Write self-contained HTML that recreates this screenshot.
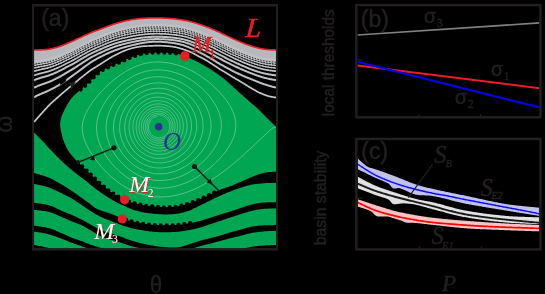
<!DOCTYPE html>
<html><head><meta charset="utf-8"><title>figure</title>
<style>html,body{margin:0;padding:0;background:#000;}svg{display:block;will-change:transform;}</style></head>
<body><svg width="545" height="294" viewBox="0 0 545 294">
<rect x="0" y="0" width="545" height="294" fill="#000"/>
<defs><clipPath id="ca"><rect x="34.00" y="6.00" width="242.20" height="242.50"/></clipPath></defs>
<g clip-path="url(#ca)">
<path d="M34.00 50.00 L34.50 49.99 L35.00 49.98 L35.50 49.97 L36.00 49.96 L36.50 49.96 L37.00 49.95 L37.50 49.94 L38.00 49.94 L38.50 49.93 L39.00 49.92 L39.50 49.91 L40.00 49.89 L40.50 49.87 L41.00 49.85 L41.50 49.83 L42.00 49.80 L42.50 49.77 L43.00 49.74 L43.50 49.71 L44.00 49.68 L44.50 49.65 L45.00 49.62 L45.50 49.59 L46.00 49.55 L46.50 49.50 L47.00 49.45 L47.50 49.39 L48.00 49.33 L48.50 49.26 L49.00 49.18 L49.50 49.09 L50.00 49.00 L50.50 48.90 L51.00 48.80 L51.50 48.69 L52.00 48.58 L52.50 48.46 L53.00 48.34 L53.50 48.22 L54.00 48.09 L54.50 47.96 L55.00 47.83 L55.50 47.69 L56.00 47.55 L56.50 47.41 L57.00 47.26 L57.50 47.11 L58.00 46.96 L58.50 46.80 L59.00 46.64 L59.50 46.47 L60.00 46.30 L60.50 46.13 L61.00 45.95 L61.50 45.76 L62.00 45.57 L62.50 45.38 L63.00 45.19 L63.50 44.99 L64.00 44.79 L64.50 44.58 L65.00 44.38 L65.50 44.17 L66.00 43.96 L66.50 43.75 L67.00 43.53 L67.50 43.32 L68.00 43.10 L68.50 42.89 L69.00 42.67 L69.50 42.45 L70.00 42.23 L70.50 42.02 L71.00 41.80 L71.50 41.58 L72.00 41.36 L72.50 41.14 L73.00 40.91 L73.50 40.69 L74.00 40.46 L74.50 40.23 L75.00 40.00 L75.50 39.76 L76.00 39.53 L76.50 39.29 L77.00 39.06 L77.50 38.83 L78.00 38.59 L78.50 38.36 L79.00 38.12 L79.50 37.89 L80.00 37.66 L80.50 37.43 L81.00 37.20 L81.50 36.97 L82.00 36.74 L82.50 36.51 L83.00 36.28 L83.50 36.05 L84.00 35.82 L84.50 35.59 L85.00 35.36 L85.50 35.13 L86.00 34.90 L86.50 34.68 L87.00 34.45 L87.50 34.22 L88.00 34.00 L88.50 33.78 L89.00 33.56 L89.50 33.34 L90.00 33.12 L90.50 32.91 L91.00 32.70 L91.50 32.49 L92.00 32.29 L92.50 32.09 L93.00 31.90 L93.50 31.70 L94.00 31.51 L94.50 31.33 L95.00 31.14 L95.50 30.96 L96.00 30.77 L96.50 30.59 L97.00 30.41 L97.50 30.23 L98.00 30.04 L98.50 29.86 L99.00 29.67 L99.50 29.49 L100.00 29.30 L100.50 29.11 L101.00 28.92 L101.50 28.72 L102.00 28.53 L102.50 28.34 L103.00 28.14 L103.50 27.95 L104.00 27.75 L104.50 27.56 L105.00 27.36 L105.50 27.17 L106.00 26.98 L106.50 26.79 L107.00 26.60 L107.50 26.41 L108.00 26.22 L108.50 26.04 L109.00 25.86 L109.50 25.68 L110.00 25.50 L110.50 25.33 L111.00 25.15 L111.50 24.98 L112.00 24.81 L112.50 24.64 L113.00 24.47 L113.50 24.30 L114.00 24.13 L114.50 23.97 L115.00 23.81 L115.50 23.65 L116.00 23.49 L116.50 23.33 L117.00 23.18 L117.50 23.02 L118.00 22.87 L118.50 22.73 L119.00 22.58 L119.50 22.44 L120.00 22.30 L120.50 22.16 L121.00 22.03 L121.50 21.90 L122.00 21.77 L122.50 21.64 L123.00 21.52 L123.50 21.39 L124.00 21.27 L124.50 21.15 L125.00 21.04 L125.50 20.92 L126.00 20.81 L126.50 20.70 L127.00 20.60 L127.50 20.49 L128.00 20.39 L128.50 20.29 L129.00 20.19 L129.50 20.09 L130.00 20.00 L130.50 19.91 L131.00 19.82 L131.50 19.73 L132.00 19.65 L132.50 19.57 L133.00 19.49 L133.50 19.41 L134.00 19.34 L134.50 19.26 L135.00 19.19 L135.50 19.13 L136.00 19.06 L136.50 19.00 L137.00 18.93 L137.50 18.87 L138.00 18.81 L138.50 18.76 L139.00 18.70 L139.50 18.65 L140.00 18.60 L140.50 18.55 L141.00 18.50 L141.50 18.46 L142.00 18.42 L142.50 18.38 L143.00 18.34 L143.50 18.31 L144.00 18.27 L144.50 18.24 L145.00 18.21 L145.50 18.18 L146.00 18.16 L146.50 18.13 L147.00 18.11 L147.50 18.09 L148.00 18.07 L148.50 18.05 L149.00 18.03 L149.50 18.02 L150.00 18.00 L150.50 17.99 L151.00 17.97 L151.50 17.96 L152.00 17.95 L152.50 17.95 L153.00 17.94 L153.50 17.94 L154.00 17.93 L154.50 17.93 L155.00 17.93 L155.50 17.93 L156.00 17.94 L156.50 17.94 L157.00 17.94 L157.50 17.95 L158.00 17.96 L158.50 17.97 L159.00 17.98 L159.50 17.99 L160.00 18.00 L160.50 18.01 L161.00 18.03 L161.50 18.04 L162.00 18.06 L162.50 18.08 L163.00 18.09 L163.50 18.11 L164.00 18.14 L164.50 18.16 L165.00 18.18 L165.50 18.21 L166.00 18.23 L166.50 18.26 L167.00 18.29 L167.50 18.32 L168.00 18.35 L168.50 18.39 L169.00 18.42 L169.50 18.46 L170.00 18.50 L170.50 18.54 L171.00 18.58 L171.50 18.62 L172.00 18.67 L172.50 18.71 L173.00 18.76 L173.50 18.81 L174.00 18.86 L174.50 18.91 L175.00 18.96 L175.50 19.02 L176.00 19.07 L176.50 19.13 L177.00 19.19 L177.50 19.25 L178.00 19.32 L178.50 19.39 L179.00 19.45 L179.50 19.53 L180.00 19.60 L180.50 19.68 L181.00 19.75 L181.50 19.83 L182.00 19.91 L182.50 19.99 L183.00 20.08 L183.50 20.16 L184.00 20.25 L184.50 20.34 L185.00 20.43 L185.50 20.53 L186.00 20.62 L186.50 20.72 L187.00 20.82 L187.50 20.93 L188.00 21.04 L188.50 21.15 L189.00 21.26 L189.50 21.38 L190.00 21.50 L190.50 21.62 L191.00 21.75 L191.50 21.88 L192.00 22.02 L192.50 22.15 L193.00 22.29 L193.50 22.44 L194.00 22.58 L194.50 22.73 L195.00 22.88 L195.50 23.03 L196.00 23.19 L196.50 23.35 L197.00 23.51 L197.50 23.67 L198.00 23.83 L198.50 24.00 L199.00 24.16 L199.50 24.33 L200.00 24.50 L200.50 24.67 L201.00 24.84 L201.50 25.02 L202.00 25.19 L202.50 25.37 L203.00 25.55 L203.50 25.73 L204.00 25.91 L204.50 26.09 L205.00 26.28 L205.50 26.46 L206.00 26.65 L206.50 26.84 L207.00 27.03 L207.50 27.22 L208.00 27.41 L208.50 27.61 L209.00 27.80 L209.50 28.00 L210.00 28.20 L210.50 28.40 L211.00 28.60 L211.50 28.80 L212.00 29.01 L212.50 29.22 L213.00 29.43 L213.50 29.64 L214.00 29.85 L214.50 30.07 L215.00 30.29 L215.50 30.51 L216.00 30.73 L216.50 30.95 L217.00 31.18 L217.50 31.40 L218.00 31.63 L218.50 31.85 L219.00 32.08 L219.50 32.31 L220.00 32.54 L220.50 32.77 L221.00 33.00 L221.50 33.23 L222.00 33.47 L222.50 33.70 L223.00 33.94 L223.50 34.18 L224.00 34.42 L224.50 34.67 L225.00 34.91 L225.50 35.16 L226.00 35.40 L226.50 35.64 L227.00 35.89 L227.50 36.13 L228.00 36.38 L228.50 36.62 L229.00 36.86 L229.50 37.10 L230.00 37.33 L230.50 37.57 L231.00 37.80 L231.50 38.03 L232.00 38.26 L232.50 38.49 L233.00 38.71 L233.50 38.94 L234.00 39.17 L234.50 39.39 L235.00 39.62 L235.50 39.84 L236.00 40.06 L236.50 40.28 L237.00 40.50 L237.50 40.72 L238.00 40.93 L238.50 41.15 L239.00 41.36 L239.50 41.58 L240.00 41.79 L240.50 41.99 L241.00 42.20 L241.50 42.40 L242.00 42.61 L242.50 42.81 L243.00 43.01 L243.50 43.22 L244.00 43.41 L244.50 43.61 L245.00 43.81 L245.50 44.00 L246.00 44.19 L246.50 44.38 L247.00 44.56 L247.50 44.74 L248.00 44.92 L248.50 45.10 L249.00 45.27 L249.50 45.44 L250.00 45.60 L250.50 45.76 L251.00 45.92 L251.50 46.08 L252.00 46.23 L252.50 46.39 L253.00 46.54 L253.50 46.69 L254.00 46.83 L254.50 46.98 L255.00 47.12 L255.50 47.26 L256.00 47.40 L256.50 47.53 L257.00 47.67 L257.50 47.80 L258.00 47.92 L258.50 48.05 L259.00 48.17 L259.50 48.29 L260.00 48.40 L260.50 48.51 L261.00 48.61 L261.50 48.71 L262.00 48.81 L262.50 48.90 L263.00 48.98 L263.50 49.06 L264.00 49.13 L264.50 49.20 L265.00 49.27 L265.50 49.33 L266.00 49.39 L266.50 49.45 L267.00 49.50 L267.50 49.55 L268.00 49.60 L268.50 49.65 L269.00 49.69 L269.50 49.72 L270.00 49.75 L270.50 49.78 L271.00 49.81 L271.50 49.83 L272.00 49.85 L272.50 49.86 L273.00 49.88 L273.50 49.90 L274.00 49.91 L274.50 49.93 L275.00 49.95 L275.50 49.97 L276.00 49.99 L276.00 63.57 L275.50 63.51 L275.00 63.45 L274.50 63.39 L274.00 63.33 L273.50 63.27 L273.00 63.21 L272.50 63.15 L272.00 63.09 L271.50 63.02 L271.00 62.96 L270.50 62.89 L270.00 62.82 L269.50 62.74 L269.00 62.66 L268.50 62.57 L268.00 62.48 L267.50 62.38 L267.00 62.28 L266.50 62.18 L266.00 62.08 L265.50 61.98 L265.00 61.87 L264.50 61.76 L264.00 61.64 L263.50 61.52 L263.00 61.40 L262.50 61.27 L262.00 61.14 L261.50 61.00 L261.00 60.86 L260.50 60.71 L260.00 60.56 L259.50 60.41 L259.00 60.25 L258.50 60.09 L258.00 59.93 L257.50 59.76 L257.00 59.59 L256.50 59.42 L256.00 59.25 L255.50 59.08 L255.00 58.90 L254.50 58.73 L254.00 58.55 L253.50 58.37 L253.00 58.20 L252.50 58.02 L252.00 57.84 L251.50 57.65 L251.00 57.47 L250.50 57.29 L250.00 57.10 L249.50 56.91 L249.00 56.72 L248.50 56.53 L248.00 56.33 L247.50 56.14 L247.00 55.94 L246.50 55.73 L246.00 55.53 L245.50 55.32 L245.00 55.11 L244.50 54.90 L244.00 54.69 L243.50 54.48 L243.00 54.26 L242.50 54.04 L242.00 53.83 L241.50 53.61 L241.00 53.39 L240.50 53.18 L240.00 52.96 L239.50 52.74 L239.00 52.51 L238.50 52.29 L238.00 52.07 L237.50 51.84 L237.00 51.61 L236.50 51.39 L236.00 51.16 L235.50 50.93 L235.00 50.70 L234.50 50.47 L234.00 50.24 L233.50 50.01 L233.00 49.77 L232.50 49.54 L232.00 49.31 L231.50 49.07 L231.00 48.84 L230.50 48.60 L230.00 48.37 L229.50 48.13 L229.00 47.88 L228.50 47.64 L228.00 47.40 L227.50 47.15 L227.00 46.90 L226.50 46.66 L226.00 46.41 L225.50 46.16 L225.00 45.92 L224.50 45.67 L224.00 45.43 L223.50 45.18 L223.00 44.94 L222.50 44.70 L222.00 44.47 L221.50 44.23 L221.00 44.00 L220.50 43.77 L220.00 43.54 L219.50 43.31 L219.00 43.08 L218.50 42.86 L218.00 42.63 L217.50 42.41 L217.00 42.18 L216.50 41.96 L216.00 41.74 L215.50 41.52 L215.00 41.31 L214.50 41.09 L214.00 40.88 L213.50 40.67 L213.00 40.47 L212.50 40.26 L212.00 40.06 L211.50 39.86 L211.00 39.66 L210.50 39.47 L210.00 39.27 L209.50 39.08 L209.00 38.89 L208.50 38.71 L208.00 38.52 L207.50 38.34 L207.00 38.15 L206.50 37.97 L206.00 37.79 L205.50 37.61 L205.00 37.44 L204.50 37.26 L204.00 37.09 L203.50 36.92 L203.00 36.75 L202.50 36.58 L202.00 36.42 L201.50 36.25 L201.00 36.09 L200.50 35.93 L200.00 35.77 L199.50 35.61 L199.00 35.46 L198.50 35.30 L198.00 35.15 L197.50 35.00 L197.00 34.85 L196.50 34.70 L196.00 34.55 L195.50 34.41 L195.00 34.27 L194.50 34.13 L194.00 33.99 L193.50 33.86 L193.00 33.72 L192.50 33.60 L192.00 33.47 L191.50 33.35 L191.00 33.23 L190.50 33.11 L190.00 33.00 L189.50 32.89 L189.00 32.79 L188.50 32.68 L188.00 32.59 L187.50 32.49 L187.00 32.40 L186.50 32.31 L186.00 32.23 L185.50 32.15 L185.00 32.07 L184.50 31.99 L184.00 31.92 L183.50 31.85 L183.00 31.78 L182.50 31.71 L182.00 31.65 L181.50 31.58 L181.00 31.52 L180.50 31.46 L180.00 31.41 L179.50 31.35 L179.00 31.30 L178.50 31.25 L178.00 31.20 L177.50 31.15 L177.00 31.11 L176.50 31.06 L176.00 31.02 L175.50 30.98 L175.00 30.95 L174.50 30.91 L174.00 30.88 L173.50 30.85 L173.00 30.82 L172.50 30.79 L172.00 30.76 L171.50 30.73 L171.00 30.71 L170.50 30.69 L170.00 30.66 L169.50 30.64 L169.00 30.62 L168.50 30.60 L168.00 30.58 L167.50 30.57 L167.00 30.55 L166.50 30.54 L166.00 30.52 L165.50 30.51 L165.00 30.50 L164.50 30.49 L164.00 30.48 L163.50 30.48 L163.00 30.47 L162.50 30.47 L162.00 30.46 L161.50 30.46 L161.00 30.46 L160.50 30.45 L160.00 30.45 L159.50 30.45 L159.00 30.45 L158.50 30.45 L158.00 30.45 L157.50 30.46 L157.00 30.46 L156.50 30.46 L156.00 30.47 L155.50 30.47 L155.00 30.48 L154.50 30.49 L154.00 30.50 L153.50 30.50 L153.00 30.51 L152.50 30.53 L152.00 30.54 L151.50 30.55 L151.00 30.57 L150.50 30.58 L150.00 30.60 L149.50 30.62 L149.00 30.64 L148.50 30.66 L148.00 30.68 L147.50 30.70 L147.00 30.72 L146.50 30.74 L146.00 30.77 L145.50 30.79 L145.00 30.82 L144.50 30.85 L144.00 30.88 L143.50 30.91 L143.00 30.94 L142.50 30.97 L142.00 31.01 L141.50 31.05 L141.00 31.09 L140.50 31.13 L140.00 31.18 L139.50 31.22 L139.00 31.27 L138.50 31.32 L138.00 31.37 L137.50 31.42 L137.00 31.48 L136.50 31.53 L136.00 31.59 L135.50 31.65 L135.00 31.71 L134.50 31.78 L134.00 31.84 L133.50 31.91 L133.00 31.98 L132.50 32.06 L132.00 32.13 L131.50 32.21 L131.00 32.29 L130.50 32.37 L130.00 32.45 L129.50 32.54 L129.00 32.62 L128.50 32.71 L128.00 32.81 L127.50 32.90 L127.00 33.00 L126.50 33.10 L126.00 33.20 L125.50 33.30 L125.00 33.41 L124.50 33.51 L124.00 33.62 L123.50 33.74 L123.00 33.85 L122.50 33.97 L122.00 34.09 L121.50 34.21 L121.00 34.33 L120.50 34.45 L120.00 34.58 L119.50 34.71 L119.00 34.85 L118.50 34.98 L118.00 35.12 L117.50 35.26 L117.00 35.41 L116.50 35.55 L116.00 35.70 L115.50 35.85 L115.00 36.00 L114.50 36.16 L114.00 36.31 L113.50 36.47 L113.00 36.63 L112.50 36.79 L112.00 36.95 L111.50 37.12 L111.00 37.28 L110.50 37.45 L110.00 37.62 L109.50 37.79 L109.00 37.96 L108.50 38.13 L108.00 38.31 L107.50 38.49 L107.00 38.67 L106.50 38.85 L106.00 39.04 L105.50 39.22 L105.00 39.41 L104.50 39.60 L104.00 39.79 L103.50 39.98 L103.00 40.17 L102.50 40.36 L102.00 40.55 L101.50 40.74 L101.00 40.93 L100.50 41.11 L100.00 41.30 L99.50 41.49 L99.00 41.67 L98.50 41.85 L98.00 42.03 L97.50 42.21 L97.00 42.39 L96.50 42.57 L96.00 42.75 L95.50 42.92 L95.00 43.11 L94.50 43.29 L94.00 43.47 L93.50 43.66 L93.00 43.85 L92.50 44.04 L92.00 44.23 L91.50 44.43 L91.00 44.64 L90.50 44.84 L90.00 45.05 L89.50 45.26 L89.00 45.48 L88.50 45.69 L88.00 45.91 L87.50 46.13 L87.00 46.36 L86.50 46.58 L86.00 46.80 L85.50 47.03 L85.00 47.26 L84.50 47.48 L84.00 47.71 L83.50 47.94 L83.00 48.17 L82.50 48.39 L82.00 48.62 L81.50 48.85 L81.00 49.07 L80.50 49.30 L80.00 49.53 L79.50 49.76 L79.00 49.99 L78.50 50.22 L78.00 50.45 L77.50 50.69 L77.00 50.92 L76.50 51.15 L76.00 51.39 L75.50 51.62 L75.00 51.85 L74.50 52.08 L74.00 52.31 L73.50 52.54 L73.00 52.77 L72.50 53.00 L72.00 53.22 L71.50 53.44 L71.00 53.66 L70.50 53.88 L70.00 54.10 L69.50 54.32 L69.00 54.54 L68.50 54.76 L68.00 54.98 L67.50 55.20 L67.00 55.42 L66.50 55.64 L66.00 55.86 L65.50 56.07 L65.00 56.29 L64.50 56.50 L64.00 56.71 L63.50 56.92 L63.00 57.13 L62.50 57.33 L62.00 57.53 L61.50 57.73 L61.00 57.92 L60.50 58.11 L60.00 58.30 L59.50 58.48 L59.00 58.66 L58.50 58.84 L58.00 59.01 L57.50 59.18 L57.00 59.35 L56.50 59.52 L56.00 59.68 L55.50 59.84 L55.00 60.00 L54.50 60.15 L54.00 60.31 L53.50 60.46 L53.00 60.61 L52.50 60.75 L52.00 60.89 L51.50 61.03 L51.00 61.17 L50.50 61.30 L50.00 61.43 L49.50 61.56 L49.00 61.68 L48.50 61.79 L48.00 61.89 L47.50 61.99 L47.00 62.09 L46.50 62.17 L46.00 62.25 L45.50 62.33 L45.00 62.41 L44.50 62.48 L44.00 62.55 L43.50 62.61 L43.00 62.68 L42.50 62.75 L42.00 62.82 L41.50 62.89 L41.00 62.95 L40.50 63.01 L40.00 63.07 L39.50 63.12 L39.00 63.17 L38.50 63.22 L38.00 63.26 L37.50 63.31 L37.00 63.35 L36.50 63.39 L36.00 63.43 L35.50 63.47 L35.00 63.52 L34.50 63.56 L34.00 63.60Z" fill="#b7b8bb"/>
<path d="M34.00 97.30 L34.50 97.04 L35.00 96.77 L35.50 96.51 L36.00 96.24 L36.50 95.98 L37.00 95.72 L37.50 95.46 L38.00 95.22 L38.50 94.97 L39.00 94.74 L39.50 94.51 L40.00 94.29 L40.50 94.07 L41.00 93.86 L41.50 93.65 L42.00 93.44 L42.50 93.23 L43.00 93.02 L43.50 92.81 L44.00 92.61 L44.50 92.40 L45.00 92.18 L45.50 91.96 L46.00 91.74 L46.50 91.52 L47.00 91.30 L47.50 91.08 L48.00 90.85 L48.50 90.62 L49.00 90.39 L49.50 90.15 L50.00 89.91 L50.50 89.66 L51.00 89.41 L51.50 89.16 L52.00 88.90 L52.50 88.64 L53.00 88.38 L53.50 88.12 L54.00 87.85 L54.50 87.58 L55.00 87.30 L55.50 87.02 L56.00 86.74 L56.50 86.46 L57.00 86.17 L57.50 85.88 L58.00 85.58 L58.50 85.29 L59.00 84.98 L59.50 84.68 L60.00 84.37 L60.50 84.06 L61.00 83.74 L61.50 83.42 L62.00 83.09 L62.50 82.76 L63.00 82.43 L63.50 82.09 L64.00 81.75 L64.50 81.41 L65.00 81.07 L65.50 80.72 L66.00 80.37 L66.50 80.02 L67.00 79.67 L67.50 79.32 L68.00 78.96 L68.50 78.61 L69.00 78.25 L69.50 77.90 L70.00 77.54 L70.50 77.19 L71.00 76.83 L71.50 76.48 L72.00 76.12 L72.50 75.76 L73.00 75.39 L73.50 75.03 L74.00 74.66 L74.50 74.30 L75.00 73.93 L75.50 73.56 L76.00 73.19 L76.50 72.82 L77.00 72.45 L77.50 72.08 L78.00 71.71 L78.50 71.34 L79.00 70.97 L79.50 70.61 L80.00 70.24 L80.50 69.88 L81.00 69.51 L81.50 69.15 L82.00 68.78 L82.50 68.41 L83.00 68.04 L83.50 67.67 L84.00 67.29 L84.50 66.92 L85.00 66.55 L85.50 66.17 L86.00 65.80 L86.50 65.43 L87.00 65.06 L87.50 64.70 L88.00 64.33 L88.50 63.97 L89.00 63.62 L89.50 63.27 L90.00 62.92 L90.50 62.58 L91.00 62.24 L91.50 61.91 L92.00 61.59 L92.50 61.28 L93.00 60.97 L93.50 60.67 L94.00 60.37 L94.50 60.09 L95.00 59.80 L95.50 59.53 L96.00 59.26 L96.50 58.99 L97.00 58.72 L97.50 58.46 L98.00 58.20 L98.50 57.94 L99.00 57.68 L99.50 57.43 L100.00 57.17 L100.50 56.92 L101.00 56.66 L101.50 56.41 L102.00 56.16 L102.50 55.90 L103.00 55.66 L103.50 55.41 L104.00 55.16 L104.50 54.92 L105.00 54.67 L105.50 54.43 L106.00 54.19 L106.50 53.96 L107.00 53.72 L107.50 53.49 L108.00 53.26 L108.50 53.03 L109.00 52.81 L109.50 52.59 L110.00 52.37 L110.50 52.16 L111.00 51.94 L111.50 51.73 L112.00 51.53 L112.50 51.32 L113.00 51.12 L113.50 50.92 L114.00 50.73 L114.50 50.53 L115.00 50.34 L115.50 50.15 L116.00 49.97 L116.50 49.78 L117.00 49.60 L117.50 49.43 L118.00 49.25 L118.50 49.08 L119.00 48.91 L119.50 48.75 L120.00 48.58 L120.50 48.42 L121.00 48.27 L121.50 48.11 L122.00 47.96 L122.50 47.81 L123.00 47.66 L123.50 47.51 L124.00 47.36 L124.50 47.22 L125.00 47.08 L125.50 46.94 L126.00 46.80 L126.50 46.66 L127.00 46.53 L127.50 46.39 L128.00 46.26 L128.50 46.13 L129.00 46.00 L129.50 45.88 L130.00 45.75 L130.50 45.62 L131.00 45.50 L131.50 45.38 L132.00 45.26 L132.50 45.13 L133.00 45.01 L133.50 44.89 L134.00 44.78 L134.50 44.66 L135.00 44.54 L135.50 44.43 L136.00 44.32 L136.50 44.20 L137.00 44.09 L137.50 43.99 L138.00 43.88 L138.50 43.77 L139.00 43.67 L139.50 43.57 L140.00 43.47 L140.50 43.37 L141.00 43.28 L141.50 43.18 L142.00 43.09 L142.50 43.01 L143.00 42.92 L143.50 42.84 L144.00 42.76 L144.50 42.69 L145.00 42.61 L145.50 42.54 L146.00 42.47 L146.50 42.41 L147.00 42.34 L147.50 42.28 L148.00 42.23 L148.50 42.17 L149.00 42.12 L149.50 42.07 L150.00 42.02 L150.50 41.98 L151.00 41.94 L151.50 41.90 L152.00 41.87 L152.50 41.84 L153.00 41.81 L153.50 41.79 L154.00 41.77 L154.50 41.76 L155.00 41.75 L155.50 41.74 L156.00 41.74 L156.50 41.74 L157.00 41.74 L157.50 41.74 L158.00 41.75 L158.50 41.76 L159.00 41.77 L159.50 41.79 L160.00 41.80 L160.50 41.82 L161.00 41.84 L161.50 41.87 L162.00 41.89 L162.50 41.92 L163.00 41.95 L163.50 41.98 L164.00 42.01 L164.50 42.05 L165.00 42.09 L165.50 42.13 L166.00 42.17 L166.50 42.22 L167.00 42.26 L167.50 42.31 L168.00 42.37 L168.50 42.42 L169.00 42.48 L169.50 42.54 L170.00 42.60 L170.50 42.67 L171.00 42.73 L171.50 42.80 L172.00 42.87 L172.50 42.94 L173.00 43.02 L173.50 43.10 L174.00 43.18 L174.50 43.26 L175.00 43.34 L175.50 43.43 L176.00 43.52 L176.50 43.61 L177.00 43.71 L177.50 43.81 L178.00 43.91 L178.50 44.02 L179.00 44.12 L179.50 44.24 L180.00 44.35 L180.50 44.47 L181.00 44.60 L181.50 44.73 L182.00 44.86 L182.50 45.00 L183.00 45.15 L183.50 45.30 L184.00 45.45 L184.50 45.61 L185.00 45.78 L185.50 45.96 L186.00 46.14 L186.50 46.32 L187.00 46.52 L187.50 46.71 L188.00 46.92 L188.50 47.13 L189.00 47.34 L189.50 47.56 L190.00 47.79 L190.50 48.02 L191.00 48.25 L191.50 48.48 L192.00 48.71 L192.50 48.95 L193.00 49.19 L193.50 49.43 L194.00 49.66 L194.50 49.90 L195.00 50.14 L195.50 50.37 L196.00 50.61 L196.50 50.86 L197.00 51.10 L197.50 51.35 L198.00 51.59 L198.50 51.84 L199.00 52.09 L199.50 52.35 L200.00 52.60 L200.50 52.85 L201.00 53.11 L201.50 53.37 L202.00 53.63 L202.50 53.89 L203.00 54.15 L203.50 54.42 L204.00 54.68 L204.50 54.95 L205.00 55.22 L205.50 55.49 L206.00 55.76 L206.50 56.04 L207.00 56.31 L207.50 56.59 L208.00 56.86 L208.50 57.14 L209.00 57.42 L209.50 57.70 L210.00 57.99 L210.50 58.27 L211.00 58.56 L211.50 58.85 L212.00 59.14 L212.50 59.44 L213.00 59.74 L213.50 60.06 L214.00 60.38 L214.50 60.71 L215.00 61.04 L215.50 61.37 L216.00 61.70 L216.50 62.02 L217.00 62.33 L217.50 62.63 L218.00 62.92 L218.50 63.21 L219.00 63.49 L219.50 63.77 L220.00 64.05 L220.50 64.33 L221.00 64.60 L221.50 64.87 L222.00 65.14 L222.50 65.42 L223.00 65.69 L223.50 65.96 L224.00 66.24 L224.50 66.52 L225.00 66.79 L225.50 67.07 L226.00 67.34 L226.50 67.62 L227.00 67.89 L227.50 68.16 L228.00 68.43 L228.50 68.70 L229.00 68.97 L229.50 69.24 L230.00 69.50 L230.50 69.76 L231.00 70.02 L231.50 70.28 L232.00 70.53 L232.50 70.78 L233.00 71.04 L233.50 71.29 L234.00 71.54 L234.50 71.79 L235.00 72.04 L235.50 72.29 L236.00 72.53 L236.50 72.78 L237.00 73.03 L237.50 73.27 L238.00 73.51 L238.50 73.75 L239.00 73.99 L239.50 74.23 L240.00 74.47 L240.50 74.70 L241.00 74.93 L241.50 75.16 L242.00 75.39 L242.50 75.61 L243.00 75.84 L243.50 76.05 L244.00 76.27 L244.50 76.49 L245.00 76.70 L245.50 76.91 L246.00 77.11 L246.50 77.32 L247.00 77.52 L247.50 77.72 L248.00 77.91 L248.50 78.11 L249.00 78.30 L249.50 78.50 L250.00 78.69 L250.50 78.88 L251.00 79.07 L251.50 79.27 L252.00 79.47 L252.50 79.66 L253.00 79.86 L253.50 80.07 L254.00 80.27 L254.50 80.47 L255.00 80.68 L255.50 80.88 L256.00 81.09 L256.50 81.30 L257.00 81.50 L257.50 81.71 L258.00 81.91 L258.50 82.12 L259.00 82.32 L259.50 82.52 L260.00 82.72 L260.50 82.92 L261.00 83.11 L261.50 83.30 L262.00 83.49 L262.50 83.67 L263.00 83.84 L263.50 84.02 L264.00 84.19 L264.50 84.35 L265.00 84.51 L265.50 84.67 L266.00 84.82 L266.50 84.98 L267.00 85.14 L267.50 85.29 L268.00 85.45 L268.50 85.60 L269.00 85.75 L269.50 85.90 L270.00 86.05 L270.50 86.19 L271.00 86.33 L271.50 86.46 L272.00 86.60 L272.50 86.73 L273.00 86.86 L273.50 86.99 L274.00 87.12 L274.50 87.25 L275.00 87.38 L275.50 87.52 L276.00 87.65" fill="none" stroke="#c0c1c4" stroke-width="2.00"/>
<path d="M34.00 87.70 L34.50 87.47 L35.00 87.25 L35.50 87.02 L36.00 86.79 L36.50 86.56 L37.00 86.34 L37.50 86.12 L38.00 85.91 L38.50 85.70 L39.00 85.50 L39.50 85.31 L40.00 85.12 L40.50 84.93 L41.00 84.75 L41.50 84.57 L42.00 84.39 L42.50 84.22 L43.00 84.05 L43.50 83.88 L44.00 83.72 L44.50 83.55 L45.00 83.38 L45.50 83.21 L46.00 83.03 L46.50 82.85 L47.00 82.67 L47.50 82.49 L48.00 82.30 L48.50 82.10 L49.00 81.90 L49.50 81.70 L50.00 81.49 L50.50 81.27 L51.00 81.05 L51.50 80.82 L52.00 80.60 L52.50 80.37 L53.00 80.14 L53.50 79.90 L54.00 79.66 L54.50 79.42 L55.00 79.18 L55.50 78.93 L56.00 78.68 L56.50 78.43 L57.00 78.18 L57.50 77.92 L58.00 77.65 L58.50 77.39 L59.00 77.12 L59.50 76.85 L60.00 76.58 L60.50 76.30 L61.00 76.02 L61.50 75.73 L62.00 75.45 L62.50 75.15 L63.00 74.86 L63.50 74.56 L64.00 74.27 L64.50 73.97 L65.00 73.67 L65.50 73.37 L66.00 73.07 L66.50 72.77 L67.00 72.47 L67.50 72.17 L68.00 71.87 L68.50 71.58 L69.00 71.28 L69.50 70.98 L70.00 70.69 L70.50 70.39 L71.00 70.10 L71.50 69.80 L72.00 69.51 L72.50 69.21 L73.00 68.90 L73.50 68.59 L74.00 68.28 L74.50 67.97 L75.00 67.65 L75.50 67.33 L76.00 67.01 L76.50 66.69 L77.00 66.36 L77.50 66.03 L78.00 65.70 L78.50 65.37 L79.00 65.04 L79.50 64.71 L80.00 64.38 L80.50 64.06 L81.00 63.74 L81.50 63.42 L82.00 63.10 L82.50 62.78 L83.00 62.45 L83.50 62.13 L84.00 61.81 L84.50 61.49 L85.00 61.17 L85.50 60.85 L86.00 60.53 L86.50 60.21 L87.00 59.90 L87.50 59.58 L88.00 59.27 L88.50 58.96 L89.00 58.66 L89.50 58.35 L90.00 58.06 L90.50 57.76 L91.00 57.47 L91.50 57.19 L92.00 56.91 L92.50 56.64 L93.00 56.37 L93.50 56.11 L94.00 55.85 L94.50 55.60 L95.00 55.36 L95.50 55.11 L96.00 54.87 L96.50 54.63 L97.00 54.39 L97.50 54.16 L98.00 53.92 L98.50 53.69 L99.00 53.45 L99.50 53.22 L100.00 52.98 L100.50 52.74 L101.00 52.51 L101.50 52.27 L102.00 52.04 L102.50 51.80 L103.00 51.57 L103.50 51.33 L104.00 51.10 L104.50 50.87 L105.00 50.64 L105.50 50.42 L106.00 50.19 L106.50 49.97 L107.00 49.75 L107.50 49.54 L108.00 49.32 L108.50 49.11 L109.00 48.90 L109.50 48.70 L110.00 48.50 L110.50 48.30 L111.00 48.11 L111.50 47.91 L112.00 47.73 L112.50 47.54 L113.00 47.36 L113.50 47.18 L114.00 47.00 L114.50 46.82 L115.00 46.65 L115.50 46.48 L116.00 46.31 L116.50 46.15 L117.00 45.99 L117.50 45.83 L118.00 45.67 L118.50 45.52 L119.00 45.37 L119.50 45.22 L120.00 45.07 L120.50 44.93 L121.00 44.79 L121.50 44.65 L122.00 44.52 L122.50 44.38 L123.00 44.25 L123.50 44.12 L124.00 43.99 L124.50 43.86 L125.00 43.73 L125.50 43.61 L126.00 43.48 L126.50 43.36 L127.00 43.24 L127.50 43.12 L128.00 43.01 L128.50 42.89 L129.00 42.77 L129.50 42.66 L130.00 42.55 L130.50 42.43 L131.00 42.32 L131.50 42.21 L132.00 42.11 L132.50 42.00 L133.00 41.89 L133.50 41.79 L134.00 41.68 L134.50 41.58 L135.00 41.48 L135.50 41.38 L136.00 41.28 L136.50 41.19 L137.00 41.09 L137.50 41.00 L138.00 40.91 L138.50 40.82 L139.00 40.73 L139.50 40.64 L140.00 40.56 L140.50 40.47 L141.00 40.39 L141.50 40.32 L142.00 40.24 L142.50 40.17 L143.00 40.10 L143.50 40.03 L144.00 39.96 L144.50 39.90 L145.00 39.84 L145.50 39.78 L146.00 39.72 L146.50 39.67 L147.00 39.62 L147.50 39.57 L148.00 39.52 L148.50 39.47 L149.00 39.43 L149.50 39.39 L150.00 39.35 L150.50 39.31 L151.00 39.28 L151.50 39.25 L152.00 39.22 L152.50 39.20 L153.00 39.17 L153.50 39.16 L154.00 39.14 L154.50 39.13 L155.00 39.12 L155.50 39.11 L156.00 39.10 L156.50 39.10 L157.00 39.10 L157.50 39.10 L158.00 39.11 L158.50 39.11 L159.00 39.12 L159.50 39.13 L160.00 39.14 L160.50 39.15 L161.00 39.17 L161.50 39.18 L162.00 39.20 L162.50 39.22 L163.00 39.24 L163.50 39.27 L164.00 39.29 L164.50 39.32 L165.00 39.35 L165.50 39.38 L166.00 39.41 L166.50 39.45 L167.00 39.48 L167.50 39.52 L168.00 39.56 L168.50 39.61 L169.00 39.65 L169.50 39.70 L170.00 39.75 L170.50 39.80 L171.00 39.86 L171.50 39.91 L172.00 39.97 L172.50 40.03 L173.00 40.09 L173.50 40.15 L174.00 40.22 L174.50 40.28 L175.00 40.35 L175.50 40.43 L176.00 40.50 L176.50 40.58 L177.00 40.66 L177.50 40.74 L178.00 40.83 L178.50 40.92 L179.00 41.01 L179.50 41.10 L180.00 41.20 L180.50 41.31 L181.00 41.41 L181.50 41.52 L182.00 41.63 L182.50 41.75 L183.00 41.87 L183.50 42.00 L184.00 42.13 L184.50 42.27 L185.00 42.41 L185.50 42.55 L186.00 42.70 L186.50 42.86 L187.00 43.02 L187.50 43.19 L188.00 43.36 L188.50 43.53 L189.00 43.71 L189.50 43.90 L190.00 44.09 L190.50 44.28 L191.00 44.48 L191.50 44.67 L192.00 44.88 L192.50 45.08 L193.00 45.28 L193.50 45.49 L194.00 45.69 L194.50 45.90 L195.00 46.11 L195.50 46.32 L196.00 46.53 L196.50 46.74 L197.00 46.96 L197.50 47.18 L198.00 47.39 L198.50 47.62 L199.00 47.84 L199.50 48.06 L200.00 48.28 L200.50 48.51 L201.00 48.74 L201.50 48.97 L202.00 49.20 L202.50 49.43 L203.00 49.67 L203.50 49.90 L204.00 50.14 L204.50 50.38 L205.00 50.62 L205.50 50.87 L206.00 51.11 L206.50 51.36 L207.00 51.60 L207.50 51.85 L208.00 52.10 L208.50 52.35 L209.00 52.60 L209.50 52.86 L210.00 53.11 L210.50 53.37 L211.00 53.63 L211.50 53.89 L212.00 54.16 L212.50 54.43 L213.00 54.71 L213.50 55.00 L214.00 55.29 L214.50 55.59 L215.00 55.90 L215.50 56.21 L216.00 56.51 L216.50 56.81 L217.00 57.10 L217.50 57.38 L218.00 57.65 L218.50 57.92 L219.00 58.19 L219.50 58.45 L220.00 58.72 L220.50 58.97 L221.00 59.23 L221.50 59.49 L222.00 59.75 L222.50 60.01 L223.00 60.27 L223.50 60.53 L224.00 60.79 L224.50 61.05 L225.00 61.31 L225.50 61.57 L226.00 61.83 L226.50 62.10 L227.00 62.36 L227.50 62.62 L228.00 62.88 L228.50 63.13 L229.00 63.39 L229.50 63.64 L230.00 63.89 L230.50 64.14 L231.00 64.39 L231.50 64.63 L232.00 64.87 L232.50 65.11 L233.00 65.36 L233.50 65.60 L234.00 65.84 L234.50 66.07 L235.00 66.31 L235.50 66.55 L236.00 66.78 L236.50 67.02 L237.00 67.25 L237.50 67.48 L238.00 67.72 L238.50 67.95 L239.00 68.18 L239.50 68.41 L240.00 68.63 L240.50 68.86 L241.00 69.08 L241.50 69.30 L242.00 69.52 L242.50 69.74 L243.00 69.96 L243.50 70.18 L244.00 70.39 L244.50 70.61 L245.00 70.82 L245.50 71.03 L246.00 71.24 L246.50 71.44 L247.00 71.65 L247.50 71.85 L248.00 72.05 L248.50 72.25 L249.00 72.45 L249.50 72.64 L250.00 72.83 L250.50 73.02 L251.00 73.21 L251.50 73.40 L252.00 73.59 L252.50 73.78 L253.00 73.97 L253.50 74.16 L254.00 74.34 L254.50 74.53 L255.00 74.71 L255.50 74.90 L256.00 75.08 L256.50 75.26 L257.00 75.44 L257.50 75.62 L258.00 75.80 L258.50 75.97 L259.00 76.14 L259.50 76.31 L260.00 76.48 L260.50 76.64 L261.00 76.80 L261.50 76.95 L262.00 77.10 L262.50 77.25 L263.00 77.39 L263.50 77.53 L264.00 77.66 L264.50 77.79 L265.00 77.91 L265.50 78.03 L266.00 78.15 L266.50 78.27 L267.00 78.39 L267.50 78.51 L268.00 78.62 L268.50 78.74 L269.00 78.85 L269.50 78.95 L270.00 79.06 L270.50 79.16 L271.00 79.25 L271.50 79.35 L272.00 79.44 L272.50 79.53 L273.00 79.62 L273.50 79.71 L274.00 79.80 L274.50 79.89 L275.00 79.98 L275.50 80.07 L276.00 80.16" fill="none" stroke="#c0c1c4" stroke-width="2.00"/>
<path d="M34.00 80.20 L34.50 80.01 L35.00 79.82 L35.50 79.62 L36.00 79.43 L36.50 79.24 L37.00 79.06 L37.50 78.87 L38.00 78.69 L38.50 78.52 L39.00 78.36 L39.50 78.20 L40.00 78.04 L40.50 77.88 L41.00 77.73 L41.50 77.58 L42.00 77.43 L42.50 77.29 L43.00 77.15 L43.50 77.01 L44.00 76.88 L44.50 76.75 L45.00 76.61 L45.50 76.47 L46.00 76.33 L46.50 76.19 L47.00 76.04 L47.50 75.89 L48.00 75.73 L48.50 75.56 L49.00 75.39 L49.50 75.21 L50.00 75.02 L50.50 74.83 L51.00 74.63 L51.50 74.43 L52.00 74.23 L52.50 74.03 L53.00 73.82 L53.50 73.61 L54.00 73.40 L54.50 73.19 L55.00 72.97 L55.50 72.75 L56.00 72.52 L56.50 72.30 L57.00 72.07 L57.50 71.83 L58.00 71.60 L58.50 71.36 L59.00 71.12 L59.50 70.88 L60.00 70.63 L60.50 70.38 L61.00 70.12 L61.50 69.87 L62.00 69.61 L62.50 69.34 L63.00 69.08 L63.50 68.81 L64.00 68.54 L64.50 68.28 L65.00 68.01 L65.50 67.74 L66.00 67.47 L66.50 67.21 L67.00 66.95 L67.50 66.68 L68.00 66.42 L68.50 66.16 L69.00 65.90 L69.50 65.64 L70.00 65.39 L70.50 65.13 L71.00 64.88 L71.50 64.62 L72.00 64.36 L72.50 64.10 L73.00 63.83 L73.50 63.56 L74.00 63.29 L74.50 63.01 L75.00 62.72 L75.50 62.44 L76.00 62.15 L76.50 61.85 L77.00 61.56 L77.50 61.26 L78.00 60.96 L78.50 60.65 L79.00 60.35 L79.50 60.05 L80.00 59.75 L80.50 59.46 L81.00 59.16 L81.50 58.87 L82.00 58.58 L82.50 58.29 L83.00 58.01 L83.50 57.72 L84.00 57.44 L84.50 57.15 L85.00 56.86 L85.50 56.58 L86.00 56.29 L86.50 56.01 L87.00 55.73 L87.50 55.45 L88.00 55.17 L88.50 54.90 L89.00 54.62 L89.50 54.35 L90.00 54.09 L90.50 53.83 L91.00 53.57 L91.50 53.31 L92.00 53.07 L92.50 52.82 L93.00 52.58 L93.50 52.35 L94.00 52.12 L94.50 51.89 L95.00 51.67 L95.50 51.45 L96.00 51.23 L96.50 51.01 L97.00 50.79 L97.50 50.57 L98.00 50.36 L98.50 50.14 L99.00 49.92 L99.50 49.70 L100.00 49.48 L100.50 49.26 L101.00 49.03 L101.50 48.81 L102.00 48.59 L102.50 48.37 L103.00 48.14 L103.50 47.92 L104.00 47.70 L104.50 47.48 L105.00 47.27 L105.50 47.05 L106.00 46.84 L106.50 46.63 L107.00 46.42 L107.50 46.21 L108.00 46.01 L108.50 45.81 L109.00 45.62 L109.50 45.42 L110.00 45.24 L110.50 45.05 L111.00 44.87 L111.50 44.69 L112.00 44.51 L112.50 44.34 L113.00 44.17 L113.50 44.00 L114.00 43.84 L114.50 43.67 L115.00 43.51 L115.50 43.35 L116.00 43.20 L116.50 43.05 L117.00 42.90 L117.50 42.75 L118.00 42.60 L118.50 42.46 L119.00 42.32 L119.50 42.19 L120.00 42.05 L120.50 41.92 L121.00 41.79 L121.50 41.67 L122.00 41.54 L122.50 41.42 L123.00 41.29 L123.50 41.17 L124.00 41.06 L124.50 40.94 L125.00 40.82 L125.50 40.71 L126.00 40.60 L126.50 40.48 L127.00 40.37 L127.50 40.27 L128.00 40.16 L128.50 40.05 L129.00 39.95 L129.50 39.84 L130.00 39.74 L130.50 39.64 L131.00 39.54 L131.50 39.44 L132.00 39.34 L132.50 39.24 L133.00 39.14 L133.50 39.05 L134.00 38.96 L134.50 38.87 L135.00 38.78 L135.50 38.69 L136.00 38.60 L136.50 38.52 L137.00 38.43 L137.50 38.35 L138.00 38.27 L138.50 38.19 L139.00 38.12 L139.50 38.04 L140.00 37.97 L140.50 37.90 L141.00 37.83 L141.50 37.76 L142.00 37.70 L142.50 37.64 L143.00 37.58 L143.50 37.52 L144.00 37.46 L144.50 37.41 L145.00 37.36 L145.50 37.31 L146.00 37.26 L146.50 37.22 L147.00 37.17 L147.50 37.13 L148.00 37.09 L148.50 37.06 L149.00 37.02 L149.50 36.99 L150.00 36.95 L150.50 36.92 L151.00 36.90 L151.50 36.87 L152.00 36.85 L152.50 36.83 L153.00 36.81 L153.50 36.80 L154.00 36.78 L154.50 36.77 L155.00 36.77 L155.50 36.76 L156.00 36.76 L156.50 36.76 L157.00 36.76 L157.50 36.76 L158.00 36.76 L158.50 36.77 L159.00 36.77 L159.50 36.78 L160.00 36.79 L160.50 36.80 L161.00 36.82 L161.50 36.83 L162.00 36.85 L162.50 36.86 L163.00 36.88 L163.50 36.90 L164.00 36.93 L164.50 36.95 L165.00 36.97 L165.50 37.00 L166.00 37.03 L166.50 37.06 L167.00 37.09 L167.50 37.13 L168.00 37.17 L168.50 37.20 L169.00 37.25 L169.50 37.29 L170.00 37.33 L170.50 37.38 L171.00 37.43 L171.50 37.48 L172.00 37.53 L172.50 37.58 L173.00 37.64 L173.50 37.69 L174.00 37.75 L174.50 37.81 L175.00 37.87 L175.50 37.94 L176.00 38.01 L176.50 38.08 L177.00 38.15 L177.50 38.23 L178.00 38.30 L178.50 38.38 L179.00 38.47 L179.50 38.56 L180.00 38.65 L180.50 38.74 L181.00 38.84 L181.50 38.93 L182.00 39.04 L182.50 39.14 L183.00 39.25 L183.50 39.37 L184.00 39.48 L184.50 39.61 L185.00 39.73 L185.50 39.86 L186.00 40.00 L186.50 40.14 L187.00 40.28 L187.50 40.43 L188.00 40.58 L188.50 40.74 L189.00 40.90 L189.50 41.06 L190.00 41.23 L190.50 41.40 L191.00 41.58 L191.50 41.76 L192.00 41.94 L192.50 42.12 L193.00 42.31 L193.50 42.50 L194.00 42.69 L194.50 42.88 L195.00 43.07 L195.50 43.26 L196.00 43.46 L196.50 43.66 L197.00 43.86 L197.50 44.06 L198.00 44.26 L198.50 44.47 L199.00 44.67 L199.50 44.88 L200.00 45.09 L200.50 45.30 L201.00 45.51 L201.50 45.73 L202.00 45.94 L202.50 46.16 L203.00 46.38 L203.50 46.60 L204.00 46.82 L204.50 47.05 L205.00 47.27 L205.50 47.50 L206.00 47.73 L206.50 47.96 L207.00 48.19 L207.50 48.42 L208.00 48.66 L208.50 48.90 L209.00 49.13 L209.50 49.37 L210.00 49.61 L210.50 49.86 L211.00 50.10 L211.50 50.35 L212.00 50.60 L212.50 50.86 L213.00 51.12 L213.50 51.40 L214.00 51.67 L214.50 51.96 L215.00 52.25 L215.50 52.54 L216.00 52.83 L216.50 53.12 L217.00 53.39 L217.50 53.66 L218.00 53.93 L218.50 54.19 L219.00 54.45 L219.50 54.71 L220.00 54.96 L220.50 55.21 L221.00 55.46 L221.50 55.71 L222.00 55.97 L222.50 56.22 L223.00 56.47 L223.50 56.73 L224.00 56.98 L224.50 57.24 L225.00 57.49 L225.50 57.75 L226.00 58.01 L226.50 58.26 L227.00 58.52 L227.50 58.77 L228.00 59.02 L228.50 59.28 L229.00 59.53 L229.50 59.77 L230.00 60.02 L230.50 60.26 L231.00 60.50 L231.50 60.74 L232.00 60.98 L232.50 61.22 L233.00 61.45 L233.50 61.69 L234.00 61.92 L234.50 62.16 L235.00 62.39 L235.50 62.62 L236.00 62.85 L236.50 63.08 L237.00 63.31 L237.50 63.54 L238.00 63.77 L238.50 64.00 L239.00 64.22 L239.50 64.45 L240.00 64.67 L240.50 64.89 L241.00 65.11 L241.50 65.33 L242.00 65.55 L242.50 65.77 L243.00 65.99 L243.50 66.20 L244.00 66.42 L244.50 66.63 L245.00 66.85 L245.50 67.06 L246.00 67.27 L246.50 67.48 L247.00 67.69 L247.50 67.90 L248.00 68.10 L248.50 68.30 L249.00 68.50 L249.50 68.70 L250.00 68.89 L250.50 69.08 L251.00 69.27 L251.50 69.46 L252.00 69.65 L252.50 69.83 L253.00 70.01 L253.50 70.19 L254.00 70.37 L254.50 70.55 L255.00 70.72 L255.50 70.90 L256.00 71.07 L256.50 71.24 L257.00 71.40 L257.50 71.57 L258.00 71.73 L258.50 71.89 L259.00 72.05 L259.50 72.20 L260.00 72.35 L260.50 72.49 L261.00 72.63 L261.50 72.77 L262.00 72.90 L262.50 73.03 L263.00 73.15 L263.50 73.27 L264.00 73.38 L264.50 73.49 L265.00 73.59 L265.50 73.70 L266.00 73.80 L266.50 73.89 L267.00 73.99 L267.50 74.09 L268.00 74.18 L268.50 74.28 L269.00 74.37 L269.50 74.45 L270.00 74.53 L270.50 74.61 L271.00 74.68 L271.50 74.75 L272.00 74.83 L272.50 74.89 L273.00 74.96 L273.50 75.03 L274.00 75.10 L274.50 75.16 L275.00 75.23 L275.50 75.30 L276.00 75.37" fill="none" stroke="#c0c1c4" stroke-width="2.00"/>
<path d="M34.00 75.40 L34.50 75.24 L35.00 75.07 L35.50 74.91 L36.00 74.75 L36.50 74.59 L37.00 74.43 L37.50 74.27 L38.00 74.12 L38.50 73.97 L39.00 73.83 L39.50 73.69 L40.00 73.56 L40.50 73.42 L41.00 73.29 L41.50 73.16 L42.00 73.03 L42.50 72.91 L43.00 72.79 L43.50 72.67 L44.00 72.55 L44.50 72.43 L45.00 72.31 L45.50 72.19 L46.00 72.07 L46.50 71.94 L47.00 71.81 L47.50 71.67 L48.00 71.52 L48.50 71.37 L49.00 71.21 L49.50 71.04 L50.00 70.87 L50.50 70.69 L51.00 70.51 L51.50 70.33 L52.00 70.14 L52.50 69.95 L53.00 69.76 L53.50 69.56 L54.00 69.36 L54.50 69.16 L55.00 68.96 L55.50 68.75 L56.00 68.54 L56.50 68.33 L57.00 68.11 L57.50 67.89 L58.00 67.67 L58.50 67.44 L59.00 67.21 L59.50 66.98 L60.00 66.75 L60.50 66.51 L61.00 66.26 L61.50 66.02 L62.00 65.77 L62.50 65.52 L63.00 65.26 L63.50 65.01 L64.00 64.75 L64.50 64.49 L65.00 64.23 L65.50 63.97 L66.00 63.72 L66.50 63.46 L67.00 63.20 L67.50 62.95 L68.00 62.69 L68.50 62.44 L69.00 62.19 L69.50 61.94 L70.00 61.69 L70.50 61.43 L71.00 61.19 L71.50 60.93 L72.00 60.68 L72.50 60.42 L73.00 60.16 L73.50 59.90 L74.00 59.63 L74.50 59.36 L75.00 59.09 L75.50 58.81 L76.00 58.53 L76.50 58.24 L77.00 57.95 L77.50 57.67 L78.00 57.37 L78.50 57.08 L79.00 56.79 L79.50 56.50 L80.00 56.21 L80.50 55.93 L81.00 55.64 L81.50 55.36 L82.00 55.08 L82.50 54.80 L83.00 54.53 L83.50 54.25 L84.00 53.97 L84.50 53.69 L85.00 53.42 L85.50 53.14 L86.00 52.86 L86.50 52.59 L87.00 52.32 L87.50 52.04 L88.00 51.78 L88.50 51.51 L89.00 51.24 L89.50 50.98 L90.00 50.72 L90.50 50.47 L91.00 50.22 L91.50 49.97 L92.00 49.73 L92.50 49.50 L93.00 49.26 L93.50 49.03 L94.00 48.81 L94.50 48.59 L95.00 48.37 L95.50 48.16 L96.00 47.94 L96.50 47.73 L97.00 47.52 L97.50 47.30 L98.00 47.09 L98.50 46.88 L99.00 46.67 L99.50 46.45 L100.00 46.24 L100.50 46.02 L101.00 45.80 L101.50 45.58 L102.00 45.36 L102.50 45.15 L103.00 44.93 L103.50 44.71 L104.00 44.49 L104.50 44.28 L105.00 44.07 L105.50 43.85 L106.00 43.64 L106.50 43.44 L107.00 43.23 L107.50 43.03 L108.00 42.83 L108.50 42.63 L109.00 42.44 L109.50 42.25 L110.00 42.06 L110.50 41.88 L111.00 41.70 L111.50 41.52 L112.00 41.34 L112.50 41.17 L113.00 41.00 L113.50 40.83 L114.00 40.66 L114.50 40.50 L115.00 40.34 L115.50 40.18 L116.00 40.02 L116.50 39.87 L117.00 39.72 L117.50 39.57 L118.00 39.42 L118.50 39.28 L119.00 39.14 L119.50 39.00 L120.00 38.87 L120.50 38.74 L121.00 38.61 L121.50 38.48 L122.00 38.35 L122.50 38.23 L123.00 38.10 L123.50 37.98 L124.00 37.86 L124.50 37.75 L125.00 37.63 L125.50 37.52 L126.00 37.40 L126.50 37.29 L127.00 37.18 L127.50 37.07 L128.00 36.97 L128.50 36.86 L129.00 36.76 L129.50 36.65 L130.00 36.55 L130.50 36.45 L131.00 36.35 L131.50 36.25 L132.00 36.16 L132.50 36.06 L133.00 35.97 L133.50 35.88 L134.00 35.79 L134.50 35.70 L135.00 35.61 L135.50 35.53 L136.00 35.44 L136.50 35.36 L137.00 35.28 L137.50 35.20 L138.00 35.13 L138.50 35.05 L139.00 34.98 L139.50 34.91 L140.00 34.84 L140.50 34.77 L141.00 34.70 L141.50 34.64 L142.00 34.58 L142.50 34.52 L143.00 34.46 L143.50 34.41 L144.00 34.36 L144.50 34.31 L145.00 34.26 L145.50 34.21 L146.00 34.17 L146.50 34.13 L147.00 34.09 L147.50 34.05 L148.00 34.01 L148.50 33.98 L149.00 33.94 L149.50 33.91 L150.00 33.88 L150.50 33.86 L151.00 33.83 L151.50 33.81 L152.00 33.79 L152.50 33.77 L153.00 33.75 L153.50 33.74 L154.00 33.73 L154.50 33.72 L155.00 33.71 L155.50 33.71 L156.00 33.71 L156.50 33.70 L157.00 33.71 L157.50 33.71 L158.00 33.71 L158.50 33.72 L159.00 33.72 L159.50 33.73 L160.00 33.74 L160.50 33.75 L161.00 33.77 L161.50 33.78 L162.00 33.80 L162.50 33.81 L163.00 33.83 L163.50 33.85 L164.00 33.87 L164.50 33.90 L165.00 33.92 L165.50 33.95 L166.00 33.98 L166.50 34.01 L167.00 34.04 L167.50 34.07 L168.00 34.11 L168.50 34.15 L169.00 34.19 L169.50 34.23 L170.00 34.27 L170.50 34.32 L171.00 34.36 L171.50 34.41 L172.00 34.46 L172.50 34.51 L173.00 34.57 L173.50 34.62 L174.00 34.68 L174.50 34.74 L175.00 34.80 L175.50 34.86 L176.00 34.93 L176.50 34.99 L177.00 35.07 L177.50 35.14 L178.00 35.21 L178.50 35.29 L179.00 35.37 L179.50 35.46 L180.00 35.54 L180.50 35.63 L181.00 35.73 L181.50 35.82 L182.00 35.92 L182.50 36.02 L183.00 36.13 L183.50 36.24 L184.00 36.35 L184.50 36.47 L185.00 36.59 L185.50 36.71 L186.00 36.84 L186.50 36.97 L187.00 37.11 L187.50 37.25 L188.00 37.39 L188.50 37.54 L189.00 37.70 L189.50 37.85 L190.00 38.01 L190.50 38.18 L191.00 38.35 L191.50 38.52 L192.00 38.69 L192.50 38.87 L193.00 39.04 L193.50 39.23 L194.00 39.41 L194.50 39.59 L195.00 39.77 L195.50 39.96 L196.00 40.15 L196.50 40.34 L197.00 40.53 L197.50 40.73 L198.00 40.93 L198.50 41.12 L199.00 41.32 L199.50 41.52 L200.00 41.73 L200.50 41.93 L201.00 42.14 L201.50 42.34 L202.00 42.55 L202.50 42.76 L203.00 42.98 L203.50 43.19 L204.00 43.40 L204.50 43.62 L205.00 43.84 L205.50 44.06 L206.00 44.28 L206.50 44.51 L207.00 44.73 L207.50 44.96 L208.00 45.18 L208.50 45.41 L209.00 45.64 L209.50 45.88 L210.00 46.11 L210.50 46.35 L211.00 46.58 L211.50 46.83 L212.00 47.07 L212.50 47.32 L213.00 47.57 L213.50 47.83 L214.00 48.10 L214.50 48.38 L215.00 48.65 L215.50 48.93 L216.00 49.21 L216.50 49.49 L217.00 49.75 L217.50 50.02 L218.00 50.28 L218.50 50.53 L219.00 50.79 L219.50 51.04 L220.00 51.29 L220.50 51.54 L221.00 51.78 L221.50 52.03 L222.00 52.28 L222.50 52.53 L223.00 52.78 L223.50 53.03 L224.00 53.28 L224.50 53.54 L225.00 53.79 L225.50 54.04 L226.00 54.30 L226.50 54.55 L227.00 54.80 L227.50 55.06 L228.00 55.31 L228.50 55.56 L229.00 55.81 L229.50 56.05 L230.00 56.30 L230.50 56.54 L231.00 56.78 L231.50 57.01 L232.00 57.25 L232.50 57.49 L233.00 57.72 L233.50 57.95 L234.00 58.19 L234.50 58.42 L235.00 58.65 L235.50 58.88 L236.00 59.11 L236.50 59.34 L237.00 59.57 L237.50 59.79 L238.00 60.02 L238.50 60.24 L239.00 60.46 L239.50 60.69 L240.00 60.91 L240.50 61.13 L241.00 61.35 L241.50 61.56 L242.00 61.78 L242.50 62.00 L243.00 62.21 L243.50 62.42 L244.00 62.64 L244.50 62.85 L245.00 63.06 L245.50 63.27 L246.00 63.47 L246.50 63.68 L247.00 63.88 L247.50 64.08 L248.00 64.28 L248.50 64.48 L249.00 64.68 L249.50 64.87 L250.00 65.06 L250.50 65.24 L251.00 65.43 L251.50 65.61 L252.00 65.79 L252.50 65.97 L253.00 66.15 L253.50 66.32 L254.00 66.49 L254.50 66.66 L255.00 66.83 L255.50 67.00 L256.00 67.17 L256.50 67.33 L257.00 67.49 L257.50 67.65 L258.00 67.81 L258.50 67.96 L259.00 68.11 L259.50 68.26 L260.00 68.40 L260.50 68.54 L261.00 68.67 L261.50 68.80 L262.00 68.92 L262.50 69.04 L263.00 69.16 L263.50 69.27 L264.00 69.38 L264.50 69.48 L265.00 69.58 L265.50 69.67 L266.00 69.77 L266.50 69.86 L267.00 69.95 L267.50 70.04 L268.00 70.12 L268.50 70.21 L269.00 70.29 L269.50 70.37 L270.00 70.44 L270.50 70.51 L271.00 70.57 L271.50 70.64 L272.00 70.70 L272.50 70.76 L273.00 70.82 L273.50 70.88 L274.00 70.93 L274.50 70.99 L275.00 71.05 L275.50 71.11 L276.00 71.17" fill="none" stroke="#c0c1c4" stroke-width="1.80"/>
<path d="M34.00 71.20 L34.50 71.06 L35.00 70.93 L35.50 70.79 L36.00 70.65 L36.50 70.52 L37.00 70.39 L37.50 70.26 L38.00 70.13 L38.50 70.01 L39.00 69.89 L39.50 69.77 L40.00 69.66 L40.50 69.54 L41.00 69.43 L41.50 69.32 L42.00 69.21 L42.50 69.10 L43.00 68.99 L43.50 68.89 L44.00 68.79 L44.50 68.68 L45.00 68.58 L45.50 68.47 L46.00 68.36 L46.50 68.25 L47.00 68.13 L47.50 68.01 L48.00 67.88 L48.50 67.74 L49.00 67.59 L49.50 67.44 L50.00 67.28 L50.50 67.12 L51.00 66.95 L51.50 66.78 L52.00 66.61 L52.50 66.43 L53.00 66.25 L53.50 66.07 L54.00 65.88 L54.50 65.69 L55.00 65.50 L55.50 65.30 L56.00 65.11 L56.50 64.90 L57.00 64.70 L57.50 64.49 L58.00 64.28 L58.50 64.07 L59.00 63.85 L59.50 63.63 L60.00 63.41 L60.50 63.18 L61.00 62.95 L61.50 62.71 L62.00 62.47 L62.50 62.23 L63.00 61.99 L63.50 61.74 L64.00 61.50 L64.50 61.25 L65.00 61.00 L65.50 60.75 L66.00 60.50 L66.50 60.25 L67.00 60.00 L67.50 59.75 L68.00 59.51 L68.50 59.26 L69.00 59.01 L69.50 58.77 L70.00 58.52 L70.50 58.28 L71.00 58.04 L71.50 57.79 L72.00 57.54 L72.50 57.29 L73.00 57.04 L73.50 56.78 L74.00 56.52 L74.50 56.26 L75.00 55.99 L75.50 55.72 L76.00 55.45 L76.50 55.17 L77.00 54.89 L77.50 54.61 L78.00 54.33 L78.50 54.05 L79.00 53.77 L79.50 53.49 L80.00 53.21 L80.50 52.94 L81.00 52.66 L81.50 52.39 L82.00 52.12 L82.50 51.85 L83.00 51.58 L83.50 51.31 L84.00 51.04 L84.50 50.77 L85.00 50.50 L85.50 50.24 L86.00 49.97 L86.50 49.70 L87.00 49.44 L87.50 49.17 L88.00 48.91 L88.50 48.65 L89.00 48.40 L89.50 48.14 L90.00 47.89 L90.50 47.64 L91.00 47.40 L91.50 47.16 L92.00 46.93 L92.50 46.70 L93.00 46.47 L93.50 46.25 L94.00 46.03 L94.50 45.82 L95.00 45.60 L95.50 45.40 L96.00 45.19 L96.50 44.98 L97.00 44.77 L97.50 44.57 L98.00 44.36 L98.50 44.15 L99.00 43.94 L99.50 43.73 L100.00 43.52 L100.50 43.31 L101.00 43.10 L101.50 42.88 L102.00 42.67 L102.50 42.46 L103.00 42.24 L103.50 42.03 L104.00 41.82 L104.50 41.61 L105.00 41.40 L105.50 41.19 L106.00 40.98 L106.50 40.78 L107.00 40.58 L107.50 40.38 L108.00 40.18 L108.50 39.98 L109.00 39.79 L109.50 39.60 L110.00 39.42 L110.50 39.24 L111.00 39.06 L111.50 38.88 L112.00 38.71 L112.50 38.54 L113.00 38.37 L113.50 38.20 L114.00 38.03 L114.50 37.87 L115.00 37.71 L115.50 37.55 L116.00 37.40 L116.50 37.24 L117.00 37.09 L117.50 36.94 L118.00 36.80 L118.50 36.65 L119.00 36.51 L119.50 36.38 L120.00 36.24 L120.50 36.11 L121.00 35.98 L121.50 35.85 L122.00 35.72 L122.50 35.60 L123.00 35.48 L123.50 35.36 L124.00 35.24 L124.50 35.12 L125.00 35.00 L125.50 34.89 L126.00 34.78 L126.50 34.67 L127.00 34.56 L127.50 34.45 L128.00 34.35 L128.50 34.24 L129.00 34.14 L129.50 34.04 L130.00 33.94 L130.50 33.84 L131.00 33.74 L131.50 33.65 L132.00 33.55 L132.50 33.46 L133.00 33.37 L133.50 33.28 L134.00 33.20 L134.50 33.11 L135.00 33.03 L135.50 32.95 L136.00 32.87 L136.50 32.79 L137.00 32.71 L137.50 32.64 L138.00 32.56 L138.50 32.49 L139.00 32.42 L139.50 32.35 L140.00 32.29 L140.50 32.22 L141.00 32.16 L141.50 32.10 L142.00 32.04 L142.50 31.99 L143.00 31.94 L143.50 31.88 L144.00 31.84 L144.50 31.79 L145.00 31.75 L145.50 31.70 L146.00 31.66 L146.50 31.62 L147.00 31.59 L147.50 31.55 L148.00 31.52 L148.50 31.49 L149.00 31.46 L149.50 31.43 L150.00 31.40 L150.50 31.38 L151.00 31.35 L151.50 31.33 L152.00 31.32 L152.50 31.30 L153.00 31.29 L153.50 31.27 L154.00 31.26 L154.50 31.26 L155.00 31.25 L155.50 31.25 L156.00 31.25 L156.50 31.25 L157.00 31.25 L157.50 31.25 L158.00 31.26 L158.50 31.27 L159.00 31.28 L159.50 31.28 L160.00 31.30 L160.50 31.31 L161.00 31.32 L161.50 31.34 L162.00 31.35 L162.50 31.37 L163.00 31.39 L163.50 31.41 L164.00 31.43 L164.50 31.46 L165.00 31.48 L165.50 31.51 L166.00 31.54 L166.50 31.57 L167.00 31.60 L167.50 31.63 L168.00 31.67 L168.50 31.71 L169.00 31.75 L169.50 31.79 L170.00 31.83 L170.50 31.88 L171.00 31.92 L171.50 31.97 L172.00 32.02 L172.50 32.07 L173.00 32.13 L173.50 32.18 L174.00 32.24 L174.50 32.29 L175.00 32.36 L175.50 32.42 L176.00 32.48 L176.50 32.55 L177.00 32.62 L177.50 32.69 L178.00 32.77 L178.50 32.84 L179.00 32.92 L179.50 33.01 L180.00 33.09 L180.50 33.18 L181.00 33.27 L181.50 33.36 L182.00 33.46 L182.50 33.56 L183.00 33.66 L183.50 33.77 L184.00 33.88 L184.50 33.99 L185.00 34.11 L185.50 34.23 L186.00 34.35 L186.50 34.48 L187.00 34.61 L187.50 34.75 L188.00 34.89 L188.50 35.03 L189.00 35.18 L189.50 35.33 L190.00 35.49 L190.50 35.64 L191.00 35.81 L191.50 35.97 L192.00 36.14 L192.50 36.31 L193.00 36.48 L193.50 36.66 L194.00 36.84 L194.50 37.02 L195.00 37.20 L195.50 37.38 L196.00 37.56 L196.50 37.75 L197.00 37.94 L197.50 38.13 L198.00 38.32 L198.50 38.51 L199.00 38.71 L199.50 38.91 L200.00 39.10 L200.50 39.30 L201.00 39.50 L201.50 39.71 L202.00 39.91 L202.50 40.12 L203.00 40.33 L203.50 40.53 L204.00 40.75 L204.50 40.96 L205.00 41.17 L205.50 41.39 L206.00 41.61 L206.50 41.82 L207.00 42.04 L207.50 42.27 L208.00 42.49 L208.50 42.71 L209.00 42.94 L209.50 43.17 L210.00 43.40 L210.50 43.63 L211.00 43.86 L211.50 44.10 L212.00 44.34 L212.50 44.58 L213.00 44.83 L213.50 45.08 L214.00 45.34 L214.50 45.61 L215.00 45.88 L215.50 46.15 L216.00 46.42 L216.50 46.69 L217.00 46.95 L217.50 47.21 L218.00 47.46 L218.50 47.72 L219.00 47.97 L219.50 48.22 L220.00 48.46 L220.50 48.71 L221.00 48.95 L221.50 49.20 L222.00 49.45 L222.50 49.69 L223.00 49.94 L223.50 50.19 L224.00 50.45 L224.50 50.70 L225.00 50.95 L225.50 51.21 L226.00 51.46 L226.50 51.71 L227.00 51.96 L227.50 52.22 L228.00 52.47 L228.50 52.72 L229.00 52.96 L229.50 53.21 L230.00 53.45 L230.50 53.69 L231.00 53.93 L231.50 54.17 L232.00 54.41 L232.50 54.64 L233.00 54.88 L233.50 55.11 L234.00 55.34 L234.50 55.57 L235.00 55.80 L235.50 56.03 L236.00 56.26 L236.50 56.49 L237.00 56.72 L237.50 56.94 L238.00 57.17 L238.50 57.39 L239.00 57.61 L239.50 57.84 L240.00 58.06 L240.50 58.28 L241.00 58.49 L241.50 58.71 L242.00 58.92 L242.50 59.14 L243.00 59.35 L243.50 59.56 L244.00 59.78 L244.50 59.99 L245.00 60.19 L245.50 60.40 L246.00 60.61 L246.50 60.81 L247.00 61.01 L247.50 61.21 L248.00 61.41 L248.50 61.60 L249.00 61.80 L249.50 61.99 L250.00 62.17 L250.50 62.35 L251.00 62.54 L251.50 62.71 L252.00 62.89 L252.50 63.07 L253.00 63.24 L253.50 63.41 L254.00 63.58 L254.50 63.75 L255.00 63.92 L255.50 64.08 L256.00 64.24 L256.50 64.40 L257.00 64.56 L257.50 64.72 L258.00 64.87 L258.50 65.02 L259.00 65.17 L259.50 65.31 L260.00 65.45 L260.50 65.58 L261.00 65.71 L261.50 65.84 L262.00 65.96 L262.50 66.08 L263.00 66.19 L263.50 66.30 L264.00 66.40 L264.50 66.50 L265.00 66.59 L265.50 66.68 L266.00 66.77 L266.50 66.86 L267.00 66.94 L267.50 67.03 L268.00 67.11 L268.50 67.19 L269.00 67.26 L269.50 67.34 L270.00 67.40 L270.50 67.47 L271.00 67.53 L271.50 67.59 L272.00 67.64 L272.50 67.70 L273.00 67.75 L273.50 67.80 L274.00 67.86 L274.50 67.91 L275.00 67.96 L275.50 68.02 L276.00 68.08" fill="none" stroke="#c0c1c4" stroke-width="1.80"/>
<path d="M34.00 68.10 L34.50 67.98 L35.00 67.86 L35.50 67.74 L36.00 67.63 L36.50 67.51 L37.00 67.40 L37.50 67.28 L38.00 67.18 L38.50 67.07 L39.00 66.97 L39.50 66.87 L40.00 66.76 L40.50 66.66 L41.00 66.56 L41.50 66.47 L42.00 66.37 L42.50 66.27 L43.00 66.18 L43.50 66.08 L44.00 65.99 L44.50 65.90 L45.00 65.81 L45.50 65.71 L46.00 65.61 L46.50 65.51 L47.00 65.40 L47.50 65.28 L48.00 65.16 L48.50 65.03 L49.00 64.90 L49.50 64.75 L50.00 64.61 L50.50 64.45 L51.00 64.29 L51.50 64.13 L52.00 63.97 L52.50 63.80 L53.00 63.63 L53.50 63.45 L54.00 63.28 L54.50 63.09 L55.00 62.91 L55.50 62.72 L56.00 62.53 L56.50 62.34 L57.00 62.14 L57.50 61.94 L58.00 61.74 L58.50 61.54 L59.00 61.33 L59.50 61.11 L60.00 60.90 L60.50 60.68 L61.00 60.46 L61.50 60.23 L62.00 60.00 L62.50 59.76 L63.00 59.53 L63.50 59.29 L64.00 59.05 L64.50 58.80 L65.00 58.56 L65.50 58.32 L66.00 58.07 L66.50 57.83 L67.00 57.59 L67.50 57.34 L68.00 57.10 L68.50 56.86 L69.00 56.62 L69.50 56.38 L70.00 56.13 L70.50 55.89 L71.00 55.65 L71.50 55.41 L72.00 55.17 L72.50 54.92 L73.00 54.67 L73.50 54.42 L74.00 54.17 L74.50 53.91 L75.00 53.64 L75.50 53.38 L76.00 53.11 L76.50 52.84 L77.00 52.57 L77.50 52.30 L78.00 52.02 L78.50 51.75 L79.00 51.47 L79.50 51.20 L80.00 50.93 L80.50 50.66 L81.00 50.39 L81.50 50.13 L82.00 49.86 L82.50 49.60 L83.00 49.33 L83.50 49.07 L84.00 48.81 L84.50 48.54 L85.00 48.28 L85.50 48.02 L86.00 47.76 L86.50 47.49 L87.00 47.23 L87.50 46.98 L88.00 46.72 L88.50 46.47 L89.00 46.22 L89.50 45.97 L90.00 45.72 L90.50 45.48 L91.00 45.24 L91.50 45.01 L92.00 44.78 L92.50 44.55 L93.00 44.33 L93.50 44.11 L94.00 43.90 L94.50 43.69 L95.00 43.48 L95.50 43.27 L96.00 43.07 L96.50 42.86 L97.00 42.66 L97.50 42.46 L98.00 42.25 L98.50 42.05 L99.00 41.85 L99.50 41.64 L100.00 41.43 L100.50 41.22 L101.00 41.01 L101.50 40.80 L102.00 40.59 L102.50 40.38 L103.00 40.17 L103.50 39.96 L104.00 39.75 L104.50 39.54 L105.00 39.33 L105.50 39.13 L106.00 38.92 L106.50 38.72 L107.00 38.52 L107.50 38.32 L108.00 38.12 L108.50 37.93 L109.00 37.74 L109.50 37.56 L110.00 37.37 L110.50 37.19 L111.00 37.01 L111.50 36.84 L112.00 36.66 L112.50 36.49 L113.00 36.32 L113.50 36.15 L114.00 35.99 L114.50 35.82 L115.00 35.66 L115.50 35.50 L116.00 35.35 L116.50 35.19 L117.00 35.04 L117.50 34.89 L118.00 34.75 L118.50 34.60 L119.00 34.46 L119.50 34.32 L120.00 34.19 L120.50 34.05 L121.00 33.92 L121.50 33.79 L122.00 33.67 L122.50 33.54 L123.00 33.42 L123.50 33.30 L124.00 33.18 L124.50 33.06 L125.00 32.95 L125.50 32.83 L126.00 32.72 L126.50 32.61 L127.00 32.50 L127.50 32.40 L128.00 32.29 L128.50 32.19 L129.00 32.08 L129.50 31.98 L130.00 31.88 L130.50 31.79 L131.00 31.69 L131.50 31.60 L132.00 31.50 L132.50 31.41 L133.00 31.33 L133.50 31.24 L134.00 31.15 L134.50 31.07 L135.00 30.99 L135.50 30.91 L136.00 30.83 L136.50 30.75 L137.00 30.68 L137.50 30.61 L138.00 30.53 L138.50 30.47 L139.00 30.40 L139.50 30.33 L140.00 30.27 L140.50 30.21 L141.00 30.15 L141.50 30.09 L142.00 30.03 L142.50 29.98 L143.00 29.93 L143.50 29.88 L144.00 29.83 L144.50 29.79 L145.00 29.75 L145.50 29.71 L146.00 29.67 L146.50 29.63 L147.00 29.60 L147.50 29.56 L148.00 29.53 L148.50 29.50 L149.00 29.47 L149.50 29.45 L150.00 29.42 L150.50 29.40 L151.00 29.38 L151.50 29.36 L152.00 29.34 L152.50 29.33 L153.00 29.31 L153.50 29.30 L154.00 29.30 L154.50 29.29 L155.00 29.29 L155.50 29.28 L156.00 29.28 L156.50 29.28 L157.00 29.29 L157.50 29.29 L158.00 29.30 L158.50 29.30 L159.00 29.31 L159.50 29.32 L160.00 29.33 L160.50 29.34 L161.00 29.36 L161.50 29.37 L162.00 29.39 L162.50 29.41 L163.00 29.42 L163.50 29.44 L164.00 29.47 L164.50 29.49 L165.00 29.52 L165.50 29.54 L166.00 29.57 L166.50 29.60 L167.00 29.63 L167.50 29.67 L168.00 29.70 L168.50 29.74 L169.00 29.78 L169.50 29.82 L170.00 29.86 L170.50 29.90 L171.00 29.95 L171.50 30.00 L172.00 30.05 L172.50 30.10 L173.00 30.15 L173.50 30.20 L174.00 30.26 L174.50 30.31 L175.00 30.37 L175.50 30.44 L176.00 30.50 L176.50 30.56 L177.00 30.63 L177.50 30.70 L178.00 30.78 L178.50 30.85 L179.00 30.93 L179.50 31.01 L180.00 31.09 L180.50 31.18 L181.00 31.27 L181.50 31.36 L182.00 31.46 L182.50 31.55 L183.00 31.65 L183.50 31.75 L184.00 31.86 L184.50 31.97 L185.00 32.08 L185.50 32.20 L186.00 32.32 L186.50 32.44 L187.00 32.57 L187.50 32.70 L188.00 32.84 L188.50 32.97 L189.00 33.12 L189.50 33.26 L190.00 33.41 L190.50 33.57 L191.00 33.73 L191.50 33.89 L192.00 34.05 L192.50 34.21 L193.00 34.38 L193.50 34.55 L194.00 34.72 L194.50 34.90 L195.00 35.07 L195.50 35.25 L196.00 35.43 L196.50 35.61 L197.00 35.80 L197.50 35.98 L198.00 36.17 L198.50 36.36 L199.00 36.55 L199.50 36.74 L200.00 36.94 L200.50 37.13 L201.00 37.33 L201.50 37.53 L202.00 37.73 L202.50 37.93 L203.00 38.13 L203.50 38.34 L204.00 38.55 L204.50 38.75 L205.00 38.96 L205.50 39.17 L206.00 39.39 L206.50 39.60 L207.00 39.82 L207.50 40.03 L208.00 40.25 L208.50 40.47 L209.00 40.69 L209.50 40.92 L210.00 41.14 L210.50 41.37 L211.00 41.60 L211.50 41.83 L212.00 42.06 L212.50 42.30 L213.00 42.54 L213.50 42.79 L214.00 43.04 L214.50 43.30 L215.00 43.56 L215.50 43.83 L216.00 44.09 L216.50 44.35 L217.00 44.61 L217.50 44.86 L218.00 45.11 L218.50 45.36 L219.00 45.61 L219.50 45.85 L220.00 46.10 L220.50 46.34 L221.00 46.58 L221.50 46.83 L222.00 47.07 L222.50 47.32 L223.00 47.57 L223.50 47.82 L224.00 48.07 L224.50 48.32 L225.00 48.57 L225.50 48.82 L226.00 49.07 L226.50 49.32 L227.00 49.58 L227.50 49.83 L228.00 50.08 L228.50 50.32 L229.00 50.57 L229.50 50.82 L230.00 51.06 L230.50 51.30 L231.00 51.54 L231.50 51.77 L232.00 52.01 L232.50 52.24 L233.00 52.47 L233.50 52.71 L234.00 52.94 L234.50 53.17 L235.00 53.40 L235.50 53.63 L236.00 53.85 L236.50 54.08 L237.00 54.31 L237.50 54.53 L238.00 54.75 L238.50 54.98 L239.00 55.20 L239.50 55.42 L240.00 55.64 L240.50 55.85 L241.00 56.07 L241.50 56.28 L242.00 56.50 L242.50 56.71 L243.00 56.92 L243.50 57.13 L244.00 57.34 L244.50 57.55 L245.00 57.76 L245.50 57.96 L246.00 58.16 L246.50 58.37 L247.00 58.56 L247.50 58.76 L248.00 58.96 L248.50 59.15 L249.00 59.34 L249.50 59.52 L250.00 59.70 L250.50 59.88 L251.00 60.06 L251.50 60.24 L252.00 60.41 L252.50 60.58 L253.00 60.75 L253.50 60.92 L254.00 61.09 L254.50 61.25 L255.00 61.42 L255.50 61.58 L256.00 61.74 L256.50 61.89 L257.00 62.05 L257.50 62.20 L258.00 62.35 L258.50 62.49 L259.00 62.63 L259.50 62.77 L260.00 62.91 L260.50 63.04 L261.00 63.17 L261.50 63.29 L262.00 63.40 L262.50 63.52 L263.00 63.62 L263.50 63.73 L264.00 63.82 L264.50 63.92 L265.00 64.01 L265.50 64.10 L266.00 64.18 L266.50 64.26 L267.00 64.34 L267.50 64.42 L268.00 64.50 L268.50 64.57 L269.00 64.64 L269.50 64.71 L270.00 64.77 L270.50 64.83 L271.00 64.88 L271.50 64.94 L272.00 64.99 L272.50 65.04 L273.00 65.09 L273.50 65.13 L274.00 65.18 L274.50 65.23 L275.00 65.28 L275.50 65.33 L276.00 65.38" fill="none" stroke="#c0c1c4" stroke-width="1.80"/>
<path d="M34.00 65.40 L34.50 65.30 L35.00 65.20 L35.50 65.09 L36.00 64.99 L36.50 64.89 L37.00 64.80 L37.50 64.70 L38.00 64.61 L38.50 64.51 L39.00 64.43 L39.50 64.34 L40.00 64.25 L40.50 64.16 L41.00 64.07 L41.50 63.99 L42.00 63.90 L42.50 63.81 L43.00 63.73 L43.50 63.65 L44.00 63.56 L44.50 63.48 L45.00 63.40 L45.50 63.31 L46.00 63.22 L46.50 63.12 L47.00 63.02 L47.50 62.92 L48.00 62.80 L48.50 62.68 L49.00 62.56 L49.50 62.42 L50.00 62.28 L50.50 62.14 L51.00 61.99 L51.50 61.84 L52.00 61.68 L52.50 61.52 L53.00 61.35 L53.50 61.19 L54.00 61.02 L54.50 60.85 L55.00 60.67 L55.50 60.49 L56.00 60.31 L56.50 60.12 L57.00 59.93 L57.50 59.74 L58.00 59.55 L58.50 59.35 L59.00 59.14 L59.50 58.94 L60.00 58.73 L60.50 58.52 L61.00 58.30 L61.50 58.08 L62.00 57.86 L62.50 57.63 L63.00 57.40 L63.50 57.17 L64.00 56.93 L64.50 56.69 L65.00 56.46 L65.50 56.22 L66.00 55.98 L66.50 55.74 L67.00 55.50 L67.50 55.26 L68.00 55.03 L68.50 54.79 L69.00 54.55 L69.50 54.31 L70.00 54.07 L70.50 53.84 L71.00 53.60 L71.50 53.36 L72.00 53.12 L72.50 52.88 L73.00 52.64 L73.50 52.39 L74.00 52.14 L74.50 51.88 L75.00 51.62 L75.50 51.36 L76.00 51.10 L76.50 50.84 L77.00 50.57 L77.50 50.30 L78.00 50.03 L78.50 49.77 L79.00 49.50 L79.50 49.23 L80.00 48.97 L80.50 48.70 L81.00 48.44 L81.50 48.18 L82.00 47.92 L82.50 47.66 L83.00 47.40 L83.50 47.15 L84.00 46.89 L84.50 46.63 L85.00 46.37 L85.50 46.11 L86.00 45.86 L86.50 45.60 L87.00 45.34 L87.50 45.09 L88.00 44.84 L88.50 44.59 L89.00 44.34 L89.50 44.10 L90.00 43.86 L90.50 43.62 L91.00 43.39 L91.50 43.16 L92.00 42.93 L92.50 42.71 L93.00 42.49 L93.50 42.28 L94.00 42.07 L94.50 41.86 L95.00 41.66 L95.50 41.46 L96.00 41.25 L96.50 41.05 L97.00 40.85 L97.50 40.65 L98.00 40.45 L98.50 40.25 L99.00 40.05 L99.50 39.85 L100.00 39.64 L100.50 39.44 L101.00 39.23 L101.50 39.02 L102.00 38.81 L102.50 38.60 L103.00 38.40 L103.50 38.19 L104.00 37.98 L104.50 37.77 L105.00 37.57 L105.50 37.37 L106.00 37.16 L106.50 36.96 L107.00 36.76 L107.50 36.57 L108.00 36.37 L108.50 36.18 L109.00 35.99 L109.50 35.81 L110.00 35.62 L110.50 35.44 L111.00 35.27 L111.50 35.09 L112.00 34.92 L112.50 34.75 L113.00 34.58 L113.50 34.41 L114.00 34.24 L114.50 34.08 L115.00 33.92 L115.50 33.76 L116.00 33.60 L116.50 33.45 L117.00 33.30 L117.50 33.15 L118.00 33.00 L118.50 32.86 L119.00 32.72 L119.50 32.58 L120.00 32.44 L120.50 32.31 L121.00 32.18 L121.50 32.05 L122.00 31.92 L122.50 31.79 L123.00 31.67 L123.50 31.55 L124.00 31.43 L124.50 31.31 L125.00 31.20 L125.50 31.09 L126.00 30.97 L126.50 30.86 L127.00 30.75 L127.50 30.65 L128.00 30.54 L128.50 30.44 L129.00 30.34 L129.50 30.24 L130.00 30.14 L130.50 30.04 L131.00 29.95 L131.50 29.86 L132.00 29.77 L132.50 29.68 L133.00 29.59 L133.50 29.50 L134.00 29.42 L134.50 29.34 L135.00 29.26 L135.50 29.18 L136.00 29.11 L136.50 29.03 L137.00 28.96 L137.50 28.89 L138.00 28.82 L138.50 28.75 L139.00 28.69 L139.50 28.62 L140.00 28.56 L140.50 28.50 L141.00 28.44 L141.50 28.39 L142.00 28.33 L142.50 28.28 L143.00 28.23 L143.50 28.19 L144.00 28.14 L144.50 28.10 L145.00 28.06 L145.50 28.02 L146.00 27.99 L146.50 27.95 L147.00 27.92 L147.50 27.89 L148.00 27.86 L148.50 27.83 L149.00 27.80 L149.50 27.78 L150.00 27.75 L150.50 27.73 L151.00 27.71 L151.50 27.69 L152.00 27.68 L152.50 27.66 L153.00 27.65 L153.50 27.64 L154.00 27.64 L154.50 27.63 L155.00 27.63 L155.50 27.63 L156.00 27.63 L156.50 27.63 L157.00 27.63 L157.50 27.63 L158.00 27.64 L158.50 27.65 L159.00 27.66 L159.50 27.67 L160.00 27.68 L160.50 27.69 L161.00 27.70 L161.50 27.72 L162.00 27.74 L162.50 27.75 L163.00 27.77 L163.50 27.79 L164.00 27.81 L164.50 27.84 L165.00 27.86 L165.50 27.89 L166.00 27.92 L166.50 27.95 L167.00 27.98 L167.50 28.01 L168.00 28.05 L168.50 28.08 L169.00 28.12 L169.50 28.16 L170.00 28.21 L170.50 28.25 L171.00 28.30 L171.50 28.34 L172.00 28.39 L172.50 28.44 L173.00 28.49 L173.50 28.54 L174.00 28.60 L174.50 28.66 L175.00 28.71 L175.50 28.77 L176.00 28.84 L176.50 28.90 L177.00 28.97 L177.50 29.04 L178.00 29.11 L178.50 29.18 L179.00 29.26 L179.50 29.34 L180.00 29.42 L180.50 29.51 L181.00 29.60 L181.50 29.69 L182.00 29.78 L182.50 29.87 L183.00 29.97 L183.50 30.07 L184.00 30.17 L184.50 30.28 L185.00 30.39 L185.50 30.50 L186.00 30.62 L186.50 30.74 L187.00 30.86 L187.50 30.99 L188.00 31.12 L188.50 31.26 L189.00 31.40 L189.50 31.54 L190.00 31.69 L190.50 31.83 L191.00 31.99 L191.50 32.14 L192.00 32.30 L192.50 32.46 L193.00 32.63 L193.50 32.80 L194.00 32.96 L194.50 33.13 L195.00 33.31 L195.50 33.48 L196.00 33.66 L196.50 33.84 L197.00 34.02 L197.50 34.20 L198.00 34.38 L198.50 34.57 L199.00 34.76 L199.50 34.95 L200.00 35.14 L200.50 35.33 L201.00 35.52 L201.50 35.72 L202.00 35.91 L202.50 36.11 L203.00 36.31 L203.50 36.51 L204.00 36.72 L204.50 36.92 L205.00 37.13 L205.50 37.34 L206.00 37.54 L206.50 37.76 L207.00 37.97 L207.50 38.18 L208.00 38.40 L208.50 38.61 L209.00 38.83 L209.50 39.05 L210.00 39.27 L210.50 39.49 L211.00 39.72 L211.50 39.95 L212.00 40.18 L212.50 40.41 L213.00 40.65 L213.50 40.89 L214.00 41.14 L214.50 41.39 L215.00 41.65 L215.50 41.90 L216.00 42.16 L216.50 42.42 L217.00 42.67 L217.50 42.92 L218.00 43.17 L218.50 43.41 L219.00 43.66 L219.50 43.90 L220.00 44.14 L220.50 44.38 L221.00 44.62 L221.50 44.87 L222.00 45.11 L222.50 45.35 L223.00 45.60 L223.50 45.85 L224.00 46.10 L224.50 46.35 L225.00 46.60 L225.50 46.85 L226.00 47.10 L226.50 47.35 L227.00 47.60 L227.50 47.85 L228.00 48.10 L228.50 48.35 L229.00 48.60 L229.50 48.84 L230.00 49.08 L230.50 49.32 L231.00 49.56 L231.50 49.79 L232.00 50.03 L232.50 50.26 L233.00 50.49 L233.50 50.72 L234.00 50.95 L234.50 51.18 L235.00 51.41 L235.50 51.64 L236.00 51.87 L236.50 52.09 L237.00 52.32 L237.50 52.54 L238.00 52.77 L238.50 52.99 L239.00 53.21 L239.50 53.43 L240.00 53.65 L240.50 53.86 L241.00 54.08 L241.50 54.29 L242.00 54.50 L242.50 54.71 L243.00 54.92 L243.50 55.13 L244.00 55.34 L244.50 55.55 L245.00 55.75 L245.50 55.96 L246.00 56.16 L246.50 56.36 L247.00 56.55 L247.50 56.75 L248.00 56.94 L248.50 57.13 L249.00 57.32 L249.50 57.50 L250.00 57.68 L250.50 57.86 L251.00 58.03 L251.50 58.21 L252.00 58.38 L252.50 58.55 L253.00 58.72 L253.50 58.88 L254.00 59.04 L254.50 59.21 L255.00 59.37 L255.50 59.52 L256.00 59.68 L256.50 59.83 L257.00 59.98 L257.50 60.13 L258.00 60.28 L258.50 60.42 L259.00 60.56 L259.50 60.70 L260.00 60.83 L260.50 60.96 L261.00 61.08 L261.50 61.20 L262.00 61.31 L262.50 61.42 L263.00 61.53 L263.50 61.63 L264.00 61.72 L264.50 61.81 L265.00 61.90 L265.50 61.98 L266.00 62.06 L266.50 62.14 L267.00 62.22 L267.50 62.29 L268.00 62.37 L268.50 62.44 L269.00 62.50 L269.50 62.57 L270.00 62.62 L270.50 62.68 L271.00 62.73 L271.50 62.78 L272.00 62.82 L272.50 62.87 L273.00 62.91 L273.50 62.96 L274.00 63.00 L274.50 63.04 L275.00 63.09 L275.50 63.13 L276.00 63.18" fill="none" stroke="#c0c1c4" stroke-width="1.80"/>
<path d="M34.00 63.20 L34.50 63.11 L35.00 63.02 L35.50 62.93 L36.00 62.85 L36.50 62.76 L37.00 62.68 L37.50 62.59 L38.00 62.51 L38.50 62.43 L39.00 62.36 L39.50 62.28 L40.00 62.20 L40.50 62.12 L41.00 62.05 L41.50 61.97 L42.00 61.89 L42.50 61.81 L43.00 61.73 L43.50 61.66 L44.00 61.58 L44.50 61.51 L45.00 61.43 L45.50 61.35 L46.00 61.27 L46.50 61.18 L47.00 61.09 L47.50 60.99 L48.00 60.88 L48.50 60.77 L49.00 60.65 L49.50 60.53 L50.00 60.39 L50.50 60.25 L51.00 60.11 L51.50 59.96 L52.00 59.81 L52.50 59.66 L53.00 59.50 L53.50 59.34 L54.00 59.18 L54.50 59.01 L55.00 58.84 L55.50 58.67 L56.00 58.49 L56.50 58.31 L57.00 58.13 L57.50 57.94 L58.00 57.75 L58.50 57.56 L59.00 57.37 L59.50 57.17 L60.00 56.96 L60.50 56.76 L61.00 56.55 L61.50 56.33 L62.00 56.11 L62.50 55.89 L63.00 55.66 L63.50 55.44 L64.00 55.21 L64.50 54.97 L65.00 54.74 L65.50 54.51 L66.00 54.27 L66.50 54.04 L67.00 53.80 L67.50 53.57 L68.00 53.33 L68.50 53.10 L69.00 52.86 L69.50 52.63 L70.00 52.39 L70.50 52.16 L71.00 51.93 L71.50 51.69 L72.00 51.46 L72.50 51.22 L73.00 50.97 L73.50 50.73 L74.00 50.48 L74.50 50.23 L75.00 49.98 L75.50 49.72 L76.00 49.46 L76.50 49.20 L77.00 48.94 L77.50 48.68 L78.00 48.41 L78.50 48.15 L79.00 47.89 L79.50 47.62 L80.00 47.36 L80.50 47.11 L81.00 46.85 L81.50 46.59 L82.00 46.34 L82.50 46.08 L83.00 45.83 L83.50 45.58 L84.00 45.32 L84.50 45.07 L85.00 44.81 L85.50 44.56 L86.00 44.31 L86.50 44.05 L87.00 43.80 L87.50 43.55 L88.00 43.31 L88.50 43.06 L89.00 42.82 L89.50 42.58 L90.00 42.34 L90.50 42.11 L91.00 41.88 L91.50 41.65 L92.00 41.43 L92.50 41.21 L93.00 41.00 L93.50 40.79 L94.00 40.58 L94.50 40.37 L95.00 40.17 L95.50 39.97 L96.00 39.77 L96.50 39.58 L97.00 39.38 L97.50 39.18 L98.00 38.98 L98.50 38.79 L99.00 38.59 L99.50 38.39 L100.00 38.18 L100.50 37.98 L101.00 37.77 L101.50 37.57 L102.00 37.36 L102.50 37.16 L103.00 36.95 L103.50 36.74 L104.00 36.54 L104.50 36.33 L105.00 36.13 L105.50 35.93 L106.00 35.73 L106.50 35.53 L107.00 35.33 L107.50 35.14 L108.00 34.94 L108.50 34.75 L109.00 34.56 L109.50 34.38 L110.00 34.20 L110.50 34.02 L111.00 33.84 L111.50 33.67 L112.00 33.49 L112.50 33.32 L113.00 33.15 L113.50 32.99 L114.00 32.82 L114.50 32.66 L115.00 32.50 L115.50 32.34 L116.00 32.18 L116.50 32.03 L117.00 31.87 L117.50 31.72 L118.00 31.58 L118.50 31.43 L119.00 31.29 L119.50 31.15 L120.00 31.02 L120.50 30.88 L121.00 30.75 L121.50 30.62 L122.00 30.49 L122.50 30.37 L123.00 30.25 L123.50 30.12 L124.00 30.00 L124.50 29.89 L125.00 29.77 L125.50 29.66 L126.00 29.55 L126.50 29.44 L127.00 29.33 L127.50 29.22 L128.00 29.12 L128.50 29.02 L129.00 28.91 L129.50 28.82 L130.00 28.72 L130.50 28.62 L131.00 28.53 L131.50 28.44 L132.00 28.35 L132.50 28.26 L133.00 28.17 L133.50 28.09 L134.00 28.01 L134.50 27.93 L135.00 27.85 L135.50 27.77 L136.00 27.70 L136.50 27.62 L137.00 27.55 L137.50 27.48 L138.00 27.42 L138.50 27.35 L139.00 27.29 L139.50 27.23 L140.00 27.16 L140.50 27.11 L141.00 27.05 L141.50 27.00 L142.00 26.95 L142.50 26.90 L143.00 26.85 L143.50 26.81 L144.00 26.76 L144.50 26.72 L145.00 26.68 L145.50 26.65 L146.00 26.61 L146.50 26.58 L147.00 26.55 L147.50 26.52 L148.00 26.49 L148.50 26.46 L149.00 26.44 L149.50 26.41 L150.00 26.39 L150.50 26.37 L151.00 26.35 L151.50 26.33 L152.00 26.32 L152.50 26.31 L153.00 26.30 L153.50 26.29 L154.00 26.28 L154.50 26.28 L155.00 26.27 L155.50 26.27 L156.00 26.27 L156.50 26.27 L157.00 26.28 L157.50 26.28 L158.00 26.29 L158.50 26.30 L159.00 26.31 L159.50 26.32 L160.00 26.33 L160.50 26.34 L161.00 26.35 L161.50 26.37 L162.00 26.39 L162.50 26.40 L163.00 26.42 L163.50 26.44 L164.00 26.47 L164.50 26.49 L165.00 26.51 L165.50 26.54 L166.00 26.57 L166.50 26.60 L167.00 26.63 L167.50 26.66 L168.00 26.70 L168.50 26.73 L169.00 26.77 L169.50 26.81 L170.00 26.85 L170.50 26.90 L171.00 26.94 L171.50 26.99 L172.00 27.04 L172.50 27.09 L173.00 27.14 L173.50 27.19 L174.00 27.24 L174.50 27.30 L175.00 27.36 L175.50 27.42 L176.00 27.48 L176.50 27.54 L177.00 27.61 L177.50 27.68 L178.00 27.75 L178.50 27.82 L179.00 27.90 L179.50 27.98 L180.00 28.06 L180.50 28.14 L181.00 28.23 L181.50 28.32 L182.00 28.41 L182.50 28.50 L183.00 28.60 L183.50 28.69 L184.00 28.80 L184.50 28.90 L185.00 29.01 L185.50 29.12 L186.00 29.23 L186.50 29.35 L187.00 29.47 L187.50 29.60 L188.00 29.72 L188.50 29.86 L189.00 29.99 L189.50 30.13 L190.00 30.27 L190.50 30.42 L191.00 30.57 L191.50 30.72 L192.00 30.88 L192.50 31.04 L193.00 31.20 L193.50 31.36 L194.00 31.53 L194.50 31.69 L195.00 31.86 L195.50 32.03 L196.00 32.21 L196.50 32.38 L197.00 32.56 L197.50 32.74 L198.00 32.92 L198.50 33.11 L199.00 33.29 L199.50 33.48 L200.00 33.66 L200.50 33.85 L201.00 34.04 L201.50 34.24 L202.00 34.43 L202.50 34.63 L203.00 34.82 L203.50 35.02 L204.00 35.22 L204.50 35.42 L205.00 35.63 L205.50 35.83 L206.00 36.04 L206.50 36.25 L207.00 36.46 L207.50 36.67 L208.00 36.88 L208.50 37.09 L209.00 37.31 L209.50 37.52 L210.00 37.74 L210.50 37.96 L211.00 38.18 L211.50 38.41 L212.00 38.63 L212.50 38.86 L213.00 39.10 L213.50 39.34 L214.00 39.58 L214.50 39.83 L215.00 40.08 L215.50 40.33 L216.00 40.58 L216.50 40.83 L217.00 41.08 L217.50 41.33 L218.00 41.57 L218.50 41.82 L219.00 42.06 L219.50 42.30 L220.00 42.54 L220.50 42.78 L221.00 43.02 L221.50 43.26 L222.00 43.50 L222.50 43.75 L223.00 43.99 L223.50 44.24 L224.00 44.49 L224.50 44.74 L225.00 44.99 L225.50 45.24 L226.00 45.49 L226.50 45.74 L227.00 45.99 L227.50 46.24 L228.00 46.49 L228.50 46.73 L229.00 46.98 L229.50 47.22 L230.00 47.46 L230.50 47.70 L231.00 47.94 L231.50 48.17 L232.00 48.41 L232.50 48.64 L233.00 48.87 L233.50 49.10 L234.00 49.33 L234.50 49.56 L235.00 49.79 L235.50 50.02 L236.00 50.25 L236.50 50.47 L237.00 50.70 L237.50 50.92 L238.00 51.14 L238.50 51.36 L239.00 51.58 L239.50 51.80 L240.00 52.02 L240.50 52.23 L241.00 52.44 L241.50 52.66 L242.00 52.87 L242.50 53.08 L243.00 53.29 L243.50 53.50 L244.00 53.70 L244.50 53.91 L245.00 54.11 L245.50 54.31 L246.00 54.51 L246.50 54.71 L247.00 54.91 L247.50 55.10 L248.00 55.29 L248.50 55.48 L249.00 55.66 L249.50 55.85 L250.00 56.02 L250.50 56.20 L251.00 56.37 L251.50 56.54 L252.00 56.71 L252.50 56.88 L253.00 57.05 L253.50 57.21 L254.00 57.37 L254.50 57.53 L255.00 57.69 L255.50 57.84 L256.00 58.00 L256.50 58.15 L257.00 58.30 L257.50 58.44 L258.00 58.59 L258.50 58.73 L259.00 58.87 L259.50 59.00 L260.00 59.13 L260.50 59.25 L261.00 59.38 L261.50 59.49 L262.00 59.60 L262.50 59.71 L263.00 59.81 L263.50 59.91 L264.00 60.00 L264.50 60.09 L265.00 60.17 L265.50 60.25 L266.00 60.33 L266.50 60.41 L267.00 60.48 L267.50 60.55 L268.00 60.62 L268.50 60.69 L269.00 60.75 L269.50 60.81 L270.00 60.87 L270.50 60.92 L271.00 60.96 L271.50 61.01 L272.00 61.05 L272.50 61.09 L273.00 61.13 L273.50 61.17 L274.00 61.21 L274.50 61.25 L275.00 61.30 L275.50 61.34 L276.00 61.38" fill="none" stroke="#c0c1c4" stroke-width="1.80"/>
<path d="M34.00 61.40 L34.50 61.32 L35.00 61.24 L35.50 61.17 L36.00 61.09 L36.50 61.01 L37.00 60.94 L37.50 60.87 L38.00 60.80 L38.50 60.73 L39.00 60.66 L39.50 60.59 L40.00 60.52 L40.50 60.45 L41.00 60.38 L41.50 60.31 L42.00 60.24 L42.50 60.17 L43.00 60.10 L43.50 60.03 L44.00 59.96 L44.50 59.89 L45.00 59.82 L45.50 59.75 L46.00 59.67 L46.50 59.59 L47.00 59.50 L47.50 59.41 L48.00 59.31 L48.50 59.20 L49.00 59.09 L49.50 58.96 L50.00 58.84 L50.50 58.70 L51.00 58.56 L51.50 58.42 L52.00 58.28 L52.50 58.13 L53.00 57.98 L53.50 57.82 L54.00 57.66 L54.50 57.50 L55.00 57.34 L55.50 57.17 L56.00 57.00 L56.50 56.82 L57.00 56.64 L57.50 56.46 L58.00 56.28 L58.50 56.09 L59.00 55.90 L59.50 55.70 L60.00 55.51 L60.50 55.30 L61.00 55.10 L61.50 54.88 L62.00 54.67 L62.50 54.45 L63.00 54.23 L63.50 54.01 L64.00 53.78 L64.50 53.55 L65.00 53.32 L65.50 53.09 L66.00 52.86 L66.50 52.63 L67.00 52.40 L67.50 52.16 L68.00 51.93 L68.50 51.70 L69.00 51.47 L69.50 51.23 L70.00 51.00 L70.50 50.77 L71.00 50.54 L71.50 50.31 L72.00 50.07 L72.50 49.83 L73.00 49.59 L73.50 49.35 L74.00 49.11 L74.50 48.86 L75.00 48.61 L75.50 48.35 L76.00 48.10 L76.50 47.84 L77.00 47.58 L77.50 47.33 L78.00 47.07 L78.50 46.81 L79.00 46.55 L79.50 46.29 L80.00 46.03 L80.50 45.78 L81.00 45.53 L81.50 45.27 L82.00 45.02 L82.50 44.77 L83.00 44.52 L83.50 44.27 L84.00 44.02 L84.50 43.77 L85.00 43.52 L85.50 43.27 L86.00 43.02 L86.50 42.77 L87.00 42.52 L87.50 42.27 L88.00 42.03 L88.50 41.79 L89.00 41.55 L89.50 41.31 L90.00 41.08 L90.50 40.85 L91.00 40.62 L91.50 40.39 L92.00 40.17 L92.50 39.96 L93.00 39.75 L93.50 39.54 L94.00 39.33 L94.50 39.13 L95.00 38.93 L95.50 38.73 L96.00 38.54 L96.50 38.34 L97.00 38.15 L97.50 37.95 L98.00 37.76 L98.50 37.56 L99.00 37.36 L99.50 37.16 L100.00 36.96 L100.50 36.76 L101.00 36.56 L101.50 36.35 L102.00 36.15 L102.50 35.94 L103.00 35.74 L103.50 35.53 L104.00 35.33 L104.50 35.13 L105.00 34.92 L105.50 34.72 L106.00 34.52 L106.50 34.33 L107.00 34.13 L107.50 33.93 L108.00 33.74 L108.50 33.55 L109.00 33.37 L109.50 33.18 L110.00 33.00 L110.50 32.82 L111.00 32.65 L111.50 32.47 L112.00 32.30 L112.50 32.13 L113.00 31.96 L113.50 31.79 L114.00 31.62 L114.50 31.46 L115.00 31.30 L115.50 31.14 L116.00 30.98 L116.50 30.83 L117.00 30.68 L117.50 30.53 L118.00 30.38 L118.50 30.23 L119.00 30.09 L119.50 29.95 L120.00 29.81 L120.50 29.68 L121.00 29.55 L121.50 29.42 L122.00 29.29 L122.50 29.17 L123.00 29.04 L123.50 28.92 L124.00 28.80 L124.50 28.68 L125.00 28.57 L125.50 28.45 L126.00 28.34 L126.50 28.23 L127.00 28.12 L127.50 28.02 L128.00 27.91 L128.50 27.81 L129.00 27.71 L129.50 27.61 L130.00 27.52 L130.50 27.42 L131.00 27.33 L131.50 27.24 L132.00 27.15 L132.50 27.06 L133.00 26.98 L133.50 26.89 L134.00 26.81 L134.50 26.73 L135.00 26.65 L135.50 26.58 L136.00 26.50 L136.50 26.43 L137.00 26.36 L137.50 26.30 L138.00 26.23 L138.50 26.16 L139.00 26.10 L139.50 26.04 L140.00 25.98 L140.50 25.92 L141.00 25.87 L141.50 25.82 L142.00 25.77 L142.50 25.72 L143.00 25.67 L143.50 25.63 L144.00 25.59 L144.50 25.55 L145.00 25.51 L145.50 25.48 L146.00 25.44 L146.50 25.41 L147.00 25.38 L147.50 25.35 L148.00 25.32 L148.50 25.30 L149.00 25.27 L149.50 25.25 L150.00 25.23 L150.50 25.21 L151.00 25.19 L151.50 25.18 L152.00 25.16 L152.50 25.15 L153.00 25.14 L153.50 25.13 L154.00 25.13 L154.50 25.12 L155.00 25.12 L155.50 25.12 L156.00 25.12 L156.50 25.12 L157.00 25.12 L157.50 25.13 L158.00 25.14 L158.50 25.14 L159.00 25.15 L159.50 25.16 L160.00 25.18 L160.50 25.19 L161.00 25.20 L161.50 25.22 L162.00 25.23 L162.50 25.25 L163.00 25.27 L163.50 25.29 L164.00 25.31 L164.50 25.34 L165.00 25.36 L165.50 25.39 L166.00 25.41 L166.50 25.44 L167.00 25.47 L167.50 25.51 L168.00 25.54 L168.50 25.58 L169.00 25.62 L169.50 25.66 L170.00 25.70 L170.50 25.74 L171.00 25.78 L171.50 25.83 L172.00 25.88 L172.50 25.93 L173.00 25.98 L173.50 26.03 L174.00 26.08 L174.50 26.14 L175.00 26.19 L175.50 26.25 L176.00 26.31 L176.50 26.38 L177.00 26.44 L177.50 26.51 L178.00 26.58 L178.50 26.65 L179.00 26.73 L179.50 26.80 L180.00 26.88 L180.50 26.97 L181.00 27.05 L181.50 27.14 L182.00 27.23 L182.50 27.32 L183.00 27.41 L183.50 27.51 L184.00 27.61 L184.50 27.71 L185.00 27.82 L185.50 27.93 L186.00 28.04 L186.50 28.15 L187.00 28.27 L187.50 28.39 L188.00 28.52 L188.50 28.65 L189.00 28.78 L189.50 28.91 L190.00 29.05 L190.50 29.20 L191.00 29.34 L191.50 29.49 L192.00 29.65 L192.50 29.80 L193.00 29.96 L193.50 30.12 L194.00 30.28 L194.50 30.45 L195.00 30.61 L195.50 30.78 L196.00 30.95 L196.50 31.13 L197.00 31.30 L197.50 31.48 L198.00 31.66 L198.50 31.84 L199.00 32.02 L199.50 32.21 L200.00 32.39 L200.50 32.58 L201.00 32.76 L201.50 32.95 L202.00 33.14 L202.50 33.34 L203.00 33.53 L203.50 33.73 L204.00 33.93 L204.50 34.13 L205.00 34.33 L205.50 34.53 L206.00 34.73 L206.50 34.94 L207.00 35.14 L207.50 35.35 L208.00 35.56 L208.50 35.77 L209.00 35.98 L209.50 36.20 L210.00 36.41 L210.50 36.63 L211.00 36.85 L211.50 37.07 L212.00 37.29 L212.50 37.52 L213.00 37.75 L213.50 37.99 L214.00 38.23 L214.50 38.47 L215.00 38.71 L215.50 38.96 L216.00 39.21 L216.50 39.46 L217.00 39.70 L217.50 39.95 L218.00 40.19 L218.50 40.43 L219.00 40.67 L219.50 40.91 L220.00 41.15 L220.50 41.39 L221.00 41.62 L221.50 41.86 L222.00 42.10 L222.50 42.35 L223.00 42.59 L223.50 42.84 L224.00 43.09 L224.50 43.33 L225.00 43.58 L225.50 43.83 L226.00 44.08 L226.50 44.33 L227.00 44.58 L227.50 44.83 L228.00 45.08 L228.50 45.32 L229.00 45.57 L229.50 45.81 L230.00 46.05 L230.50 46.29 L231.00 46.52 L231.50 46.76 L232.00 46.99 L232.50 47.22 L233.00 47.45 L233.50 47.68 L234.00 47.91 L234.50 48.14 L235.00 48.37 L235.50 48.60 L236.00 48.82 L236.50 49.05 L237.00 49.27 L237.50 49.49 L238.00 49.71 L238.50 49.93 L239.00 50.15 L239.50 50.37 L240.00 50.59 L240.50 50.80 L241.00 51.01 L241.50 51.22 L242.00 51.43 L242.50 51.64 L243.00 51.85 L243.50 52.06 L244.00 52.27 L244.50 52.47 L245.00 52.67 L245.50 52.87 L246.00 53.07 L246.50 53.27 L247.00 53.46 L247.50 53.65 L248.00 53.84 L248.50 54.03 L249.00 54.21 L249.50 54.39 L250.00 54.57 L250.50 54.74 L251.00 54.91 L251.50 55.08 L252.00 55.25 L252.50 55.41 L253.00 55.58 L253.50 55.74 L254.00 55.90 L254.50 56.05 L255.00 56.21 L255.50 56.36 L256.00 56.51 L256.50 56.66 L257.00 56.81 L257.50 56.95 L258.00 57.09 L258.50 57.23 L259.00 57.37 L259.50 57.50 L260.00 57.63 L260.50 57.75 L261.00 57.87 L261.50 57.98 L262.00 58.09 L262.50 58.19 L263.00 58.29 L263.50 58.39 L264.00 58.48 L264.50 58.56 L265.00 58.64 L265.50 58.72 L266.00 58.80 L266.50 58.87 L267.00 58.94 L267.50 59.01 L268.00 59.08 L268.50 59.14 L269.00 59.20 L269.50 59.26 L270.00 59.31 L270.50 59.36 L271.00 59.40 L271.50 59.44 L272.00 59.48 L272.50 59.52 L273.00 59.56 L273.50 59.59 L274.00 59.63 L274.50 59.67 L275.00 59.70 L275.50 59.74 L276.00 59.78" fill="none" stroke="#c0c1c4" stroke-width="1.80"/>
<path d="M34.00 73.21 L34.50 73.06 L35.00 72.91 L35.50 72.76 L36.00 72.61 L36.50 72.46 L37.00 72.31 L37.50 72.17 L38.00 72.03 L38.50 71.90 L39.00 71.77 L39.50 71.64 L40.00 71.51 L40.50 71.39 L41.00 71.27 L41.50 71.15 L42.00 71.03 L42.50 70.91 L43.00 70.80 L43.50 70.68 L44.00 70.57 L44.50 70.46 L45.00 70.35 L45.50 70.24 L46.00 70.12 L46.50 70.00 L47.00 69.87 L47.50 69.74 L48.00 69.60 L48.50 69.46 L49.00 69.31 L49.50 69.15 L50.00 68.98 L50.50 68.81 L51.00 68.64 L51.50 68.46 L52.00 68.28 L52.50 68.10 L53.00 67.91 L53.50 67.72 L54.00 67.53 L54.50 67.33 L55.00 67.13 L55.50 66.93 L56.00 66.73 L56.50 66.52 L57.00 66.31 L57.50 66.09 L58.00 65.88 L58.50 65.66 L59.00 65.43 L59.50 65.21 L60.00 64.98 L60.50 64.75 L61.00 64.51 L61.50 64.27 L62.00 64.02 L62.50 63.78 L63.00 63.53 L63.50 63.28 L64.00 63.02 L64.50 62.77 L65.00 62.52 L65.50 62.26 L66.00 62.01 L66.50 61.76 L67.00 61.50 L67.50 61.25 L68.00 61.00 L68.50 60.75 L69.00 60.50 L69.50 60.25 L70.00 60.00 L70.50 59.76 L71.00 59.51 L71.50 59.26 L72.00 59.01 L72.50 58.76 L73.00 58.50 L73.50 58.24 L74.00 57.98 L74.50 57.71 L75.00 57.44 L75.50 57.16 L76.00 56.89 L76.50 56.60 L77.00 56.32 L77.50 56.04 L78.00 55.75 L78.50 55.46 L79.00 55.18 L79.50 54.89 L80.00 54.61 L80.50 54.33 L81.00 54.05 L81.50 53.77 L82.00 53.50 L82.50 53.22 L83.00 52.95 L83.50 52.68 L84.00 52.40 L84.50 52.13 L85.00 51.86 L85.50 51.58 L86.00 51.31 L86.50 51.04 L87.00 50.77 L87.50 50.50 L88.00 50.24 L88.50 49.98 L89.00 49.72 L89.50 49.46 L90.00 49.20 L90.50 48.95 L91.00 48.71 L91.50 48.46 L92.00 48.23 L92.50 47.99 L93.00 47.76 L93.50 47.54 L94.00 47.32 L94.50 47.10 L95.00 46.88 L95.50 46.67 L96.00 46.46 L96.50 46.25 L97.00 46.04 L97.50 45.83 L98.00 45.62 L98.50 45.41 L99.00 45.20 L99.50 44.99 L100.00 44.77 L100.50 44.56 L101.00 44.34 L101.50 44.13 L102.00 43.91 L102.50 43.69 L103.00 43.48 L103.50 43.26 L104.00 43.05 L104.50 42.83 L105.00 42.62 L105.50 42.41 L106.00 42.20 L106.50 42.00 L107.00 41.79 L107.50 41.59 L108.00 41.39 L108.50 41.20 L109.00 41.00 L109.50 40.81 L110.00 40.63 L110.50 40.45 L111.00 40.27 L111.50 40.09 L112.00 39.91 L112.50 39.74 L113.00 39.57 L113.50 39.40 L114.00 39.23 L114.50 39.07 L115.00 38.91 L115.50 38.75 L116.00 38.59 L116.50 38.44 L117.00 38.29 L117.50 38.14 L118.00 37.99 L118.50 37.85 L119.00 37.71 L119.50 37.57 L120.00 37.44 L120.50 37.30 L121.00 37.17 L121.50 37.04 L122.00 36.92 L122.50 36.79 L123.00 36.67 L123.50 36.55 L124.00 36.43 L124.50 36.31 L125.00 36.20 L125.50 36.08 L126.00 35.97 L126.50 35.86 L127.00 35.75 L127.50 35.64 L128.00 35.53 L128.50 35.43 L129.00 35.32 L129.50 35.22 L130.00 35.12 L130.50 35.02 L131.00 34.92 L131.50 34.83 L132.00 34.73 L132.50 34.64 L133.00 34.54 L133.50 34.45 L134.00 34.37 L134.50 34.28 L135.00 34.19 L135.50 34.11 L136.00 34.03 L136.50 33.95 L137.00 33.87 L137.50 33.79 L138.00 33.72 L138.50 33.64 L139.00 33.57 L139.50 33.50 L140.00 33.43 L140.50 33.37 L141.00 33.30 L141.50 33.24 L142.00 33.18 L142.50 33.13 L143.00 33.07 L143.50 33.02 L144.00 32.97 L144.50 32.92 L145.00 32.87 L145.50 32.83 L146.00 32.79 L146.50 32.75 L147.00 32.71 L147.50 32.67 L148.00 32.63 L148.50 32.60 L149.00 32.57 L149.50 32.54 L150.00 32.51 L150.50 32.48 L151.00 32.46 L151.50 32.44 L152.00 32.42 L152.50 32.40 L153.00 32.39 L153.50 32.37 L154.00 32.36 L154.50 32.35 L155.00 32.35 L155.50 32.34 L156.00 32.34 L156.50 32.34 L157.00 32.34 L157.50 32.35 L158.00 32.35 L158.50 32.36 L159.00 32.36 L159.50 32.37 L160.00 32.38 L160.50 32.39 L161.00 32.41 L161.50 32.42 L162.00 32.44 L162.50 32.45 L163.00 32.47 L163.50 32.49 L164.00 32.51 L164.50 32.54 L165.00 32.56 L165.50 32.59 L166.00 32.62 L166.50 32.65 L167.00 32.68 L167.50 32.71 L168.00 32.75 L168.50 32.78 L169.00 32.82 L169.50 32.87 L170.00 32.91 L170.50 32.95 L171.00 33.00 L171.50 33.05 L172.00 33.10 L172.50 33.15 L173.00 33.20 L173.50 33.25 L174.00 33.31 L174.50 33.37 L175.00 33.43 L175.50 33.49 L176.00 33.56 L176.50 33.62 L177.00 33.69 L177.50 33.77 L178.00 33.84 L178.50 33.92 L179.00 34.00 L179.50 34.08 L180.00 34.17 L180.50 34.26 L181.00 34.35 L181.50 34.44 L182.00 34.54 L182.50 34.64 L183.00 34.74 L183.50 34.85 L184.00 34.96 L184.50 35.07 L185.00 35.19 L185.50 35.31 L186.00 35.44 L186.50 35.57 L187.00 35.70 L187.50 35.84 L188.00 35.98 L188.50 36.13 L189.00 36.28 L189.50 36.43 L190.00 36.59 L190.50 36.75 L191.00 36.91 L191.50 37.08 L192.00 37.25 L192.50 37.42 L193.00 37.60 L193.50 37.77 L194.00 37.95 L194.50 38.13 L195.00 38.32 L195.50 38.50 L196.00 38.68 L196.50 38.87 L197.00 39.06 L197.50 39.25 L198.00 39.45 L198.50 39.64 L199.00 39.84 L199.50 40.04 L200.00 40.24 L200.50 40.44 L201.00 40.64 L201.50 40.85 L202.00 41.05 L202.50 41.26 L203.00 41.47 L203.50 41.68 L204.00 41.89 L204.50 42.11 L205.00 42.32 L205.50 42.54 L206.00 42.76 L206.50 42.98 L207.00 43.20 L207.50 43.42 L208.00 43.65 L208.50 43.87 L209.00 44.10 L209.50 44.33 L210.00 44.56 L210.50 44.80 L211.00 45.03 L211.50 45.27 L212.00 45.51 L212.50 45.75 L213.00 46.01 L213.50 46.26 L214.00 46.52 L214.50 46.79 L215.00 47.07 L215.50 47.34 L216.00 47.62 L216.50 47.88 L217.00 48.15 L217.50 48.41 L218.00 48.67 L218.50 48.92 L219.00 49.17 L219.50 49.42 L220.00 49.67 L220.50 49.91 L221.00 50.16 L221.50 50.40 L222.00 50.65 L222.50 50.90 L223.00 51.15 L223.50 51.40 L224.00 51.65 L224.50 51.90 L225.00 52.16 L225.50 52.41 L226.00 52.66 L226.50 52.92 L227.00 53.17 L227.50 53.42 L228.00 53.67 L228.50 53.92 L229.00 54.17 L229.50 54.41 L230.00 54.66 L230.50 54.90 L231.00 55.14 L231.50 55.37 L232.00 55.61 L232.50 55.84 L233.00 56.08 L233.50 56.31 L234.00 56.54 L234.50 56.77 L235.00 57.01 L235.50 57.23 L236.00 57.46 L236.50 57.69 L237.00 57.92 L237.50 58.14 L238.00 58.37 L238.50 58.59 L239.00 58.81 L239.50 59.04 L240.00 59.26 L240.50 59.48 L241.00 59.69 L241.50 59.91 L242.00 60.12 L242.50 60.34 L243.00 60.55 L243.50 60.76 L244.00 60.97 L244.50 61.18 L245.00 61.39 L245.50 61.60 L246.00 61.81 L246.50 62.01 L247.00 62.21 L247.50 62.41 L248.00 62.61 L248.50 62.81 L249.00 63.00 L249.50 63.19 L250.00 63.38 L250.50 63.56 L251.00 63.74 L251.50 63.92 L252.00 64.10 L252.50 64.28 L253.00 64.45 L253.50 64.62 L254.00 64.79 L254.50 64.96 L255.00 65.13 L255.50 65.30 L256.00 65.46 L256.50 65.62 L257.00 65.78 L257.50 65.93 L258.00 66.09 L258.50 66.24 L259.00 66.39 L259.50 66.53 L260.00 66.67 L260.50 66.81 L261.00 66.94 L261.50 67.06 L262.00 67.19 L262.50 67.30 L263.00 67.42 L263.50 67.52 L264.00 67.63 L264.50 67.73 L265.00 67.82 L265.50 67.92 L266.00 68.01 L266.50 68.09 L267.00 68.18 L267.50 68.27 L268.00 68.35 L268.50 68.43 L269.00 68.51 L269.50 68.58 L270.00 68.65 L270.50 68.72 L271.00 68.78 L271.50 68.84 L272.00 68.90 L272.50 68.95 L273.00 69.01 L273.50 69.06 L274.00 69.12 L274.50 69.17 L275.00 69.23 L275.50 69.29 L276.00 69.34" fill="none" stroke="#000" stroke-width="1.10" stroke-dasharray="1.4 1.5" stroke-dashoffset="2.1"/>
<path d="M34.00 69.59 L34.50 69.46 L35.00 69.33 L35.50 69.21 L36.00 69.08 L36.50 68.96 L37.00 68.83 L37.50 68.71 L38.00 68.59 L38.50 68.48 L39.00 68.37 L39.50 68.26 L40.00 68.15 L40.50 68.05 L41.00 67.94 L41.50 67.84 L42.00 67.73 L42.50 67.63 L43.00 67.53 L43.50 67.43 L44.00 67.34 L44.50 67.24 L45.00 67.14 L45.50 67.04 L46.00 66.93 L46.50 66.83 L47.00 66.71 L47.50 66.59 L48.00 66.47 L48.50 66.33 L49.00 66.19 L49.50 66.05 L50.00 65.89 L50.50 65.73 L51.00 65.57 L51.50 65.41 L52.00 65.24 L52.50 65.06 L53.00 64.89 L53.50 64.71 L54.00 64.53 L54.50 64.34 L55.00 64.16 L55.50 63.97 L56.00 63.77 L56.50 63.57 L57.00 63.37 L57.50 63.17 L58.00 62.96 L58.50 62.75 L59.00 62.54 L59.50 62.32 L60.00 62.11 L60.50 61.88 L61.00 61.66 L61.50 61.42 L62.00 61.19 L62.50 60.95 L63.00 60.71 L63.50 60.47 L64.00 60.23 L64.50 59.98 L65.00 59.73 L65.50 59.49 L66.00 59.24 L66.50 59.00 L67.00 58.75 L67.50 58.50 L68.00 58.26 L68.50 58.02 L69.00 57.77 L69.50 57.53 L70.00 57.29 L70.50 57.04 L71.00 56.80 L71.50 56.56 L72.00 56.31 L72.50 56.07 L73.00 55.81 L73.50 55.56 L74.00 55.30 L74.50 55.04 L75.00 54.78 L75.50 54.51 L76.00 54.24 L76.50 53.97 L77.00 53.69 L77.50 53.41 L78.00 53.14 L78.50 52.86 L79.00 52.58 L79.50 52.30 L80.00 52.03 L80.50 51.76 L81.00 51.49 L81.50 51.22 L82.00 50.95 L82.50 50.68 L83.00 50.42 L83.50 50.15 L84.00 49.89 L84.50 49.62 L85.00 49.35 L85.50 49.09 L86.00 48.82 L86.50 48.56 L87.00 48.30 L87.50 48.04 L88.00 47.78 L88.50 47.52 L89.00 47.27 L89.50 47.02 L90.00 46.77 L90.50 46.52 L91.00 46.28 L91.50 46.05 L92.00 45.82 L92.50 45.59 L93.00 45.36 L93.50 45.14 L94.00 44.93 L94.50 44.72 L95.00 44.51 L95.50 44.30 L96.00 44.09 L96.50 43.89 L97.00 43.68 L97.50 43.48 L98.00 43.27 L98.50 43.06 L99.00 42.86 L99.50 42.65 L100.00 42.44 L100.50 42.23 L101.00 42.02 L101.50 41.81 L102.00 41.60 L102.50 41.38 L103.00 41.17 L103.50 40.96 L104.00 40.75 L104.50 40.54 L105.00 40.33 L105.50 40.12 L106.00 39.92 L106.50 39.71 L107.00 39.51 L107.50 39.31 L108.00 39.12 L108.50 38.92 L109.00 38.73 L109.50 38.55 L110.00 38.36 L110.50 38.18 L111.00 38.00 L111.50 37.83 L112.00 37.65 L112.50 37.48 L113.00 37.31 L113.50 37.14 L114.00 36.98 L114.50 36.81 L115.00 36.65 L115.50 36.49 L116.00 36.34 L116.50 36.18 L117.00 36.03 L117.50 35.88 L118.00 35.74 L118.50 35.59 L119.00 35.45 L119.50 35.32 L120.00 35.18 L120.50 35.05 L121.00 34.92 L121.50 34.79 L122.00 34.66 L122.50 34.54 L123.00 34.42 L123.50 34.29 L124.00 34.18 L124.50 34.06 L125.00 33.94 L125.50 33.83 L126.00 33.72 L126.50 33.61 L127.00 33.50 L127.50 33.39 L128.00 33.29 L128.50 33.18 L129.00 33.08 L129.50 32.98 L130.00 32.88 L130.50 32.78 L131.00 32.69 L131.50 32.59 L132.00 32.50 L132.50 32.41 L133.00 32.32 L133.50 32.23 L134.00 32.14 L134.50 32.06 L135.00 31.98 L135.50 31.90 L136.00 31.82 L136.50 31.74 L137.00 31.66 L137.50 31.59 L138.00 31.52 L138.50 31.45 L139.00 31.38 L139.50 31.31 L140.00 31.25 L140.50 31.18 L141.00 31.12 L141.50 31.06 L142.00 31.01 L142.50 30.95 L143.00 30.90 L143.50 30.85 L144.00 30.81 L144.50 30.76 L145.00 30.72 L145.50 30.68 L146.00 30.64 L146.50 30.60 L147.00 30.56 L147.50 30.53 L148.00 30.50 L148.50 30.47 L149.00 30.44 L149.50 30.41 L150.00 30.38 L150.50 30.36 L151.00 30.34 L151.50 30.32 L152.00 30.30 L152.50 30.28 L153.00 30.27 L153.50 30.26 L154.00 30.25 L154.50 30.24 L155.00 30.24 L155.50 30.24 L156.00 30.24 L156.50 30.24 L157.00 30.24 L157.50 30.24 L158.00 30.25 L158.50 30.26 L159.00 30.26 L159.50 30.27 L160.00 30.29 L160.50 30.30 L161.00 30.31 L161.50 30.33 L162.00 30.34 L162.50 30.36 L163.00 30.38 L163.50 30.40 L164.00 30.42 L164.50 30.45 L165.00 30.47 L165.50 30.50 L166.00 30.53 L166.50 30.56 L167.00 30.59 L167.50 30.62 L168.00 30.66 L168.50 30.69 L169.00 30.73 L169.50 30.78 L170.00 30.82 L170.50 30.86 L171.00 30.91 L171.50 30.96 L172.00 31.01 L172.50 31.06 L173.00 31.11 L173.50 31.16 L174.00 31.22 L174.50 31.28 L175.00 31.34 L175.50 31.40 L176.00 31.46 L176.50 31.53 L177.00 31.60 L177.50 31.67 L178.00 31.74 L178.50 31.82 L179.00 31.90 L179.50 31.98 L180.00 32.07 L180.50 32.15 L181.00 32.24 L181.50 32.34 L182.00 32.43 L182.50 32.53 L183.00 32.63 L183.50 32.73 L184.00 32.84 L184.50 32.95 L185.00 33.07 L185.50 33.19 L186.00 33.31 L186.50 33.43 L187.00 33.56 L187.50 33.70 L188.00 33.83 L188.50 33.98 L189.00 34.12 L189.50 34.27 L190.00 34.42 L190.50 34.58 L191.00 34.74 L191.50 34.90 L192.00 35.07 L192.50 35.24 L193.00 35.41 L193.50 35.58 L194.00 35.75 L194.50 35.93 L195.00 36.11 L195.50 36.29 L196.00 36.47 L196.50 36.65 L197.00 36.84 L197.50 37.03 L198.00 37.22 L198.50 37.41 L199.00 37.60 L199.50 37.80 L200.00 37.99 L200.50 38.19 L201.00 38.39 L201.50 38.59 L202.00 38.79 L202.50 39.00 L203.00 39.20 L203.50 39.41 L204.00 39.62 L204.50 39.83 L205.00 40.04 L205.50 40.25 L206.00 40.47 L206.50 40.69 L207.00 40.90 L207.50 41.12 L208.00 41.34 L208.50 41.57 L209.00 41.79 L209.50 42.02 L210.00 42.24 L210.50 42.47 L211.00 42.70 L211.50 42.93 L212.00 43.17 L212.50 43.41 L213.00 43.66 L213.50 43.91 L214.00 44.17 L214.50 44.43 L215.00 44.69 L215.50 44.96 L216.00 45.23 L216.50 45.49 L217.00 45.75 L217.50 46.01 L218.00 46.26 L218.50 46.51 L219.00 46.76 L219.50 47.01 L220.00 47.25 L220.50 47.50 L221.00 47.74 L221.50 47.98 L222.00 48.23 L222.50 48.48 L223.00 48.73 L223.50 48.98 L224.00 49.23 L224.50 49.48 L225.00 49.73 L225.50 49.99 L226.00 50.24 L226.50 50.49 L227.00 50.74 L227.50 50.99 L228.00 51.24 L228.50 51.49 L229.00 51.74 L229.50 51.99 L230.00 52.23 L230.50 52.47 L231.00 52.71 L231.50 52.94 L232.00 53.18 L232.50 53.41 L233.00 53.65 L233.50 53.88 L234.00 54.11 L234.50 54.34 L235.00 54.57 L235.50 54.80 L236.00 55.03 L236.50 55.26 L237.00 55.49 L237.50 55.71 L238.00 55.93 L238.50 56.16 L239.00 56.38 L239.50 56.60 L240.00 56.82 L240.50 57.04 L241.00 57.25 L241.50 57.47 L242.00 57.68 L242.50 57.90 L243.00 58.11 L243.50 58.32 L244.00 58.53 L244.50 58.74 L245.00 58.95 L245.50 59.15 L246.00 59.36 L246.50 59.56 L247.00 59.76 L247.50 59.96 L248.00 60.16 L248.50 60.35 L249.00 60.54 L249.50 60.73 L250.00 60.91 L250.50 61.09 L251.00 61.27 L251.50 61.45 L252.00 61.63 L252.50 61.80 L253.00 61.97 L253.50 62.14 L254.00 62.31 L254.50 62.48 L255.00 62.64 L255.50 62.80 L256.00 62.96 L256.50 63.12 L257.00 63.28 L257.50 63.43 L258.00 63.58 L258.50 63.73 L259.00 63.87 L259.50 64.01 L260.00 64.15 L260.50 64.28 L261.00 64.41 L261.50 64.54 L262.00 64.66 L262.50 64.77 L263.00 64.88 L263.50 64.99 L264.00 65.09 L264.50 65.18 L265.00 65.27 L265.50 65.36 L266.00 65.45 L266.50 65.53 L267.00 65.62 L267.50 65.70 L268.00 65.78 L268.50 65.86 L269.00 65.93 L269.50 66.00 L270.00 66.06 L270.50 66.12 L271.00 66.18 L271.50 66.24 L272.00 66.29 L272.50 66.34 L273.00 66.39 L273.50 66.44 L274.00 66.49 L274.50 66.54 L275.00 66.60 L275.50 66.65 L276.00 66.70" fill="none" stroke="#000" stroke-width="1.10" stroke-dasharray="1.4 1.5" stroke-dashoffset="2.8"/>
<path d="M34.00 66.70 L34.50 66.59 L35.00 66.48 L35.50 66.37 L36.00 66.26 L36.50 66.15 L37.00 66.04 L37.50 65.94 L38.00 65.84 L38.50 65.74 L39.00 65.64 L39.50 65.55 L40.00 65.46 L40.50 65.36 L41.00 65.27 L41.50 65.17 L42.00 65.08 L42.50 64.99 L43.00 64.90 L43.50 64.81 L44.00 64.73 L44.50 64.64 L45.00 64.55 L45.50 64.46 L46.00 64.36 L46.50 64.26 L47.00 64.16 L47.50 64.05 L48.00 63.93 L48.50 63.81 L49.00 63.68 L49.50 63.54 L50.00 63.39 L50.50 63.24 L51.00 63.09 L51.50 62.93 L52.00 62.77 L52.50 62.61 L53.00 62.44 L53.50 62.27 L54.00 62.10 L54.50 61.92 L55.00 61.74 L55.50 61.56 L56.00 61.37 L56.50 61.18 L57.00 60.99 L57.50 60.79 L58.00 60.59 L58.50 60.39 L59.00 60.19 L59.50 59.98 L60.00 59.77 L60.50 59.55 L61.00 59.33 L61.50 59.11 L62.00 58.88 L62.50 58.65 L63.00 58.41 L63.50 58.18 L64.00 57.94 L64.50 57.70 L65.00 57.46 L65.50 57.22 L66.00 56.98 L66.50 56.74 L67.00 56.50 L67.50 56.26 L68.00 56.02 L68.50 55.77 L69.00 55.53 L69.50 55.30 L70.00 55.06 L70.50 54.82 L71.00 54.58 L71.50 54.34 L72.00 54.10 L72.50 53.85 L73.00 53.61 L73.50 53.36 L74.00 53.10 L74.50 52.85 L75.00 52.59 L75.50 52.32 L76.00 52.06 L76.50 51.79 L77.00 51.52 L77.50 51.25 L78.00 50.98 L78.50 50.71 L79.00 50.44 L79.50 50.17 L80.00 49.90 L80.50 49.63 L81.00 49.37 L81.50 49.11 L82.00 48.84 L82.50 48.58 L83.00 48.32 L83.50 48.06 L84.00 47.80 L84.50 47.54 L85.00 47.28 L85.50 47.02 L86.00 46.76 L86.50 46.50 L87.00 46.24 L87.50 45.99 L88.00 45.73 L88.50 45.48 L89.00 45.23 L89.50 44.99 L90.00 44.74 L90.50 44.50 L91.00 44.27 L91.50 44.04 L92.00 43.81 L92.50 43.58 L93.00 43.37 L93.50 43.15 L94.00 42.94 L94.50 42.73 L95.00 42.52 L95.50 42.32 L96.00 42.11 L96.50 41.91 L97.00 41.71 L97.50 41.51 L98.00 41.31 L98.50 41.10 L99.00 40.90 L99.50 40.70 L100.00 40.49 L100.50 40.28 L101.00 40.07 L101.50 39.86 L102.00 39.65 L102.50 39.45 L103.00 39.24 L103.50 39.03 L104.00 38.82 L104.50 38.61 L105.00 38.40 L105.50 38.20 L106.00 38.00 L106.50 37.79 L107.00 37.59 L107.50 37.40 L108.00 37.20 L108.50 37.01 L109.00 36.82 L109.50 36.63 L110.00 36.45 L110.50 36.27 L111.00 36.09 L111.50 35.92 L112.00 35.74 L112.50 35.57 L113.00 35.40 L113.50 35.23 L114.00 35.07 L114.50 34.90 L115.00 34.74 L115.50 34.58 L116.00 34.43 L116.50 34.27 L117.00 34.12 L117.50 33.97 L118.00 33.83 L118.50 33.68 L119.00 33.54 L119.50 33.40 L120.00 33.27 L120.50 33.13 L121.00 33.00 L121.50 32.87 L122.00 32.74 L122.50 32.62 L123.00 32.50 L123.50 32.38 L124.00 32.26 L124.50 32.14 L125.00 32.02 L125.50 31.91 L126.00 31.80 L126.50 31.69 L127.00 31.58 L127.50 31.47 L128.00 31.37 L128.50 31.26 L129.00 31.16 L129.50 31.06 L130.00 30.96 L130.50 30.87 L131.00 30.77 L131.50 30.68 L132.00 30.58 L132.50 30.49 L133.00 30.41 L133.50 30.32 L134.00 30.24 L134.50 30.15 L135.00 30.07 L135.50 29.99 L136.00 29.92 L136.50 29.84 L137.00 29.77 L137.50 29.70 L138.00 29.63 L138.50 29.56 L139.00 29.49 L139.50 29.43 L140.00 29.36 L140.50 29.30 L141.00 29.24 L141.50 29.19 L142.00 29.13 L142.50 29.08 L143.00 29.03 L143.50 28.98 L144.00 28.94 L144.50 28.89 L145.00 28.85 L145.50 28.81 L146.00 28.78 L146.50 28.74 L147.00 28.71 L147.50 28.67 L148.00 28.64 L148.50 28.61 L149.00 28.59 L149.50 28.56 L150.00 28.54 L150.50 28.51 L151.00 28.49 L151.50 28.47 L152.00 28.46 L152.50 28.44 L153.00 28.43 L153.50 28.42 L154.00 28.41 L154.50 28.41 L155.00 28.40 L155.50 28.40 L156.00 28.40 L156.50 28.40 L157.00 28.41 L157.50 28.41 L158.00 28.42 L158.50 28.42 L159.00 28.43 L159.50 28.44 L160.00 28.45 L160.50 28.46 L161.00 28.48 L161.50 28.49 L162.00 28.51 L162.50 28.53 L163.00 28.55 L163.50 28.57 L164.00 28.59 L164.50 28.61 L165.00 28.64 L165.50 28.66 L166.00 28.69 L166.50 28.72 L167.00 28.75 L167.50 28.79 L168.00 28.82 L168.50 28.86 L169.00 28.90 L169.50 28.94 L170.00 28.98 L170.50 29.02 L171.00 29.07 L171.50 29.12 L172.00 29.16 L172.50 29.21 L173.00 29.26 L173.50 29.32 L174.00 29.37 L174.50 29.43 L175.00 29.49 L175.50 29.55 L176.00 29.61 L176.50 29.68 L177.00 29.74 L177.50 29.81 L178.00 29.89 L178.50 29.96 L179.00 30.04 L179.50 30.12 L180.00 30.20 L180.50 30.29 L181.00 30.38 L181.50 30.47 L182.00 30.56 L182.50 30.66 L183.00 30.75 L183.50 30.85 L184.00 30.96 L184.50 31.07 L185.00 31.18 L185.50 31.29 L186.00 31.41 L186.50 31.53 L187.00 31.66 L187.50 31.79 L188.00 31.92 L188.50 32.06 L189.00 32.20 L189.50 32.34 L190.00 32.49 L190.50 32.64 L191.00 32.80 L191.50 32.95 L192.00 33.11 L192.50 33.28 L193.00 33.44 L193.50 33.61 L194.00 33.78 L194.50 33.95 L195.00 34.13 L195.50 34.30 L196.00 34.48 L196.50 34.66 L197.00 34.84 L197.50 35.03 L198.00 35.21 L198.50 35.40 L199.00 35.59 L199.50 35.78 L200.00 35.97 L200.50 36.17 L201.00 36.36 L201.50 36.56 L202.00 36.76 L202.50 36.96 L203.00 37.16 L203.50 37.36 L204.00 37.57 L204.50 37.77 L205.00 37.98 L205.50 38.19 L206.00 38.40 L206.50 38.61 L207.00 38.82 L207.50 39.04 L208.00 39.26 L208.50 39.47 L209.00 39.69 L209.50 39.92 L210.00 40.14 L210.50 40.36 L211.00 40.59 L211.50 40.82 L212.00 41.05 L212.50 41.28 L213.00 41.53 L213.50 41.77 L214.00 42.02 L214.50 42.28 L215.00 42.53 L215.50 42.79 L216.00 43.05 L216.50 43.31 L217.00 43.57 L217.50 43.82 L218.00 44.07 L218.50 44.31 L219.00 44.56 L219.50 44.80 L220.00 45.05 L220.50 45.29 L221.00 45.53 L221.50 45.77 L222.00 46.02 L222.50 46.26 L223.00 46.51 L223.50 46.76 L224.00 47.01 L224.50 47.26 L225.00 47.51 L225.50 47.76 L226.00 48.01 L226.50 48.26 L227.00 48.51 L227.50 48.76 L228.00 49.01 L228.50 49.26 L229.00 49.51 L229.50 49.75 L230.00 49.99 L230.50 50.23 L231.00 50.47 L231.50 50.70 L232.00 50.94 L232.50 51.17 L233.00 51.41 L233.50 51.64 L234.00 51.87 L234.50 52.10 L235.00 52.33 L235.50 52.56 L236.00 52.78 L236.50 53.01 L237.00 53.23 L237.50 53.46 L238.00 53.68 L238.50 53.90 L239.00 54.12 L239.50 54.34 L240.00 54.56 L240.50 54.78 L241.00 54.99 L241.50 55.21 L242.00 55.42 L242.50 55.63 L243.00 55.84 L243.50 56.05 L244.00 56.26 L244.50 56.47 L245.00 56.67 L245.50 56.88 L246.00 57.08 L246.50 57.28 L247.00 57.48 L247.50 57.67 L248.00 57.87 L248.50 58.06 L249.00 58.24 L249.50 58.43 L250.00 58.61 L250.50 58.79 L251.00 58.96 L251.50 59.14 L252.00 59.31 L252.50 59.48 L253.00 59.65 L253.50 59.82 L254.00 59.98 L254.50 60.15 L255.00 60.31 L255.50 60.47 L256.00 60.62 L256.50 60.78 L257.00 60.93 L257.50 61.08 L258.00 61.23 L258.50 61.37 L259.00 61.51 L259.50 61.65 L260.00 61.78 L260.50 61.91 L261.00 62.04 L261.50 62.16 L262.00 62.27 L262.50 62.38 L263.00 62.49 L263.50 62.59 L264.00 62.68 L264.50 62.78 L265.00 62.87 L265.50 62.95 L266.00 63.03 L266.50 63.11 L267.00 63.19 L267.50 63.27 L268.00 63.34 L268.50 63.42 L269.00 63.48 L269.50 63.55 L270.00 63.61 L270.50 63.66 L271.00 63.71 L271.50 63.76 L272.00 63.81 L272.50 63.86 L273.00 63.91 L273.50 63.95 L274.00 64.00 L274.50 64.04 L275.00 64.09 L275.50 64.14 L276.00 64.18" fill="none" stroke="#000" stroke-width="0.95" stroke-dasharray="1.4 1.5" stroke-dashoffset="3.5"/>
<path d="M34.00 64.26 L34.50 64.16 L35.00 64.07 L35.50 63.97 L36.00 63.88 L36.50 63.79 L37.00 63.69 L37.50 63.61 L38.00 63.52 L38.50 63.43 L39.00 63.35 L39.50 63.27 L40.00 63.19 L40.50 63.10 L41.00 63.02 L41.50 62.94 L42.00 62.85 L42.50 62.77 L43.00 62.69 L43.50 62.61 L44.00 62.53 L44.50 62.45 L45.00 62.37 L45.50 62.29 L46.00 62.20 L46.50 62.11 L47.00 62.02 L47.50 61.91 L48.00 61.80 L48.50 61.69 L49.00 61.57 L49.50 61.44 L50.00 61.30 L50.50 61.16 L51.00 61.01 L51.50 60.86 L52.00 60.71 L52.50 60.55 L53.00 60.39 L53.50 60.23 L54.00 60.06 L54.50 59.89 L55.00 59.72 L55.50 59.54 L56.00 59.36 L56.50 59.18 L57.00 58.99 L57.50 58.80 L58.00 58.61 L58.50 58.42 L59.00 58.22 L59.50 58.01 L60.00 57.81 L60.50 57.60 L61.00 57.39 L61.50 57.17 L62.00 56.95 L62.50 56.72 L63.00 56.49 L63.50 56.26 L64.00 56.03 L64.50 55.80 L65.00 55.56 L65.50 55.32 L66.00 55.09 L66.50 54.85 L67.00 54.61 L67.50 54.38 L68.00 54.14 L68.50 53.90 L69.00 53.67 L69.50 53.43 L70.00 53.20 L70.50 52.96 L71.00 52.73 L71.50 52.49 L72.00 52.25 L72.50 52.01 L73.00 51.77 L73.50 51.52 L74.00 51.27 L74.50 51.02 L75.00 50.76 L75.50 50.50 L76.00 50.24 L76.50 49.98 L77.00 49.72 L77.50 49.45 L78.00 49.19 L78.50 48.92 L79.00 48.65 L79.50 48.39 L80.00 48.13 L80.50 47.87 L81.00 47.61 L81.50 47.35 L82.00 47.09 L82.50 46.84 L83.00 46.58 L83.50 46.32 L84.00 46.07 L84.50 45.81 L85.00 45.55 L85.50 45.30 L86.00 45.04 L86.50 44.79 L87.00 44.54 L87.50 44.29 L88.00 44.04 L88.50 43.79 L89.00 43.54 L89.50 43.30 L90.00 43.06 L90.50 42.83 L91.00 42.60 L91.50 42.37 L92.00 42.14 L92.50 41.92 L93.00 41.71 L93.50 41.50 L94.00 41.29 L94.50 41.08 L95.00 40.88 L95.50 40.68 L96.00 40.48 L96.50 40.28 L97.00 40.08 L97.50 39.88 L98.00 39.68 L98.50 39.48 L99.00 39.28 L99.50 39.08 L100.00 38.88 L100.50 38.67 L101.00 38.46 L101.50 38.26 L102.00 38.05 L102.50 37.84 L103.00 37.64 L103.50 37.43 L104.00 37.22 L104.50 37.02 L105.00 36.81 L105.50 36.61 L106.00 36.41 L106.50 36.21 L107.00 36.01 L107.50 35.81 L108.00 35.62 L108.50 35.43 L109.00 35.24 L109.50 35.06 L110.00 34.87 L110.50 34.69 L111.00 34.52 L111.50 34.34 L112.00 34.17 L112.50 34.00 L113.00 33.83 L113.50 33.66 L114.00 33.49 L114.50 33.33 L115.00 33.17 L115.50 33.01 L116.00 32.85 L116.50 32.70 L117.00 32.55 L117.50 32.40 L118.00 32.25 L118.50 32.11 L119.00 31.96 L119.50 31.82 L120.00 31.69 L120.50 31.56 L121.00 31.42 L121.50 31.29 L122.00 31.17 L122.50 31.04 L123.00 30.92 L123.50 30.80 L124.00 30.68 L124.50 30.56 L125.00 30.44 L125.50 30.33 L126.00 30.22 L126.50 30.11 L127.00 30.00 L127.50 29.89 L128.00 29.79 L128.50 29.69 L129.00 29.59 L129.50 29.49 L130.00 29.39 L130.50 29.29 L131.00 29.20 L131.50 29.11 L132.00 29.02 L132.50 28.93 L133.00 28.84 L133.50 28.76 L134.00 28.67 L134.50 28.59 L135.00 28.51 L135.50 28.44 L136.00 28.36 L136.50 28.29 L137.00 28.21 L137.50 28.14 L138.00 28.08 L138.50 28.01 L139.00 27.94 L139.50 27.88 L140.00 27.82 L140.50 27.76 L141.00 27.70 L141.50 27.65 L142.00 27.60 L142.50 27.55 L143.00 27.50 L143.50 27.45 L144.00 27.41 L144.50 27.37 L145.00 27.33 L145.50 27.29 L146.00 27.26 L146.50 27.22 L147.00 27.19 L147.50 27.16 L148.00 27.13 L148.50 27.10 L149.00 27.08 L149.50 27.05 L150.00 27.03 L150.50 27.01 L151.00 26.99 L151.50 26.97 L152.00 26.96 L152.50 26.94 L153.00 26.93 L153.50 26.92 L154.00 26.92 L154.50 26.91 L155.00 26.91 L155.50 26.91 L156.00 26.91 L156.50 26.91 L157.00 26.91 L157.50 26.92 L158.00 26.92 L158.50 26.93 L159.00 26.94 L159.50 26.95 L160.00 26.96 L160.50 26.97 L161.00 26.99 L161.50 27.00 L162.00 27.02 L162.50 27.04 L163.00 27.05 L163.50 27.07 L164.00 27.10 L164.50 27.12 L165.00 27.15 L165.50 27.17 L166.00 27.20 L166.50 27.23 L167.00 27.26 L167.50 27.29 L168.00 27.33 L168.50 27.37 L169.00 27.40 L169.50 27.44 L170.00 27.49 L170.50 27.53 L171.00 27.57 L171.50 27.62 L172.00 27.67 L172.50 27.72 L173.00 27.77 L173.50 27.82 L174.00 27.88 L174.50 27.93 L175.00 27.99 L175.50 28.05 L176.00 28.11 L176.50 28.18 L177.00 28.24 L177.50 28.31 L178.00 28.38 L178.50 28.46 L179.00 28.53 L179.50 28.61 L180.00 28.69 L180.50 28.78 L181.00 28.87 L181.50 28.95 L182.00 29.05 L182.50 29.14 L183.00 29.24 L183.50 29.34 L184.00 29.44 L184.50 29.54 L185.00 29.65 L185.50 29.76 L186.00 29.88 L186.50 30.00 L187.00 30.12 L187.50 30.25 L188.00 30.37 L188.50 30.51 L189.00 30.64 L189.50 30.79 L190.00 30.93 L190.50 31.08 L191.00 31.23 L191.50 31.38 L192.00 31.54 L192.50 31.70 L193.00 31.86 L193.50 32.03 L194.00 32.19 L194.50 32.36 L195.00 32.53 L195.50 32.71 L196.00 32.88 L196.50 33.06 L197.00 33.24 L197.50 33.42 L198.00 33.60 L198.50 33.79 L199.00 33.97 L199.50 34.16 L200.00 34.35 L200.50 34.54 L201.00 34.73 L201.50 34.92 L202.00 35.12 L202.50 35.31 L203.00 35.51 L203.50 35.71 L204.00 35.91 L204.50 36.12 L205.00 36.32 L205.50 36.53 L206.00 36.74 L206.50 36.95 L207.00 37.16 L207.50 37.37 L208.00 37.58 L208.50 37.80 L209.00 38.01 L209.50 38.23 L210.00 38.45 L210.50 38.67 L211.00 38.89 L211.50 39.12 L212.00 39.35 L212.50 39.58 L213.00 39.82 L213.50 40.06 L214.00 40.30 L214.50 40.55 L215.00 40.80 L215.50 41.06 L216.00 41.31 L216.50 41.57 L217.00 41.82 L217.50 42.06 L218.00 42.31 L218.50 42.55 L219.00 42.80 L219.50 43.04 L220.00 43.28 L220.50 43.52 L221.00 43.76 L221.50 44.00 L222.00 44.25 L222.50 44.49 L223.00 44.74 L223.50 44.98 L224.00 45.23 L224.50 45.48 L225.00 45.73 L225.50 45.98 L226.00 46.23 L226.50 46.48 L227.00 46.73 L227.50 46.98 L228.00 47.23 L228.50 47.48 L229.00 47.72 L229.50 47.97 L230.00 48.21 L230.50 48.45 L231.00 48.69 L231.50 48.92 L232.00 49.15 L232.50 49.39 L233.00 49.62 L233.50 49.85 L234.00 50.08 L234.50 50.31 L235.00 50.54 L235.50 50.77 L236.00 50.99 L236.50 51.22 L237.00 51.44 L237.50 51.67 L238.00 51.89 L238.50 52.11 L239.00 52.33 L239.50 52.55 L240.00 52.77 L240.50 52.98 L241.00 53.19 L241.50 53.41 L242.00 53.62 L242.50 53.83 L243.00 54.04 L243.50 54.25 L244.00 54.46 L244.50 54.66 L245.00 54.87 L245.50 55.07 L246.00 55.27 L246.50 55.47 L247.00 55.66 L247.50 55.86 L248.00 56.05 L248.50 56.24 L249.00 56.42 L249.50 56.60 L250.00 56.78 L250.50 56.96 L251.00 57.13 L251.50 57.31 L252.00 57.48 L252.50 57.65 L253.00 57.81 L253.50 57.98 L254.00 58.14 L254.50 58.30 L255.00 58.46 L255.50 58.61 L256.00 58.77 L256.50 58.92 L257.00 59.07 L257.50 59.22 L258.00 59.36 L258.50 59.50 L259.00 59.64 L259.50 59.78 L260.00 59.91 L260.50 60.03 L261.00 60.16 L261.50 60.27 L262.00 60.39 L262.50 60.49 L263.00 60.60 L263.50 60.69 L264.00 60.79 L264.50 60.88 L265.00 60.96 L265.50 61.04 L266.00 61.12 L266.50 61.20 L267.00 61.27 L267.50 61.35 L268.00 61.42 L268.50 61.49 L269.00 61.55 L269.50 61.61 L270.00 61.67 L270.50 61.72 L271.00 61.77 L271.50 61.82 L272.00 61.86 L272.50 61.90 L273.00 61.95 L273.50 61.99 L274.00 62.03 L274.50 62.07 L275.00 62.11 L275.50 62.16 L276.00 62.20" fill="none" stroke="#000" stroke-width="0.95" stroke-dasharray="1.4 1.5" stroke-dashoffset="4.2"/>
<path d="M34.00 122.00 L34.50 121.44 L35.00 120.87 L35.50 120.31 L36.00 119.74 L36.50 119.17 L37.00 118.61 L37.50 118.04 L38.00 117.48 L38.50 116.91 L39.00 116.35 L39.50 115.78 L40.00 115.22 L40.50 114.66 L41.00 114.11 L41.50 113.55 L42.00 113.00 L42.50 112.45 L43.00 111.89 L43.50 111.34 L44.00 110.78 L44.50 110.22 L45.00 109.66 L45.50 109.11 L46.00 108.56 L46.50 108.02 L47.00 107.48 L47.50 106.95 L48.00 106.42 L48.50 105.90 L49.00 105.39 L49.50 104.89 L50.00 104.40 L50.50 103.92 L51.00 103.44 L51.50 102.97 L52.00 102.50 L52.50 102.04 L53.00 101.58 L53.50 101.13 L54.00 100.68 L54.50 100.23 L55.00 99.78 L55.50 99.34 L56.00 98.89 L56.50 98.45 L57.00 98.01 L57.50 97.57 L58.00 97.13 L58.50 96.69 L59.00 96.26 L59.50 95.82 L60.00 95.38 L60.50 94.94 L61.00 94.50 L61.50 94.06 L62.00 93.62 L62.50 93.19 L63.00 92.76 L63.50 92.33 L64.00 91.90 L64.50 91.47 L65.00 91.05 L65.50 90.62 L66.00 90.20 L66.50 89.78 L67.00 89.36 L67.50 88.94 L68.00 88.52 L68.50 88.10 L69.00 87.68 L69.50 87.27 L70.00 86.86 L70.50 86.45 L71.00 86.04 L71.50 85.63 L72.00 85.23 L72.50 84.82 L73.00 84.41 L73.50 84.00 L74.00 83.59 L74.50 83.17 L75.00 82.76 L75.50 82.34 L76.00 81.93 L76.50 81.51 L77.00 81.09 L77.50 80.68 L78.00 80.26 L78.50 79.85 L79.00 79.44 L79.50 79.03 L80.00 78.62 L80.50 78.21 L81.00 77.80 L81.50 77.40 L82.00 77.00 L82.50 76.60 L83.00 76.20 L83.50 75.80 L84.00 75.40 L84.50 75.00 L85.00 74.60 L85.50 74.20 L86.00 73.81 L86.50 73.41 L87.00 73.02 L87.50 72.64 L88.00 72.25 L88.50 71.87 L89.00 71.50 L89.50 71.13 L90.00 70.77 L90.50 70.41 L91.00 70.06 L91.50 69.72 L92.00 69.38 L92.50 69.05 L93.00 68.73 L93.50 68.41 L94.00 68.09 L94.50 67.78 L95.00 67.47 L95.50 67.17 L96.00 66.86 L96.50 66.56 L97.00 66.25 L97.50 65.95 L98.00 65.64 L98.50 65.34 L99.00 65.03 L99.50 64.72 L100.00 64.40 L100.50 64.08 L101.00 63.76 L101.50 63.44 L102.00 63.11 L102.50 62.79 L103.00 62.46 L103.50 62.13 L104.00 61.80 L104.50 61.48 L105.00 61.15 L105.50 60.82 L106.00 60.50 L106.50 60.18 L107.00 59.86 L107.50 59.54 L108.00 59.23 L108.50 58.92 L109.00 58.62 L109.50 58.31 L110.00 58.02 L110.50 57.73 L111.00 57.44 L111.50 57.15 L112.00 56.86 L112.50 56.58 L113.00 56.30 L113.50 56.02 L114.00 55.74 L114.50 55.47 L115.00 55.20 L115.50 54.93 L116.00 54.67 L116.50 54.41 L117.00 54.15 L117.50 53.89 L118.00 53.64 L118.50 53.40 L119.00 53.16 L119.50 52.92 L120.00 52.68 L120.50 52.45 L121.00 52.23 L121.50 52.01 L122.00 51.79 L122.50 51.57 L123.00 51.36 L123.50 51.15 L124.00 50.94 L124.50 50.74 L125.00 50.54 L125.50 50.34 L126.00 50.15 L126.50 49.97 L127.00 49.78 L127.50 49.60 L128.00 49.43 L128.50 49.26 L129.00 49.10 L129.50 48.94 L130.00 48.78 L130.50 48.63 L131.00 48.48 L131.50 48.34 L132.00 48.21 L132.50 48.08 L133.00 47.96 L133.50 47.84 L134.00 47.72 L134.50 47.61 L135.00 47.50 L135.50 47.40 L136.00 47.30 L136.50 47.20 L137.00 47.11 L137.50 47.02 L138.00 46.93 L138.50 46.85 L139.00 46.77 L139.50 46.69 L140.00 46.61 L140.50 46.54 L141.00 46.47 L141.50 46.41 L142.00 46.35 L142.50 46.30 L143.00 46.26 L143.50 46.22 L144.00 46.18 L144.50 46.15 L145.00 46.12 L145.50 46.09 L146.00 46.07 L146.50 46.04 L147.00 46.02 L147.50 46.00 L148.00 45.98 L148.50 45.97 L149.00 45.95 L149.50 45.92 L150.00 45.90 L150.50 45.87 L151.00 45.85 L151.50 45.82 L152.00 45.80 L152.50 45.78 L153.00 45.76 L153.50 45.74 L154.00 45.73 L154.50 45.72 L155.00 45.71 L155.50 45.70 L156.00 45.70 L156.50 45.70 L157.00 45.69 L157.50 45.69 L158.00 45.69 L158.50 45.68 L159.00 45.69 L159.50 45.69 L160.00 45.70 L160.50 45.70 L161.00 45.72 L161.50 45.73 L162.00 45.75 L162.50 45.77 L163.00 45.80 L163.50 45.83 L164.00 45.86 L164.50 45.89 L165.00 45.92 L165.50 45.95 L166.00 45.99 L166.50 46.03 L167.00 46.06 L167.50 46.11 L168.00 46.15 L168.50 46.19 L169.00 46.24 L169.50 46.29 L170.00 46.35 L170.50 46.40 L171.00 46.46 L171.50 46.53 L172.00 46.60 L172.50 46.67 L173.00 46.75 L173.50 46.83 L174.00 46.91 L174.50 47.00 L175.00 47.09 L175.50 47.19 L176.00 47.29 L176.50 47.39 L177.00 47.51 L177.50 47.63 L178.00 47.75 L178.50 47.88 L179.00 48.02 L179.50 48.16 L180.00 48.30 L180.50 48.45 L181.00 48.60 L181.50 48.75 L182.00 48.91 L182.50 49.07 L183.00 49.23 L183.50 49.40 L184.00 49.57 L184.50 49.74 L185.00 49.91 L185.50 50.09 L186.00 50.26 L186.50 50.45 L187.00 50.63 L187.50 50.82 L188.00 51.01 L188.50 51.21 L189.00 51.41 L189.50 51.62 L190.00 51.83 L190.50 52.04 L191.00 52.27 L191.50 52.50 L192.00 52.74 L192.50 52.98 L193.00 53.23 L193.50 53.49 L194.00 53.75 L194.50 54.01 L195.00 54.28 L195.50 54.54 L196.00 54.82 L196.50 55.09 L197.00 55.37 L197.50 55.64 L198.00 55.92 L198.50 56.19 L199.00 56.46 L199.50 56.73 L200.00 57.00 L200.50 57.26 L201.00 57.52 L201.50 57.78 L202.00 58.05 L202.50 58.31 L203.00 58.57 L203.50 58.83 L204.00 59.10 L204.50 59.36 L205.00 59.64 L205.50 59.92 L206.00 60.20 L206.50 60.49 L207.00 60.79 L207.50 61.09 L208.00 61.40 L208.50 61.72 L209.00 62.04 L209.50 62.36 L210.00 62.69 L210.50 63.01 L211.00 63.33 L211.50 63.65 L212.00 63.97 L212.50 64.29 L213.00 64.62 L213.50 64.94 L214.00 65.27 L214.50 65.59 L215.00 65.92 L215.50 66.24 L216.00 66.57 L216.50 66.90 L217.00 67.23 L217.50 67.56 L218.00 67.90 L218.50 68.24 L219.00 68.56 L219.50 68.89 L220.00 69.20 L220.50 69.51 L221.00 69.81 L221.50 70.11 L222.00 70.41 L222.50 70.70 L223.00 71.00 L223.50 71.30 L224.00 71.59 L224.50 71.89 L225.00 72.19 L225.50 72.49 L226.00 72.80 L226.50 73.11 L227.00 73.42 L227.50 73.74 L228.00 74.06 L228.50 74.37 L229.00 74.69 L229.50 75.01 L230.00 75.33 L230.50 75.65 L231.00 75.96 L231.50 76.28 L232.00 76.59 L232.50 76.90 L233.00 77.20 L233.50 77.50 L234.00 77.79 L234.50 78.08 L235.00 78.37 L235.50 78.65 L236.00 78.94 L236.50 79.22 L237.00 79.50 L237.50 79.78 L238.00 80.07 L238.50 80.35 L239.00 80.65 L239.50 80.94 L240.00 81.24 L240.50 81.54 L241.00 81.85 L241.50 82.16 L242.00 82.47 L242.50 82.78 L243.00 83.09 L243.50 83.40 L244.00 83.71 L244.50 84.03 L245.00 84.34 L245.50 84.65 L246.00 84.96 L246.50 85.26 L247.00 85.57 L247.50 85.87 L248.00 86.18 L248.50 86.49 L249.00 86.80 L249.50 87.10 L250.00 87.41 L250.50 87.71 L251.00 88.01 L251.50 88.31 L252.00 88.61 L252.50 88.90 L253.00 89.19 L253.50 89.47 L254.00 89.75 L254.50 90.03 L255.00 90.31 L255.50 90.59 L256.00 90.86 L256.50 91.13 L257.00 91.40 L257.50 91.66 L258.00 91.92 L258.50 92.18 L259.00 92.42 L259.50 92.66 L260.00 92.90 L260.50 93.13 L261.00 93.35 L261.50 93.57 L262.00 93.78 L262.50 93.99 L263.00 94.19 L263.50 94.39 L264.00 94.59 L264.50 94.78 L265.00 94.97 L265.50 95.15 L266.00 95.33 L266.50 95.50 L267.00 95.67 L267.50 95.82 L268.00 95.97 L268.50 96.11 L269.00 96.24 L269.50 96.37 L270.00 96.48 L270.50 96.59 L271.00 96.70 L271.50 96.80 L272.00 96.90 L272.50 96.99 L273.00 97.08 L273.50 97.16 L274.00 97.22 L274.50 97.29 L275.00 97.35 L275.50 97.41 L276.00 97.47" fill="none" stroke="#c6c7ca" stroke-width="1.7"/>
<path d="M34.00 132.50 L34.44 132.94 L34.89 133.38 L35.33 133.82 L35.77 134.26 L36.21 134.69 L36.65 135.13 L37.09 135.56 L37.53 136.00 L37.98 136.43 L38.42 136.87 L38.86 137.31 L39.30 137.75 L39.75 138.20 L40.20 138.65 L40.64 139.10 L41.09 139.56 L41.55 140.03 L42.00 140.50 L42.41 140.93 L42.82 141.36 L43.22 141.79 L43.63 142.23 L44.03 142.67 L44.43 143.11 L44.84 143.55 L45.24 144.00 L45.65 144.45 L46.06 144.90 L46.48 145.36 L46.89 145.81 L47.31 146.28 L47.74 146.74 L48.16 147.21 L48.60 147.68 L49.04 148.15 L49.49 148.63 L49.94 149.11 L50.40 149.60 L50.79 150.01 L51.19 150.43 L51.59 150.85 L52.01 151.28 L52.42 151.71 L52.84 152.15 L53.27 152.60 L53.70 153.04 L54.13 153.49 L54.56 153.94 L55.00 154.39 L55.44 154.84 L55.88 155.29 L56.32 155.74 L56.75 156.18 L57.19 156.63 L57.63 157.07 L58.06 157.50 L58.50 157.94 L58.93 158.36 L59.35 158.78 L59.77 159.20 L60.19 159.60 L60.60 160.00 L61.07 160.45 L61.53 160.89 L62.00 161.33 L62.46 161.77 L62.92 162.20 L63.38 162.63 L63.84 163.05 L64.30 163.47 L64.76 163.88 L65.21 164.29 L65.66 164.70 L66.11 165.10 L66.56 165.49 L67.00 165.89 L67.44 166.27 L67.88 166.66 L68.31 167.03 L68.74 167.41 L69.16 167.78 L69.58 168.14 L70.00 168.50 L70.51 168.94 L71.01 169.36 L71.50 169.78 L71.99 170.19 L72.48 170.59 L72.96 170.99 L73.43 171.37 L73.90 171.76 L74.36 172.13 L74.83 172.50 L75.28 172.87 L75.74 173.23 L76.20 173.59 L76.65 173.94 L77.10 174.30 L77.55 174.65 L78.00 175.00 L78.50 175.39 L78.99 175.75 L79.46 176.10 L79.92 176.44 L80.38 176.77 L80.83 177.10 L81.28 177.42 L81.74 177.75 L82.20 178.08 L82.68 178.43 L83.16 178.78 L83.67 179.15 L84.19 179.54 L84.73 179.96 L85.30 180.40 L85.72 180.73 L86.16 181.08 L86.60 181.44 L87.06 181.82 L87.53 182.20 L88.00 182.60 L88.49 183.00 L88.97 183.40 L89.47 183.82 L89.97 184.23 L90.47 184.65 L90.98 185.07 L91.48 185.50 L91.99 185.91 L92.50 186.33 L93.01 186.74 L93.51 187.15 L94.02 187.55 L94.52 187.94 L95.01 188.33 L95.50 188.70 L96.01 189.08 L96.52 189.46 L97.03 189.84 L97.54 190.21 L98.05 190.58 L98.56 190.95 L99.07 191.31 L99.58 191.67 L100.09 192.03 L100.60 192.39 L101.11 192.74 L101.62 193.09 L102.13 193.44 L102.64 193.78 L103.15 194.12 L103.66 194.46 L104.17 194.80 L104.68 195.14 L105.19 195.47 L105.70 195.80 L106.24 196.15 L106.78 196.50 L107.33 196.84 L107.88 197.19 L108.44 197.53 L108.99 197.88 L109.55 198.22 L110.10 198.55 L110.66 198.88 L111.21 199.21 L111.75 199.54 L112.30 199.86 L112.83 200.17 L113.37 200.48 L113.89 200.78 L114.41 201.07 L114.91 201.36 L115.41 201.63 L115.90 201.90 L116.54 202.25 L117.17 202.58 L117.78 202.89 L118.37 203.19 L118.95 203.47 L119.52 203.75 L120.09 204.01 L120.65 204.27 L121.20 204.53 L121.75 204.78 L122.31 205.03 L122.87 205.28 L123.43 205.54 L124.00 205.80 L124.57 206.06 L125.14 206.33 L125.71 206.59 L126.27 206.86 L126.83 207.12 L127.39 207.38 L127.96 207.64 L128.52 207.89 L129.09 208.14 L129.66 208.38 L130.23 208.62 L130.82 208.86 L131.40 209.08 L132.00 209.30 L132.56 209.50 L133.13 209.69 L133.70 209.88 L134.28 210.06 L134.86 210.24 L135.44 210.42 L136.03 210.59 L136.62 210.75 L137.21 210.91 L137.81 211.07 L138.40 211.22 L139.00 211.37 L139.60 211.52 L140.20 211.66 L140.80 211.80 L141.40 211.93 L141.99 212.06 L142.58 212.19 L143.17 212.31 L143.76 212.43 L144.36 212.54 L144.95 212.65 L145.55 212.75 L146.16 212.85 L146.77 212.95 L147.39 213.05 L148.03 213.14 L148.67 213.23 L149.33 213.32 L150.00 213.40 L150.58 213.47 L151.17 213.54 L151.78 213.60 L152.40 213.66 L153.03 213.73 L153.67 213.79 L154.32 213.84 L154.97 213.90 L155.62 213.95 L156.28 214.00 L156.93 214.05 L157.57 214.09 L158.21 214.13 L158.83 214.17 L159.45 214.21 L160.05 214.24 L160.63 214.27 L161.20 214.30 L161.90 214.33 L162.57 214.36 L163.22 214.38 L163.85 214.39 L164.47 214.41 L165.08 214.42 L165.67 214.42 L166.27 214.42 L166.87 214.41 L167.47 214.40 L168.08 214.38 L168.70 214.36 L169.34 214.33 L170.00 214.30 L170.59 214.27 L171.19 214.24 L171.80 214.20 L172.41 214.17 L173.02 214.13 L173.64 214.09 L174.27 214.04 L174.90 213.99 L175.53 213.93 L176.17 213.87 L176.81 213.79 L177.44 213.71 L178.08 213.63 L178.72 213.53 L179.36 213.42 L180.00 213.30 L180.58 213.18 L181.17 213.05 L181.79 212.90 L182.41 212.75 L183.04 212.58 L183.68 212.41 L184.32 212.23 L184.96 212.05 L185.59 211.86 L186.21 211.67 L186.82 211.49 L187.41 211.30 L187.98 211.12 L188.52 210.94 L189.04 210.77 L189.53 210.60 L189.99 210.44 L190.40 210.30 L191.23 209.99 L191.78 209.74 L192.15 209.53 L192.47 209.31 L192.84 209.05 L193.38 208.73 L194.20 208.30 L194.61 208.10 L195.05 207.88 L195.53 207.65 L196.04 207.41 L196.57 207.15 L197.13 206.89 L197.70 206.61 L198.29 206.33 L198.90 206.04 L199.52 205.75 L200.14 205.45 L200.76 205.16 L201.39 204.86 L202.01 204.56 L202.63 204.26 L203.23 203.97 L203.82 203.68 L204.40 203.40 L204.94 203.14 L205.47 202.87 L206.01 202.60 L206.55 202.33 L207.08 202.06 L207.62 201.79 L208.16 201.51 L208.69 201.24 L209.23 200.97 L209.77 200.69 L210.31 200.42 L210.84 200.15 L211.38 199.88 L211.92 199.61 L212.45 199.34 L212.99 199.08 L213.53 198.82 L214.06 198.56 L214.60 198.30 L215.16 198.03 L215.72 197.77 L216.27 197.51 L216.81 197.25 L217.35 197.00 L217.89 196.75 L218.43 196.50 L218.97 196.25 L219.51 196.00 L220.06 195.75 L220.62 195.50 L221.18 195.25 L221.75 195.00 L222.33 194.75 L222.93 194.49 L223.53 194.23 L224.16 193.97 L224.80 193.70 L225.32 193.49 L225.84 193.27 L226.38 193.05 L226.93 192.82 L227.49 192.60 L228.06 192.37 L228.64 192.14 L229.22 191.90 L229.80 191.67 L230.39 191.44 L230.99 191.20 L231.59 190.97 L232.18 190.74 L232.78 190.51 L233.38 190.28 L233.97 190.06 L234.57 189.84 L235.15 189.62 L235.74 189.40 L236.32 189.19 L236.89 188.99 L237.45 188.79 L238.00 188.60 L238.63 188.38 L239.26 188.17 L239.88 187.96 L240.51 187.75 L241.13 187.54 L241.75 187.34 L242.37 187.14 L242.98 186.95 L243.59 186.76 L244.20 186.57 L244.80 186.39 L245.40 186.21 L246.00 186.04 L246.58 185.87 L247.17 185.71 L247.75 185.56 L248.32 185.41 L248.89 185.26 L249.45 185.13 L250.00 185.00 L250.68 184.85 L251.36 184.71 L252.03 184.59 L252.69 184.48 L253.34 184.37 L253.98 184.28 L254.62 184.19 L255.25 184.11 L255.87 184.04 L256.48 183.97 L257.09 183.90 L257.69 183.84 L258.28 183.78 L258.86 183.72 L259.43 183.66 L260.00 183.60 L260.68 183.53 L261.34 183.46 L261.98 183.40 L262.60 183.34 L263.21 183.29 L263.81 183.24 L264.41 183.20 L265.00 183.16 L265.59 183.12 L266.18 183.09 L266.78 183.06 L267.38 183.03 L268.00 183.00 L268.62 182.98 L269.25 182.96 L269.88 182.94 L270.51 182.93 L271.14 182.93 L271.77 182.92 L272.40 182.92 L273.04 182.92 L273.67 182.91 L274.30 182.91 L274.94 182.91 L275.57 182.91 L276.20 182.90 L278.20 260.00 L32.00 260.00Z" fill="#00a651"/>
<path d="M60.20 123.70 L60.28 123.02 L60.35 122.34 L60.42 121.65 L60.49 120.97 L60.57 120.29 L60.67 119.63 L60.80 119.00 L60.93 118.43 L61.06 117.94 L61.20 117.48 L61.37 117.00 L61.58 116.46 L61.85 115.81 L62.20 115.00 L62.39 114.56 L62.60 114.09 L62.82 113.58 L63.05 113.05 L63.29 112.50 L63.55 111.92 L63.82 111.33 L64.10 110.72 L64.39 110.10 L64.69 109.48 L64.99 108.86 L65.31 108.23 L65.63 107.61 L65.96 107.00 L66.30 106.40 L66.59 105.90 L66.88 105.39 L67.19 104.87 L67.50 104.35 L67.82 103.82 L68.14 103.28 L68.48 102.75 L68.81 102.21 L69.16 101.68 L69.50 101.14 L69.86 100.62 L70.21 100.10 L70.57 99.58 L70.93 99.08 L71.30 98.59 L71.66 98.11 L72.03 97.65 L72.40 97.20 L72.82 96.72 L73.24 96.25 L73.67 95.81 L74.10 95.38 L74.54 94.96 L74.98 94.56 L75.42 94.16 L75.87 93.77 L76.32 93.38 L76.78 93.00 L77.24 92.61 L77.70 92.22 L78.17 91.83 L78.64 91.43 L79.12 91.02 L79.60 90.60 L80.04 90.21 L80.49 89.81 L80.97 89.40 L81.45 88.98 L81.94 88.56 L82.44 88.13 L82.95 87.70 L83.45 87.27 L83.95 86.84 L84.44 86.42 L84.93 86.01 L85.40 85.60 L85.86 85.21 L86.29 84.83 L86.71 84.47 L87.10 84.12 L87.47 83.80 L87.80 83.50 L88.47 82.87 L88.91 82.43 L89.22 82.09 L89.49 81.77 L89.81 81.40 L90.28 80.91 L91.00 80.20 L91.32 79.89 L91.66 79.55 L92.03 79.19 L92.41 78.80 L92.82 78.39 L93.24 77.96 L93.68 77.51 L94.13 77.06 L94.60 76.59 L95.08 76.13 L95.56 75.65 L96.05 75.18 L96.55 74.71 L97.04 74.25 L97.54 73.80 L98.04 73.36 L98.54 72.94 L99.03 72.54 L99.52 72.16 L100.00 71.80 L100.53 71.43 L101.07 71.07 L101.60 70.73 L102.15 70.39 L102.69 70.08 L103.24 69.77 L103.80 69.47 L104.35 69.18 L104.91 68.89 L105.47 68.62 L106.04 68.35 L106.60 68.08 L107.17 67.81 L107.73 67.55 L108.30 67.29 L108.87 67.03 L109.43 66.77 L110.00 66.50 L110.57 66.24 L111.14 65.98 L111.72 65.73 L112.30 65.48 L112.88 65.24 L113.47 65.00 L114.05 64.76 L114.64 64.53 L115.22 64.29 L115.81 64.06 L116.40 63.83 L116.98 63.60 L117.56 63.37 L118.13 63.14 L118.71 62.91 L119.28 62.68 L119.84 62.44 L120.40 62.20 L120.98 61.94 L121.56 61.68 L122.13 61.42 L122.69 61.15 L123.25 60.89 L123.80 60.62 L124.35 60.36 L124.90 60.09 L125.45 59.82 L126.00 59.56 L126.56 59.30 L127.11 59.04 L127.68 58.78 L128.24 58.53 L128.82 58.28 L129.41 58.04 L130.00 57.80 L130.57 57.58 L131.16 57.35 L131.75 57.13 L132.35 56.90 L132.96 56.68 L133.57 56.46 L134.19 56.24 L134.81 56.02 L135.42 55.81 L136.04 55.61 L136.66 55.40 L137.27 55.21 L137.88 55.02 L138.48 54.84 L139.08 54.66 L139.66 54.50 L140.24 54.34 L140.80 54.20 L141.46 54.04 L142.09 53.89 L142.71 53.76 L143.32 53.64 L143.92 53.53 L144.51 53.42 L145.09 53.33 L145.68 53.25 L146.27 53.17 L146.86 53.10 L147.46 53.03 L148.07 52.97 L148.70 52.91 L149.34 52.85 L150.00 52.80 L150.57 52.76 L151.15 52.72 L151.75 52.69 L152.36 52.67 L152.98 52.64 L153.61 52.63 L154.24 52.61 L154.88 52.60 L155.51 52.59 L156.15 52.59 L156.78 52.59 L157.41 52.59 L158.04 52.59 L158.66 52.59 L159.26 52.59 L159.86 52.59 L160.44 52.60 L161.00 52.60 L161.66 52.60 L162.29 52.61 L162.91 52.61 L163.52 52.62 L164.11 52.63 L164.70 52.64 L165.27 52.65 L165.85 52.66 L166.42 52.68 L167.00 52.71 L167.58 52.74 L168.17 52.77 L168.77 52.81 L169.38 52.85 L170.00 52.90 L170.60 52.95 L171.20 52.99 L171.81 53.04 L172.42 53.09 L173.04 53.14 L173.66 53.19 L174.28 53.24 L174.91 53.31 L175.54 53.38 L176.18 53.46 L176.81 53.55 L177.45 53.65 L178.09 53.76 L178.72 53.89 L179.36 54.04 L180.00 54.20 L180.57 54.36 L181.14 54.54 L181.72 54.72 L182.30 54.92 L182.88 55.14 L183.47 55.36 L184.05 55.59 L184.64 55.83 L185.23 56.08 L185.81 56.33 L186.40 56.58 L186.98 56.84 L187.56 57.10 L188.13 57.36 L188.71 57.63 L189.28 57.89 L189.84 58.15 L190.40 58.40 L190.98 58.67 L191.56 58.94 L192.13 59.21 L192.69 59.48 L193.25 59.76 L193.81 60.03 L194.37 60.31 L194.92 60.60 L195.47 60.88 L196.02 61.17 L196.58 61.46 L197.13 61.76 L197.70 62.06 L198.26 62.36 L198.83 62.67 L199.41 62.98 L200.00 63.30 L200.51 63.57 L201.02 63.85 L201.54 64.14 L202.06 64.42 L202.59 64.71 L203.12 65.00 L203.65 65.30 L204.18 65.60 L204.72 65.90 L205.26 66.20 L205.79 66.50 L206.33 66.81 L206.86 67.12 L207.40 67.43 L207.92 67.74 L208.45 68.05 L208.97 68.36 L209.49 68.67 L210.00 68.99 L210.50 69.30 L211.03 69.63 L211.56 69.97 L212.09 70.32 L212.63 70.67 L213.16 71.02 L213.69 71.38 L214.22 71.74 L214.75 72.09 L215.27 72.45 L215.79 72.81 L216.30 73.16 L216.80 73.52 L217.29 73.86 L217.78 74.21 L218.25 74.54 L218.71 74.87 L219.15 75.19 L219.58 75.50 L220.00 75.80 L220.61 76.24 L221.15 76.64 L221.65 77.00 L222.10 77.33 L222.54 77.66 L222.96 77.98 L223.38 78.31 L223.82 78.67 L224.29 79.05 L224.80 79.48 L225.36 79.96 L226.00 80.50 L226.38 80.82 L226.77 81.17 L227.18 81.53 L227.60 81.90 L228.03 82.29 L228.48 82.68 L228.93 83.09 L229.40 83.51 L229.87 83.94 L230.35 84.38 L230.84 84.82 L231.33 85.26 L231.82 85.71 L232.31 86.17 L232.81 86.62 L233.30 87.07 L233.80 87.52 L234.29 87.97 L234.78 88.41 L235.26 88.85 L235.73 89.28 L236.20 89.70 L236.66 90.12 L237.13 90.54 L237.59 90.96 L238.05 91.38 L238.52 91.80 L238.98 92.22 L239.45 92.64 L239.91 93.07 L240.37 93.49 L240.84 93.91 L241.30 94.33 L241.76 94.75 L242.23 95.17 L242.69 95.59 L243.15 96.01 L243.62 96.43 L244.08 96.84 L244.55 97.26 L245.01 97.67 L245.47 98.08 L245.94 98.49 L246.40 98.90 L246.86 99.31 L247.33 99.71 L247.80 100.11 L248.27 100.50 L248.73 100.90 L249.20 101.29 L249.67 101.68 L250.14 102.07 L250.61 102.46 L251.08 102.85 L251.55 103.24 L252.02 103.63 L252.48 104.02 L252.95 104.41 L253.41 104.80 L253.88 105.19 L254.34 105.59 L254.79 105.98 L255.25 106.38 L255.70 106.78 L256.15 107.19 L256.60 107.60 L257.04 108.01 L257.48 108.43 L257.92 108.84 L258.35 109.26 L258.77 109.68 L259.20 110.10 L259.62 110.52 L260.04 110.94 L260.46 111.37 L260.88 111.79 L261.30 112.22 L261.72 112.65 L262.14 113.08 L262.56 113.51 L262.98 113.94 L263.40 114.37 L263.83 114.81 L264.25 115.24 L264.68 115.68 L265.12 116.12 L265.56 116.56 L266.00 117.00 L266.43 117.42 L266.86 117.85 L267.29 118.27 L267.73 118.70 L268.16 119.13 L268.60 119.57 L269.05 120.00 L269.49 120.43 L269.93 120.87 L270.38 121.31 L270.83 121.74 L271.27 122.18 L271.72 122.62 L272.17 123.06 L272.62 123.50 L273.07 123.94 L273.52 124.38 L273.97 124.81 L274.42 125.25 L274.86 125.69 L275.31 126.13 L275.76 126.56 L276.20 127.00 L276.20 171.60 L275.57 171.64 L274.94 171.68 L274.30 171.72 L273.67 171.75 L273.04 171.78 L272.40 171.81 L271.77 171.85 L271.14 171.89 L270.51 171.93 L269.88 171.99 L269.25 172.05 L268.62 172.12 L268.00 172.20 L267.38 172.29 L266.78 172.38 L266.18 172.47 L265.59 172.57 L265.00 172.67 L264.41 172.78 L263.81 172.91 L263.21 173.04 L262.60 173.18 L261.98 173.33 L261.34 173.51 L260.68 173.69 L260.00 173.90 L259.47 174.07 L258.93 174.25 L258.38 174.44 L257.83 174.64 L257.27 174.85 L256.70 175.06 L256.12 175.28 L255.54 175.51 L254.96 175.75 L254.36 175.99 L253.76 176.24 L253.15 176.49 L252.53 176.75 L251.91 177.01 L251.28 177.27 L250.64 177.53 L250.00 177.80 L249.47 178.02 L248.91 178.25 L248.35 178.49 L247.77 178.74 L247.17 179.00 L246.57 179.26 L245.96 179.52 L245.35 179.78 L244.73 180.05 L244.12 180.32 L243.51 180.59 L242.90 180.86 L242.30 181.12 L241.70 181.38 L241.12 181.64 L240.55 181.89 L240.00 182.13 L239.47 182.36 L238.96 182.59 L238.47 182.80 L238.00 183.00 L237.26 183.32 L236.59 183.62 L236.00 183.88 L235.46 184.13 L234.95 184.36 L234.46 184.58 L233.97 184.80 L233.47 185.01 L232.94 185.24 L232.36 185.47 L231.72 185.73 L231.00 186.00 L230.50 186.18 L229.98 186.37 L229.43 186.56 L228.86 186.76 L228.27 186.95 L227.67 187.15 L227.05 187.35 L226.42 187.56 L225.79 187.76 L225.15 187.97 L224.51 188.18 L223.87 188.40 L223.24 188.61 L222.61 188.82 L222.00 189.04 L221.39 189.25 L220.81 189.47 L220.24 189.68 L219.70 189.90 L219.07 190.16 L218.46 190.43 L217.85 190.70 L217.25 190.98 L216.66 191.25 L216.08 191.54 L215.51 191.82 L214.94 192.10 L214.39 192.38 L213.85 192.66 L213.32 192.93 L212.79 193.20 L212.28 193.46 L211.78 193.72 L211.28 193.96 L210.80 194.20 L210.14 194.52 L209.54 194.82 L208.98 195.10 L208.46 195.37 L207.95 195.62 L207.44 195.88 L206.92 196.13 L206.37 196.40 L205.77 196.68 L205.12 196.98 L204.40 197.30 L203.92 197.51 L203.42 197.73 L202.89 197.96 L202.35 198.19 L201.79 198.43 L201.21 198.68 L200.63 198.93 L200.03 199.18 L199.42 199.43 L198.81 199.68 L198.20 199.94 L197.59 200.19 L196.97 200.44 L196.36 200.68 L195.76 200.92 L195.16 201.16 L194.57 201.38 L194.00 201.60 L193.40 201.83 L192.80 202.05 L192.20 202.27 L191.60 202.50 L191.00 202.71 L190.40 202.93 L189.80 203.14 L189.21 203.35 L188.62 203.56 L188.03 203.76 L187.44 203.95 L186.86 204.14 L186.28 204.33 L185.70 204.51 L185.13 204.68 L184.56 204.84 L184.00 205.00 L183.37 205.17 L182.76 205.33 L182.15 205.48 L181.55 205.63 L180.96 205.77 L180.38 205.90 L179.79 206.03 L179.21 206.15 L178.62 206.26 L178.04 206.36 L177.45 206.46 L176.85 206.56 L176.24 206.64 L175.63 206.72 L175.00 206.80 L174.40 206.87 L173.80 206.92 L173.19 206.98 L172.57 207.02 L171.95 207.06 L171.32 207.10 L170.69 207.13 L170.06 207.15 L169.43 207.17 L168.79 207.18 L168.16 207.20 L167.52 207.20 L166.89 207.21 L166.26 207.21 L165.63 207.21 L165.00 207.20 L164.38 207.19 L163.75 207.18 L163.12 207.16 L162.50 207.13 L161.88 207.10 L161.25 207.07 L160.62 207.03 L160.00 206.99 L159.38 206.95 L158.75 206.91 L158.12 206.86 L157.50 206.81 L156.88 206.76 L156.25 206.71 L155.62 206.65 L155.00 206.60 L154.38 206.55 L153.75 206.49 L153.12 206.44 L152.50 206.38 L151.88 206.33 L151.25 206.27 L150.62 206.21 L150.00 206.14 L149.38 206.08 L148.75 206.01 L148.12 205.93 L147.50 205.86 L146.88 205.78 L146.25 205.69 L145.62 205.60 L145.00 205.50 L144.41 205.40 L143.81 205.30 L143.20 205.19 L142.58 205.08 L141.97 204.96 L141.35 204.84 L140.73 204.71 L140.12 204.58 L139.51 204.45 L138.90 204.32 L138.31 204.19 L137.72 204.06 L137.15 203.92 L136.59 203.79 L136.04 203.66 L135.51 203.53 L135.00 203.40 L134.30 203.22 L133.62 203.03 L132.96 202.84 L132.31 202.64 L131.69 202.45 L131.09 202.26 L130.52 202.07 L129.96 201.88 L129.43 201.70 L128.93 201.52 L128.45 201.36 L128.00 201.20 L127.23 200.93 L126.61 200.70 L126.09 200.49 L125.61 200.28 L125.10 200.06 L124.50 199.80 L123.98 199.58 L123.41 199.35 L122.82 199.10 L122.23 198.85 L121.63 198.59 L121.05 198.33 L120.50 198.06 L120.00 197.80 L119.44 197.46 L118.97 197.13 L118.55 196.80 L118.10 196.44 L117.57 196.05 L116.90 195.60 L116.45 195.33 L115.96 195.04 L115.43 194.73 L114.86 194.41 L114.27 194.08 L113.67 193.74 L113.07 193.40 L112.47 193.05 L111.89 192.70 L111.33 192.35 L110.80 192.00 L110.25 191.62 L109.73 191.24 L109.23 190.86 L108.74 190.48 L108.25 190.09 L107.76 189.69 L107.27 189.29 L106.77 188.87 L106.25 188.44 L105.70 188.00 L105.27 187.66 L104.84 187.32 L104.41 186.98 L103.97 186.64 L103.53 186.30 L103.08 185.94 L102.63 185.58 L102.16 185.20 L101.68 184.81 L101.19 184.39 L100.68 183.96 L100.15 183.49 L99.60 183.00 L99.21 182.64 L98.81 182.26 L98.39 181.87 L97.96 181.46 L97.52 181.03 L97.08 180.60 L96.62 180.15 L96.16 179.70 L95.70 179.24 L95.24 178.78 L94.77 178.32 L94.31 177.86 L93.84 177.40 L93.38 176.94 L92.93 176.49 L92.48 176.05 L92.05 175.62 L91.62 175.20 L91.20 174.80 L90.71 174.33 L90.23 173.87 L89.76 173.42 L89.29 172.97 L88.82 172.53 L88.36 172.09 L87.90 171.66 L87.45 171.24 L87.00 170.82 L86.56 170.40 L86.12 169.99 L85.69 169.58 L85.26 169.18 L84.83 168.78 L84.41 168.39 L84.00 168.00 L83.50 167.53 L83.01 167.07 L82.53 166.63 L82.07 166.19 L81.60 165.76 L81.15 165.34 L80.70 164.92 L80.25 164.50 L79.81 164.08 L79.36 163.67 L78.91 163.25 L78.46 162.83 L78.00 162.40 L78.00 162.40 L77.56 161.92 L77.16 161.49 L76.68 160.96 L76.00 160.20 L75.68 159.84 L75.32 159.43 L74.93 158.99 L74.51 158.52 L74.08 158.03 L73.63 157.52 L73.18 157.00 L72.74 156.48 L72.30 155.97 L71.89 155.48 L71.50 155.00 L71.09 154.49 L70.69 153.99 L70.29 153.49 L69.90 152.99 L69.53 152.49 L69.16 151.99 L68.80 151.49 L68.45 151.00 L68.12 150.50 L67.80 150.00 L67.47 149.44 L67.15 148.89 L66.86 148.33 L66.58 147.78 L66.31 147.22 L66.05 146.67 L65.80 146.11 L65.55 145.56 L65.30 145.00 L65.03 144.40 L64.77 143.82 L64.52 143.26 L64.28 142.69 L64.04 142.09 L63.80 141.46 L63.55 140.77 L63.30 140.00 L63.14 139.47 L62.97 138.90 L62.80 138.30 L62.62 137.66 L62.44 137.01 L62.27 136.34 L62.09 135.66 L61.92 134.99 L61.76 134.34 L61.60 133.70 L61.46 133.10 L61.32 132.53 L61.20 132.00 L61.02 131.22 L60.87 130.50 L60.74 129.83 L60.62 129.21 L60.53 128.62 L60.44 128.06 L60.37 127.52 L60.30 127.00 L60.23 126.23 L60.20 125.56 L60.20 124.94 L60.21 124.33 L60.20 123.70Z" fill="#00a651"/>
<path d="M34.00 173.00 L34.61 173.18 L35.23 173.35 L35.84 173.52 L36.45 173.68 L37.06 173.85 L37.67 174.02 L38.28 174.19 L38.89 174.36 L39.51 174.54 L40.13 174.72 L40.75 174.91 L41.37 175.10 L42.00 175.30 L42.58 175.49 L43.16 175.67 L43.74 175.85 L44.32 176.03 L44.90 176.21 L45.48 176.40 L46.06 176.59 L46.65 176.80 L47.25 177.01 L47.86 177.23 L48.47 177.47 L49.10 177.73 L49.74 178.00 L50.40 178.30 L50.90 178.53 L51.40 178.78 L51.92 179.04 L52.44 179.30 L52.98 179.58 L53.52 179.87 L54.06 180.16 L54.61 180.46 L55.16 180.77 L55.71 181.08 L56.27 181.39 L56.82 181.71 L57.38 182.03 L57.93 182.35 L58.47 182.66 L59.02 182.98 L59.55 183.29 L60.08 183.60 L60.60 183.90 L61.14 184.22 L61.68 184.53 L62.20 184.84 L62.73 185.15 L63.25 185.46 L63.76 185.77 L64.28 186.08 L64.79 186.39 L65.30 186.71 L65.81 187.02 L66.32 187.34 L66.84 187.66 L67.35 187.99 L67.87 188.32 L68.40 188.66 L68.92 189.00 L69.46 189.35 L70.00 189.70 L70.49 190.03 L70.99 190.36 L71.49 190.69 L71.99 191.03 L72.49 191.38 L73.00 191.72 L73.51 192.08 L74.02 192.43 L74.54 192.79 L75.05 193.15 L75.57 193.51 L76.08 193.88 L76.60 194.24 L77.11 194.61 L77.63 194.97 L78.15 195.34 L78.66 195.71 L79.18 196.07 L79.69 196.44 L80.20 196.80 L80.69 197.15 L81.18 197.50 L81.68 197.86 L82.19 198.23 L82.69 198.59 L83.20 198.96 L83.71 199.33 L84.22 199.70 L84.73 200.08 L85.24 200.45 L85.74 200.82 L86.24 201.18 L86.73 201.54 L87.22 201.90 L87.70 202.25 L88.18 202.60 L88.64 202.94 L89.10 203.27 L89.55 203.59 L89.98 203.90 L90.40 204.20 L90.99 204.63 L91.54 205.05 L92.05 205.44 L92.52 205.82 L92.98 206.19 L93.42 206.55 L93.86 206.89 L94.31 207.23 L94.77 207.56 L95.25 207.89 L95.77 208.22 L96.32 208.54 L96.93 208.87 L97.60 209.20 L98.08 209.42 L98.58 209.64 L99.10 209.85 L99.64 210.06 L100.20 210.26 L100.78 210.47 L101.36 210.67 L101.96 210.87 L102.57 211.07 L103.19 211.27 L103.81 211.47 L104.44 211.67 L105.07 211.87 L105.70 212.07 L106.33 212.27 L106.96 212.47 L107.59 212.67 L108.20 212.87 L108.81 213.08 L109.41 213.29 L110.00 213.50 L110.58 213.72 L111.17 213.93 L111.75 214.16 L112.34 214.38 L112.93 214.61 L113.52 214.84 L114.10 215.07 L114.69 215.31 L115.28 215.54 L115.86 215.77 L116.44 216.00 L117.02 216.23 L117.59 216.46 L118.16 216.69 L118.73 216.91 L119.29 217.13 L119.84 217.35 L120.39 217.56 L120.94 217.76 L121.47 217.96 L122.00 218.16 L122.64 218.39 L123.28 218.62 L123.90 218.84 L124.52 219.07 L125.12 219.28 L125.73 219.50 L126.32 219.70 L126.91 219.91 L127.49 220.10 L128.07 220.30 L128.64 220.49 L129.21 220.67 L129.77 220.85 L130.33 221.02 L130.89 221.19 L131.45 221.35 L132.00 221.50 L132.66 221.68 L133.32 221.84 L133.96 222.00 L134.59 222.14 L135.22 222.28 L135.83 222.41 L136.45 222.53 L137.06 222.64 L137.68 222.76 L138.29 222.87 L138.91 222.98 L139.53 223.08 L140.16 223.19 L140.80 223.30 L141.40 223.40 L141.99 223.50 L142.58 223.60 L143.17 223.70 L143.76 223.80 L144.36 223.89 L144.95 223.98 L145.55 224.07 L146.16 224.15 L146.77 224.24 L147.39 224.32 L148.03 224.39 L148.67 224.47 L149.33 224.53 L150.00 224.60 L150.58 224.65 L151.17 224.70 L151.78 224.75 L152.40 224.79 L153.03 224.83 L153.67 224.87 L154.32 224.91 L154.97 224.94 L155.62 224.97 L156.28 225.01 L156.93 225.04 L157.57 225.06 L158.21 225.09 L158.83 225.11 L159.45 225.14 L160.05 225.16 L160.63 225.18 L161.20 225.20 L161.90 225.22 L162.57 225.25 L163.22 225.27 L163.85 225.29 L164.47 225.30 L165.08 225.31 L165.67 225.32 L166.27 225.33 L166.87 225.34 L167.47 225.34 L168.08 225.33 L168.70 225.33 L169.34 225.32 L170.00 225.30 L170.59 225.28 L171.19 225.27 L171.80 225.25 L172.41 225.22 L173.02 225.20 L173.64 225.17 L174.27 225.15 L174.90 225.11 L175.53 225.08 L176.17 225.04 L176.81 224.99 L177.44 224.94 L178.08 224.89 L178.72 224.83 L179.36 224.77 L180.00 224.70 L180.60 224.63 L181.21 224.55 L181.82 224.47 L182.44 224.38 L183.05 224.29 L183.67 224.19 L184.29 224.09 L184.91 223.99 L185.54 223.88 L186.15 223.78 L186.77 223.67 L187.39 223.56 L188.00 223.44 L188.61 223.33 L189.21 223.22 L189.81 223.11 L190.40 223.00 L191.02 222.89 L191.63 222.77 L192.23 222.66 L192.83 222.56 L193.42 222.45 L194.01 222.34 L194.59 222.23 L195.18 222.11 L195.76 221.99 L196.35 221.87 L196.94 221.74 L197.53 221.61 L198.14 221.47 L198.75 221.32 L199.37 221.17 L200.00 221.00 L200.57 220.84 L201.16 220.68 L201.75 220.50 L202.35 220.32 L202.96 220.13 L203.57 219.93 L204.19 219.73 L204.81 219.53 L205.42 219.32 L206.04 219.11 L206.66 218.90 L207.27 218.70 L207.88 218.49 L208.48 218.29 L209.08 218.09 L209.66 217.90 L210.24 217.71 L210.80 217.52 L211.42 217.33 L212.01 217.14 L212.60 216.95 L213.17 216.77 L213.73 216.59 L214.28 216.41 L214.83 216.23 L215.38 216.06 L215.92 215.88 L216.47 215.71 L217.03 215.53 L217.60 215.35 L218.17 215.17 L218.77 214.98 L219.37 214.79 L220.00 214.60 L220.55 214.43 L221.11 214.26 L221.68 214.09 L222.27 213.91 L222.87 213.73 L223.47 213.55 L224.08 213.37 L224.70 213.18 L225.32 213.00 L225.93 212.81 L226.55 212.63 L227.16 212.44 L227.77 212.26 L228.37 212.08 L228.96 211.90 L229.54 211.72 L230.11 211.54 L230.66 211.37 L231.20 211.20 L231.85 210.99 L232.48 210.78 L233.09 210.58 L233.69 210.38 L234.27 210.18 L234.84 209.98 L235.40 209.79 L235.95 209.59 L236.51 209.40 L237.07 209.20 L237.63 209.00 L238.20 208.81 L238.79 208.61 L239.38 208.40 L240.00 208.20 L240.56 208.02 L241.12 207.83 L241.69 207.63 L242.27 207.44 L242.85 207.24 L243.44 207.04 L244.03 206.84 L244.63 206.64 L245.22 206.45 L245.82 206.25 L246.42 206.06 L247.02 205.87 L247.62 205.68 L248.22 205.50 L248.82 205.33 L249.41 205.16 L250.00 205.00 L250.59 204.85 L251.19 204.69 L251.79 204.54 L252.40 204.40 L253.00 204.26 L253.61 204.12 L254.22 203.98 L254.82 203.85 L255.43 203.72 L256.02 203.60 L256.62 203.49 L257.21 203.37 L257.78 203.27 L258.35 203.17 L258.92 203.07 L259.46 202.98 L260.00 202.90 L260.68 202.80 L261.34 202.72 L261.98 202.65 L262.60 202.59 L263.21 202.54 L263.81 202.49 L264.41 202.46 L265.00 202.43 L265.59 202.40 L266.18 202.37 L266.78 202.35 L267.38 202.33 L268.00 202.30 L268.62 202.28 L269.25 202.26 L269.88 202.24 L270.51 202.23 L271.14 202.23 L271.77 202.22 L272.40 202.22 L273.04 202.22 L273.67 202.21 L274.30 202.21 L274.94 202.21 L275.57 202.21 L276.20 202.20 L276.20 208.40 L275.57 208.41 L274.94 208.43 L274.30 208.44 L273.67 208.45 L273.04 208.45 L272.40 208.46 L271.77 208.47 L271.14 208.49 L270.51 208.50 L269.88 208.52 L269.25 208.54 L268.62 208.57 L268.00 208.60 L267.38 208.63 L266.78 208.67 L266.18 208.70 L265.59 208.74 L265.00 208.77 L264.41 208.82 L263.81 208.86 L263.21 208.91 L262.60 208.97 L261.98 209.04 L261.34 209.12 L260.68 209.20 L260.00 209.30 L259.43 209.39 L258.85 209.48 L258.25 209.58 L257.64 209.68 L257.02 209.79 L256.40 209.91 L255.76 210.03 L255.12 210.15 L254.48 210.28 L253.84 210.41 L253.19 210.55 L252.55 210.69 L251.90 210.84 L251.26 210.99 L250.63 211.14 L250.00 211.30 L249.41 211.45 L248.82 211.62 L248.22 211.79 L247.62 211.96 L247.02 212.14 L246.42 212.32 L245.82 212.51 L245.22 212.70 L244.63 212.90 L244.03 213.09 L243.44 213.28 L242.85 213.48 L242.27 213.67 L241.69 213.86 L241.12 214.04 L240.56 214.22 L240.00 214.40 L239.38 214.59 L238.79 214.78 L238.20 214.96 L237.63 215.14 L237.07 215.32 L236.51 215.49 L235.95 215.67 L235.40 215.84 L234.84 216.02 L234.27 216.20 L233.69 216.39 L233.09 216.58 L232.48 216.78 L231.85 216.98 L231.20 217.20 L230.66 217.38 L230.11 217.56 L229.54 217.75 L228.96 217.95 L228.37 218.15 L227.77 218.35 L227.16 218.56 L226.55 218.77 L225.93 218.98 L225.32 219.19 L224.70 219.40 L224.08 219.61 L223.47 219.82 L222.87 220.03 L222.27 220.23 L221.68 220.43 L221.11 220.63 L220.55 220.82 L220.00 221.00 L219.37 221.21 L218.77 221.41 L218.17 221.61 L217.60 221.80 L217.03 221.98 L216.47 222.17 L215.92 222.35 L215.38 222.53 L214.83 222.71 L214.28 222.88 L213.73 223.07 L213.17 223.25 L212.60 223.43 L212.01 223.63 L211.42 223.82 L210.80 224.02 L210.24 224.21 L209.66 224.41 L209.08 224.60 L208.48 224.81 L207.88 225.02 L207.27 225.23 L206.66 225.44 L206.04 225.65 L205.42 225.86 L204.81 226.08 L204.19 226.28 L203.57 226.49 L202.96 226.69 L202.35 226.89 L201.75 227.08 L201.16 227.26 L200.57 227.43 L200.00 227.60 L199.37 227.78 L198.75 227.94 L198.14 228.10 L197.53 228.26 L196.94 228.41 L196.35 228.55 L195.76 228.68 L195.18 228.82 L194.59 228.95 L194.01 229.07 L193.42 229.20 L192.83 229.32 L192.23 229.44 L191.63 229.56 L191.02 229.68 L190.40 229.80 L189.81 229.91 L189.21 230.03 L188.61 230.14 L188.00 230.26 L187.39 230.37 L186.77 230.48 L186.15 230.59 L185.54 230.69 L184.91 230.80 L184.29 230.90 L183.67 230.99 L183.05 231.09 L182.44 231.18 L181.82 231.27 L181.21 231.35 L180.60 231.43 L180.00 231.50 L179.36 231.57 L178.72 231.64 L178.08 231.70 L177.44 231.76 L176.81 231.81 L176.17 231.86 L175.53 231.91 L174.90 231.95 L174.27 231.99 L173.64 232.03 L173.02 232.06 L172.41 232.09 L171.80 232.12 L171.19 232.15 L170.59 232.17 L170.00 232.20 L169.34 232.23 L168.70 232.25 L168.08 232.28 L167.47 232.30 L166.87 232.32 L166.27 232.34 L165.67 232.35 L165.08 232.36 L164.47 232.36 L163.85 232.36 L163.22 232.36 L162.57 232.34 L161.90 232.33 L161.20 232.30 L160.63 232.28 L160.05 232.25 L159.45 232.21 L158.83 232.18 L158.21 232.14 L157.57 232.09 L156.93 232.05 L156.28 232.00 L155.62 231.94 L154.97 231.89 L154.32 231.83 L153.67 231.77 L153.03 231.71 L152.40 231.65 L151.78 231.59 L151.17 231.53 L150.58 231.46 L150.00 231.40 L149.33 231.32 L148.67 231.24 L148.03 231.16 L147.39 231.07 L146.77 230.98 L146.16 230.89 L145.55 230.80 L144.95 230.70 L144.36 230.61 L143.76 230.51 L143.17 230.41 L142.58 230.31 L141.99 230.21 L141.40 230.10 L140.80 230.00 L140.17 229.89 L139.55 229.79 L138.94 229.69 L138.34 229.59 L137.74 229.49 L137.15 229.39 L136.55 229.29 L135.95 229.18 L135.33 229.06 L134.71 228.94 L134.06 228.80 L133.40 228.65 L132.71 228.48 L132.00 228.30 L131.48 228.16 L130.95 228.02 L130.40 227.86 L129.84 227.70 L129.27 227.54 L128.69 227.37 L128.10 227.19 L127.50 227.01 L126.90 226.82 L126.30 226.63 L125.69 226.44 L125.09 226.24 L124.48 226.05 L123.88 225.85 L123.28 225.65 L122.69 225.45 L122.10 225.25 L121.52 225.06 L120.96 224.86 L120.40 224.67 L119.79 224.45 L119.19 224.23 L118.59 224.01 L118.00 223.79 L117.41 223.57 L116.83 223.34 L116.25 223.12 L115.67 222.89 L115.10 222.66 L114.53 222.43 L113.96 222.20 L113.39 221.97 L112.83 221.74 L112.26 221.51 L111.70 221.28 L111.13 221.06 L110.57 220.83 L110.00 220.60 L109.44 220.38 L108.88 220.16 L108.33 219.95 L107.78 219.74 L107.24 219.54 L106.70 219.34 L106.16 219.14 L105.62 218.93 L105.08 218.73 L104.53 218.52 L103.99 218.30 L103.44 218.08 L102.88 217.84 L102.32 217.60 L101.75 217.35 L101.18 217.08 L100.59 216.80 L100.00 216.50 L99.50 216.24 L98.99 215.97 L98.47 215.69 L97.94 215.40 L97.40 215.10 L96.86 214.78 L96.31 214.47 L95.76 214.14 L95.20 213.81 L94.64 213.48 L94.09 213.14 L93.53 212.81 L92.98 212.47 L92.44 212.13 L91.89 211.80 L91.36 211.46 L90.84 211.14 L90.32 210.81 L89.82 210.50 L89.33 210.19 L88.86 209.89 L88.40 209.60 L87.80 209.22 L87.23 208.84 L86.68 208.48 L86.16 208.13 L85.65 207.78 L85.16 207.44 L84.68 207.11 L84.21 206.77 L83.74 206.44 L83.27 206.11 L82.80 205.77 L82.31 205.43 L81.81 205.09 L81.30 204.73 L80.76 204.37 L80.20 204.00 L79.73 203.69 L79.26 203.38 L78.77 203.06 L78.28 202.73 L77.77 202.40 L77.26 202.06 L76.75 201.72 L76.23 201.38 L75.70 201.04 L75.18 200.69 L74.65 200.35 L74.12 200.01 L73.59 199.68 L73.06 199.35 L72.54 199.02 L72.02 198.70 L71.51 198.39 L71.00 198.08 L70.49 197.79 L70.00 197.50 L69.43 197.18 L68.86 196.87 L68.30 196.56 L67.75 196.27 L67.20 195.99 L66.66 195.71 L66.11 195.44 L65.57 195.18 L65.03 194.91 L64.49 194.65 L63.94 194.39 L63.40 194.13 L62.85 193.87 L62.30 193.61 L61.74 193.35 L61.17 193.08 L60.60 192.80 L60.05 192.53 L59.49 192.26 L58.93 191.98 L58.35 191.69 L57.77 191.41 L57.19 191.12 L56.61 190.83 L56.02 190.54 L55.44 190.26 L54.85 189.97 L54.27 189.70 L53.70 189.43 L53.13 189.16 L52.56 188.91 L52.01 188.66 L51.46 188.43 L50.92 188.21 L50.40 188.00 L49.74 187.75 L49.10 187.53 L48.47 187.31 L47.86 187.12 L47.25 186.94 L46.65 186.77 L46.06 186.61 L45.48 186.45 L44.90 186.31 L44.32 186.16 L43.74 186.02 L43.16 185.89 L42.58 185.74 L42.00 185.60 L41.37 185.45 L40.75 185.30 L40.13 185.16 L39.51 185.03 L38.89 184.90 L38.28 184.77 L37.67 184.64 L37.06 184.52 L36.45 184.40 L35.84 184.28 L35.23 184.15 L34.61 184.03 L34.00 183.90Z" fill="#000"/>
<path d="M34.00 202.70 L34.61 202.79 L35.23 202.88 L35.84 202.96 L36.45 203.05 L37.06 203.13 L37.67 203.22 L38.28 203.31 L38.89 203.39 L39.51 203.49 L40.13 203.58 L40.75 203.68 L41.37 203.79 L42.00 203.90 L42.58 204.00 L43.16 204.10 L43.74 204.20 L44.32 204.29 L44.90 204.38 L45.48 204.48 L46.06 204.59 L46.65 204.70 L47.25 204.83 L47.86 204.96 L48.47 205.12 L49.10 205.29 L49.74 205.48 L50.40 205.70 L50.92 205.89 L51.45 206.09 L52.00 206.31 L52.55 206.54 L53.10 206.78 L53.67 207.04 L54.24 207.30 L54.81 207.57 L55.39 207.84 L55.97 208.12 L56.55 208.40 L57.13 208.69 L57.72 208.97 L58.30 209.24 L58.88 209.52 L59.46 209.79 L60.03 210.05 L60.60 210.30 L61.17 210.55 L61.73 210.79 L62.30 211.03 L62.87 211.27 L63.43 211.51 L64.00 211.74 L64.57 211.98 L65.13 212.22 L65.70 212.45 L66.27 212.68 L66.83 212.92 L67.40 213.16 L67.97 213.39 L68.53 213.63 L69.10 213.87 L69.67 214.11 L70.23 214.35 L70.80 214.60 L71.37 214.85 L71.94 215.10 L72.51 215.34 L73.09 215.59 L73.67 215.84 L74.24 216.10 L74.82 216.35 L75.40 216.60 L75.97 216.86 L76.55 217.11 L77.12 217.37 L77.69 217.63 L78.25 217.88 L78.81 218.15 L79.37 218.41 L79.92 218.67 L80.46 218.93 L81.00 219.20 L81.56 219.48 L82.11 219.77 L82.65 220.05 L83.18 220.34 L83.70 220.63 L84.22 220.92 L84.74 221.21 L85.26 221.50 L85.77 221.80 L86.28 222.09 L86.80 222.39 L87.32 222.69 L87.84 222.99 L88.37 223.29 L88.90 223.59 L89.45 223.89 L90.00 224.20 L90.53 224.49 L91.07 224.79 L91.61 225.10 L92.16 225.41 L92.71 225.72 L93.26 226.04 L93.82 226.35 L94.38 226.67 L94.94 226.99 L95.50 227.30 L96.06 227.61 L96.63 227.92 L97.19 228.22 L97.76 228.51 L98.32 228.80 L98.88 229.08 L99.44 229.34 L100.00 229.60 L100.59 229.86 L101.17 230.11 L101.76 230.35 L102.34 230.58 L102.93 230.80 L103.51 231.02 L104.10 231.23 L104.68 231.43 L105.27 231.63 L105.85 231.83 L106.44 232.03 L107.03 232.22 L107.62 232.41 L108.21 232.61 L108.81 232.80 L109.40 233.00 L110.00 233.20 L110.57 233.39 L111.14 233.58 L111.72 233.76 L112.30 233.94 L112.88 234.12 L113.47 234.30 L114.05 234.48 L114.64 234.65 L115.22 234.83 L115.81 235.00 L116.40 235.18 L116.98 235.36 L117.56 235.54 L118.13 235.72 L118.71 235.90 L119.28 236.09 L119.84 236.27 L120.40 236.46 L120.98 236.67 L121.56 236.88 L122.13 237.09 L122.69 237.31 L123.25 237.53 L123.80 237.75 L124.35 237.97 L124.90 238.19 L125.45 238.41 L126.00 238.64 L126.56 238.86 L127.11 239.07 L127.68 239.29 L128.24 239.50 L128.82 239.71 L129.41 239.92 L130.00 240.12 L130.57 240.31 L131.16 240.49 L131.75 240.68 L132.35 240.86 L132.96 241.05 L133.57 241.23 L134.19 241.41 L134.81 241.59 L135.42 241.76 L136.04 241.94 L136.66 242.11 L137.27 242.27 L137.88 242.44 L138.48 242.60 L139.08 242.76 L139.66 242.91 L140.24 243.06 L140.80 243.20 L141.46 243.37 L142.09 243.52 L142.71 243.68 L143.32 243.82 L143.91 243.96 L144.50 244.10 L145.08 244.23 L145.67 244.36 L146.25 244.48 L146.84 244.60 L147.44 244.72 L148.06 244.84 L148.69 244.96 L149.33 245.08 L150.00 245.20 L150.58 245.30 L151.17 245.40 L151.78 245.50 L152.40 245.60 L153.03 245.70 L153.67 245.80 L154.32 245.90 L154.97 245.99 L155.62 246.09 L156.28 246.18 L156.93 246.27 L157.57 246.36 L158.21 246.44 L158.83 246.52 L159.45 246.60 L160.05 246.67 L160.63 246.74 L161.20 246.80 L161.90 246.88 L162.57 246.95 L163.22 247.01 L163.85 247.07 L164.47 247.13 L165.08 247.18 L165.67 247.22 L166.27 247.27 L166.87 247.30 L167.47 247.33 L168.08 247.36 L168.70 247.38 L169.34 247.39 L170.00 247.40 L170.59 247.41 L171.19 247.42 L171.80 247.43 L172.41 247.43 L173.02 247.44 L173.64 247.44 L174.27 247.44 L174.90 247.43 L175.53 247.42 L176.17 247.39 L176.81 247.36 L177.44 247.32 L178.08 247.26 L178.72 247.19 L179.36 247.10 L180.00 247.00 L180.57 246.89 L181.14 246.77 L181.72 246.63 L182.30 246.48 L182.88 246.32 L183.47 246.15 L184.05 245.97 L184.64 245.79 L185.23 245.60 L185.81 245.40 L186.40 245.20 L186.98 245.00 L187.56 244.80 L188.13 244.61 L188.71 244.41 L189.28 244.22 L189.84 244.04 L190.40 243.86 L191.02 243.67 L191.63 243.47 L192.23 243.28 L192.83 243.08 L193.42 242.89 L194.01 242.70 L194.59 242.50 L195.18 242.31 L195.76 242.12 L196.35 241.92 L196.94 241.73 L197.53 241.54 L198.14 241.36 L198.75 241.17 L199.37 240.98 L200.00 240.80 L200.57 240.64 L201.16 240.48 L201.75 240.31 L202.35 240.15 L202.96 239.99 L203.57 239.83 L204.19 239.67 L204.81 239.52 L205.42 239.36 L206.04 239.20 L206.66 239.05 L207.27 238.89 L207.88 238.74 L208.48 238.59 L209.08 238.44 L209.66 238.29 L210.24 238.15 L210.80 238.00 L211.46 237.83 L212.09 237.67 L212.71 237.51 L213.32 237.36 L213.91 237.21 L214.50 237.06 L215.08 236.91 L215.67 236.76 L216.25 236.61 L216.84 236.46 L217.44 236.30 L218.06 236.14 L218.69 235.97 L219.33 235.79 L220.00 235.60 L220.55 235.44 L221.11 235.28 L221.68 235.11 L222.27 234.93 L222.87 234.75 L223.47 234.57 L224.08 234.38 L224.70 234.19 L225.32 234.00 L225.93 233.80 L226.55 233.61 L227.16 233.42 L227.77 233.23 L228.37 233.05 L228.96 232.87 L229.54 232.69 L230.11 232.52 L230.66 232.36 L231.20 232.20 L231.85 232.01 L232.48 231.83 L233.09 231.66 L233.69 231.50 L234.27 231.34 L234.84 231.19 L235.40 231.04 L235.95 230.89 L236.51 230.74 L237.07 230.59 L237.63 230.44 L238.20 230.29 L238.79 230.13 L239.38 229.97 L240.00 229.80 L240.56 229.64 L241.12 229.48 L241.69 229.31 L242.27 229.14 L242.85 228.96 L243.44 228.78 L244.03 228.61 L244.63 228.43 L245.22 228.25 L245.82 228.07 L246.42 227.90 L247.02 227.73 L247.62 227.57 L248.22 227.42 L248.82 227.27 L249.41 227.13 L250.00 227.00 L250.63 226.87 L251.26 226.75 L251.90 226.64 L252.55 226.53 L253.19 226.43 L253.84 226.33 L254.48 226.24 L255.12 226.15 L255.76 226.07 L256.40 225.99 L257.02 225.92 L257.64 225.85 L258.25 225.78 L258.85 225.72 L259.43 225.66 L260.00 225.60 L260.68 225.54 L261.34 225.48 L261.98 225.43 L262.60 225.39 L263.21 225.36 L263.81 225.33 L264.41 225.31 L265.00 225.29 L265.59 225.27 L266.18 225.25 L266.78 225.24 L267.38 225.22 L268.00 225.20 L268.62 225.18 L269.25 225.17 L269.88 225.16 L270.51 225.15 L271.14 225.14 L271.77 225.13 L272.40 225.13 L273.04 225.12 L273.67 225.12 L274.30 225.12 L274.94 225.11 L275.57 225.11 L276.20 225.10 L276.20 230.80 L275.57 230.82 L274.94 230.84 L274.30 230.86 L273.67 230.88 L273.04 230.90 L272.40 230.92 L271.77 230.93 L271.14 230.96 L270.51 230.98 L269.88 231.00 L269.25 231.03 L268.62 231.06 L268.00 231.10 L267.38 231.14 L266.78 231.18 L266.18 231.22 L265.59 231.26 L265.00 231.30 L264.41 231.35 L263.81 231.40 L263.21 231.45 L262.60 231.51 L261.98 231.58 L261.34 231.64 L260.68 231.72 L260.00 231.80 L259.43 231.87 L258.85 231.94 L258.25 232.01 L257.64 232.09 L257.02 232.17 L256.40 232.25 L255.76 232.34 L255.12 232.43 L254.48 232.52 L253.84 232.61 L253.19 232.72 L252.55 232.82 L251.90 232.93 L251.26 233.05 L250.63 233.17 L250.00 233.30 L249.41 233.43 L248.82 233.57 L248.22 233.71 L247.62 233.87 L247.02 234.03 L246.42 234.19 L245.82 234.36 L245.22 234.53 L244.63 234.71 L244.03 234.88 L243.44 235.05 L242.85 235.22 L242.27 235.39 L241.69 235.55 L241.12 235.71 L240.56 235.86 L240.00 236.00 L239.38 236.15 L238.79 236.29 L238.20 236.43 L237.63 236.56 L237.07 236.68 L236.51 236.80 L235.95 236.92 L235.40 237.04 L234.84 237.16 L234.27 237.29 L233.69 237.41 L233.09 237.55 L232.48 237.69 L231.85 237.84 L231.20 238.00 L230.66 238.13 L230.11 238.28 L229.54 238.42 L228.96 238.57 L228.37 238.73 L227.77 238.89 L227.16 239.05 L226.55 239.22 L225.93 239.38 L225.32 239.55 L224.70 239.72 L224.08 239.89 L223.47 240.06 L222.87 240.22 L222.27 240.38 L221.68 240.54 L221.11 240.70 L220.55 240.85 L220.00 241.00 L219.33 241.18 L218.69 241.36 L218.06 241.53 L217.44 241.70 L216.84 241.86 L216.25 242.03 L215.67 242.19 L215.08 242.35 L214.50 242.51 L213.91 242.67 L213.32 242.83 L212.71 243.00 L212.09 243.16 L211.46 243.33 L210.80 243.50 L210.24 243.64 L209.66 243.79 L209.08 243.94 L208.48 244.08 L207.88 244.23 L207.27 244.38 L206.66 244.52 L206.04 244.67 L205.42 244.82 L204.81 244.97 L204.19 245.12 L203.57 245.27 L202.96 245.43 L202.35 245.58 L201.75 245.73 L201.16 245.89 L200.57 246.04 L200.00 246.20 L199.37 246.38 L198.75 246.56 L198.14 246.74 L197.53 246.92 L196.94 247.10 L196.35 247.29 L195.76 247.47 L195.18 247.66 L194.59 247.85 L194.01 248.03 L193.42 248.22 L192.83 248.41 L192.23 248.60 L191.63 248.78 L191.02 248.97 L190.40 249.16 L189.84 249.33 L189.28 249.51 L188.71 249.69 L188.13 249.88 L187.56 250.07 L186.98 250.26 L186.40 250.45 L185.81 250.64 L185.23 250.83 L184.64 251.02 L184.05 251.20 L183.47 251.37 L182.88 251.54 L182.30 251.69 L181.72 251.84 L181.14 251.97 L180.57 252.09 L180.00 252.20 L179.36 252.30 L178.72 252.39 L178.08 252.47 L177.44 252.54 L176.81 252.59 L176.17 252.64 L175.53 252.67 L174.90 252.70 L174.27 252.71 L173.64 252.73 L173.02 252.73 L172.41 252.73 L171.80 252.73 L171.19 252.72 L170.59 252.71 L170.00 252.70 L169.34 252.68 L168.70 252.65 L168.08 252.61 L167.47 252.57 L166.87 252.51 L166.27 252.45 L165.67 252.38 L165.08 252.31 L164.47 252.23 L163.85 252.15 L163.22 252.06 L162.57 251.98 L161.90 251.89 L161.20 251.80 L160.63 251.73 L160.05 251.65 L159.45 251.57 L158.83 251.49 L158.21 251.41 L157.57 251.32 L156.93 251.23 L156.28 251.14 L155.62 251.05 L154.97 250.96 L154.32 250.86 L153.67 250.77 L153.03 250.67 L152.40 250.58 L151.78 250.48 L151.17 250.39 L150.58 250.29 L150.00 250.20 L149.33 250.09 L148.69 249.99 L148.06 249.88 L147.44 249.78 L146.84 249.68 L146.25 249.58 L145.67 249.48 L145.08 249.37 L144.50 249.26 L143.91 249.15 L143.32 249.03 L142.71 248.91 L142.09 248.78 L141.46 248.64 L140.80 248.50 L140.24 248.37 L139.66 248.24 L139.08 248.10 L138.48 247.96 L137.88 247.82 L137.27 247.67 L136.66 247.52 L136.04 247.36 L135.42 247.21 L134.81 247.05 L134.19 246.89 L133.57 246.72 L132.96 246.56 L132.35 246.39 L131.75 246.22 L131.16 246.06 L130.57 245.89 L130.00 245.72 L129.37 245.53 L128.75 245.33 L128.14 245.14 L127.53 244.93 L126.94 244.73 L126.35 244.53 L125.76 244.32 L125.18 244.11 L124.59 243.90 L124.01 243.69 L123.42 243.48 L122.83 243.28 L122.23 243.07 L121.63 242.87 L121.02 242.66 L120.40 242.46 L119.84 242.29 L119.28 242.12 L118.71 241.95 L118.13 241.78 L117.56 241.61 L116.98 241.44 L116.40 241.27 L115.81 241.11 L115.22 240.94 L114.64 240.77 L114.05 240.61 L113.47 240.44 L112.88 240.27 L112.30 240.10 L111.72 239.93 L111.14 239.75 L110.57 239.58 L110.00 239.40 L109.40 239.21 L108.81 239.03 L108.21 238.85 L107.62 238.68 L107.03 238.50 L106.44 238.33 L105.85 238.15 L105.27 237.97 L104.68 237.79 L104.10 237.60 L103.51 237.41 L102.93 237.20 L102.34 236.99 L101.76 236.76 L101.17 236.52 L100.59 236.27 L100.00 236.00 L99.47 235.74 L98.94 235.47 L98.41 235.19 L97.88 234.89 L97.34 234.58 L96.81 234.26 L96.27 233.94 L95.74 233.61 L95.20 233.27 L94.67 232.93 L94.14 232.59 L93.61 232.25 L93.08 231.91 L92.56 231.57 L92.04 231.24 L91.52 230.92 L91.01 230.60 L90.50 230.30 L90.00 230.00 L89.45 229.68 L88.90 229.36 L88.37 229.04 L87.84 228.73 L87.32 228.43 L86.80 228.12 L86.28 227.82 L85.77 227.52 L85.26 227.23 L84.74 226.94 L84.22 226.65 L83.70 226.37 L83.18 226.09 L82.65 225.81 L82.11 225.54 L81.56 225.27 L81.00 225.00 L80.46 224.75 L79.92 224.51 L79.37 224.28 L78.81 224.06 L78.25 223.83 L77.69 223.61 L77.12 223.40 L76.55 223.19 L75.97 222.97 L75.40 222.76 L74.82 222.55 L74.24 222.34 L73.67 222.13 L73.09 221.91 L72.51 221.69 L71.94 221.47 L71.37 221.24 L70.80 221.00 L70.23 220.76 L69.67 220.51 L69.10 220.26 L68.53 220.01 L67.97 219.75 L67.40 219.49 L66.83 219.23 L66.27 218.97 L65.70 218.71 L65.13 218.44 L64.57 218.18 L64.00 217.92 L63.43 217.66 L62.87 217.40 L62.30 217.14 L61.73 216.89 L61.17 216.64 L60.60 216.40 L60.03 216.16 L59.46 215.91 L58.88 215.66 L58.30 215.41 L57.72 215.15 L57.13 214.90 L56.55 214.65 L55.97 214.40 L55.39 214.16 L54.81 213.92 L54.24 213.68 L53.67 213.46 L53.10 213.24 L52.55 213.03 L52.00 212.83 L51.45 212.64 L50.92 212.46 L50.40 212.30 L49.74 212.11 L49.10 211.94 L48.47 211.80 L47.86 211.67 L47.25 211.55 L46.65 211.45 L46.06 211.36 L45.48 211.27 L44.90 211.19 L44.32 211.12 L43.74 211.04 L43.16 210.97 L42.58 210.89 L42.00 210.80 L41.37 210.71 L40.75 210.62 L40.13 210.54 L39.51 210.46 L38.89 210.38 L38.28 210.31 L37.67 210.23 L37.06 210.16 L36.45 210.09 L35.84 210.02 L35.23 209.95 L34.61 209.88 L34.00 209.80Z" fill="#000"/>
<path d="M34.00 225.60 L34.61 225.69 L35.23 225.78 L35.84 225.86 L36.45 225.95 L37.06 226.03 L37.67 226.12 L38.28 226.21 L38.89 226.29 L39.51 226.39 L40.13 226.48 L40.75 226.58 L41.37 226.69 L42.00 226.80 L42.58 226.90 L43.16 227.01 L43.74 227.10 L44.32 227.20 L44.90 227.30 L45.48 227.41 L46.06 227.52 L46.65 227.64 L47.25 227.76 L47.86 227.90 L48.47 228.05 L49.10 228.22 L49.74 228.40 L50.40 228.60 L50.92 228.77 L51.45 228.95 L52.00 229.14 L52.55 229.35 L53.10 229.56 L53.67 229.78 L54.24 230.00 L54.81 230.24 L55.39 230.47 L55.97 230.72 L56.55 230.96 L57.13 231.21 L57.72 231.46 L58.30 231.71 L58.88 231.96 L59.46 232.21 L60.03 232.46 L60.60 232.70 L61.17 232.94 L61.73 233.19 L62.30 233.45 L62.87 233.71 L63.43 233.97 L64.00 234.23 L64.57 234.50 L65.13 234.77 L65.70 235.03 L66.27 235.30 L66.83 235.56 L67.40 235.82 L67.97 236.08 L68.53 236.34 L69.10 236.59 L69.67 236.83 L70.23 237.07 L70.80 237.30 L71.37 237.52 L71.94 237.74 L72.51 237.96 L73.09 238.17 L73.67 238.38 L74.24 238.58 L74.82 238.78 L75.40 238.97 L75.97 239.17 L76.55 239.36 L77.12 239.55 L77.69 239.74 L78.25 239.94 L78.81 240.13 L79.37 240.32 L79.92 240.51 L80.46 240.70 L81.00 240.90 L81.60 241.12 L82.20 241.35 L82.79 241.58 L83.38 241.81 L83.97 242.04 L84.55 242.27 L85.13 242.50 L85.70 242.73 L86.27 242.95 L86.82 243.17 L87.38 243.39 L87.92 243.60 L88.45 243.81 L88.98 244.02 L89.49 244.21 L90.00 244.40 L90.65 244.64 L91.29 244.87 L91.90 245.09 L92.50 245.30 L93.08 245.51 L93.66 245.71 L94.22 245.90 L94.78 246.09 L95.33 246.27 L95.89 246.45 L96.44 246.62 L97.00 246.80 L97.60 246.98 L98.19 247.16 L98.75 247.32 L99.32 247.47 L99.88 247.62 L100.44 247.78 L101.01 247.93 L101.60 248.08 L102.20 248.24 L102.84 248.42 L103.50 248.60 L104.05 248.75 L104.61 248.91 L105.19 249.07 L105.78 249.24 L106.39 249.41 L107.00 249.59 L107.62 249.76 L108.25 249.94 L108.88 250.12 L109.51 250.30 L110.14 250.47 L110.77 250.65 L111.39 250.83 L112.00 251.00 L96.00 252.00 L95.43 251.76 L94.85 251.52 L94.27 251.28 L93.69 251.04 L93.10 250.80 L92.52 250.55 L91.94 250.31 L91.36 250.07 L90.78 249.83 L90.21 249.60 L89.65 249.37 L89.09 249.14 L88.54 248.92 L88.00 248.70 L87.39 248.46 L86.81 248.23 L86.25 248.00 L85.71 247.79 L85.17 247.58 L84.64 247.37 L84.09 247.16 L83.53 246.94 L82.95 246.72 L82.34 246.50 L81.69 246.25 L81.00 246.00 L80.51 245.82 L80.01 245.64 L79.49 245.46 L78.95 245.27 L78.40 245.08 L77.84 244.89 L77.27 244.69 L76.69 244.49 L76.10 244.29 L75.51 244.08 L74.91 243.88 L74.32 243.67 L73.72 243.46 L73.13 243.25 L72.54 243.04 L71.95 242.83 L71.37 242.61 L70.80 242.40 L70.23 242.18 L69.67 241.96 L69.10 241.74 L68.53 241.51 L67.97 241.28 L67.40 241.05 L66.83 240.81 L66.27 240.58 L65.70 240.34 L65.13 240.11 L64.57 239.87 L64.00 239.64 L63.43 239.41 L62.87 239.18 L62.30 238.95 L61.73 238.73 L61.17 238.51 L60.60 238.30 L60.00 238.08 L59.39 237.85 L58.78 237.63 L58.16 237.40 L57.55 237.18 L56.93 236.96 L56.31 236.74 L55.69 236.53 L55.08 236.31 L54.47 236.10 L53.87 235.90 L53.27 235.70 L52.68 235.51 L52.09 235.32 L51.52 235.14 L50.95 234.97 L50.40 234.80 L49.74 234.61 L49.10 234.43 L48.47 234.26 L47.86 234.09 L47.25 233.94 L46.65 233.79 L46.06 233.65 L45.48 233.52 L44.90 233.39 L44.32 233.26 L43.74 233.14 L43.16 233.03 L42.58 232.91 L42.00 232.80 L41.37 232.69 L40.75 232.58 L40.13 232.48 L39.51 232.40 L38.89 232.31 L38.28 232.23 L37.67 232.16 L37.06 232.08 L36.45 232.01 L35.84 231.94 L35.23 231.86 L34.61 231.78 L34.00 231.70Z" fill="#000"/>
<path d="M238.00 250.00 L238.58 249.85 L239.17 249.70 L239.75 249.54 L240.33 249.39 L240.92 249.23 L241.50 249.07 L242.08 248.92 L242.67 248.77 L243.25 248.62 L243.83 248.48 L244.42 248.34 L245.00 248.20 L245.63 248.06 L246.26 247.92 L246.88 247.78 L247.50 247.64 L248.13 247.51 L248.75 247.39 L249.38 247.26 L250.02 247.14 L250.67 247.02 L251.33 246.91 L252.00 246.80 L252.58 246.71 L253.18 246.62 L253.78 246.53 L254.39 246.45 L255.00 246.37 L255.63 246.29 L256.25 246.21 L256.88 246.14 L257.51 246.07 L258.13 246.00 L258.76 245.93 L259.38 245.86 L260.00 245.80 L260.61 245.74 L261.23 245.68 L261.84 245.63 L262.45 245.57 L263.07 245.52 L263.68 245.47 L264.29 245.43 L264.91 245.38 L265.52 245.34 L266.14 245.30 L266.76 245.27 L267.38 245.23 L268.00 245.20 L268.62 245.17 L269.25 245.15 L269.88 245.13 L270.51 245.11 L271.14 245.09 L271.77 245.08 L272.40 245.07 L273.04 245.06 L273.67 245.05 L274.30 245.04 L274.94 245.03 L275.57 245.01 L276.20 245.00 L280.00 255.00 L236.00 255.00Z" fill="#000"/>
<path d="M34.00 245.00 L34.61 245.11 L35.22 245.22 L35.82 245.33 L36.41 245.44 L37.01 245.55 L37.61 245.65 L38.21 245.76 L38.81 245.87 L39.43 245.99 L40.05 246.11 L40.69 246.23 L41.34 246.36 L42.00 246.50 L42.55 246.62 L43.12 246.74 L43.70 246.87 L44.29 247.00 L44.89 247.13 L45.50 247.27 L46.11 247.41 L46.72 247.55 L47.33 247.69 L47.94 247.84 L48.55 247.98 L49.16 248.13 L49.76 248.27 L50.35 248.42 L50.93 248.56 L51.50 248.70 L52.14 248.86 L52.77 249.02 L53.39 249.19 L54.00 249.35 L54.61 249.51 L55.21 249.68 L55.81 249.84 L56.41 250.01 L57.01 250.17 L57.60 250.34 L58.20 250.51 L58.79 250.67 L59.40 250.84 L60.00 251.00 L60.00 256.00 L30.00 256.00 L30.00 245.00Z" fill="#000"/>
<path d="M276.20 126.70 L272.67 128.17 L270.79 129.63 L269.10 131.09 L267.50 132.54 L265.94 134.00 L264.40 135.44 L262.88 136.88 L261.37 138.31 L259.87 139.74 L258.37 141.16 L256.88 142.57 L255.40 143.98 L253.92 145.37 L252.44 146.76 L250.96 148.14 L249.49 149.50 L248.01 150.86 L246.54 152.20 L245.07 153.54 L243.60 154.86 L242.13 156.16 L240.66 157.46 L239.19 158.74 L237.73 160.01 L236.26 161.26 L234.79 162.50 L233.33 163.72 L231.86 164.93 L230.40 166.12 L228.94 167.29 L227.48 168.45 L226.01 169.59 L224.55 170.71 L223.09 171.81 L221.63 172.89 L220.17 173.95 L218.71 175.00 L217.25 176.02 L215.79 177.02 L214.34 178.00 L212.88 178.96 L211.42 179.90 L209.97 180.82 L208.51 181.71 L207.05 182.59 L205.60 183.43 L204.15 184.26 L202.69 185.06 L201.24 185.84 L199.79 186.59 L198.34 187.32 L196.89 188.02 L195.44 188.70 L193.99 189.36 L192.54 189.98 L191.09 190.59 L189.64 191.16 L188.20 191.71 L186.75 192.24 L185.31 192.73 L183.86 193.20 L182.42 193.65 L180.98 194.06 L179.54 194.45 L178.10 194.81 L176.66 195.15 L175.22 195.45 L173.78 195.73 L172.34 195.98 L170.91 196.21 L169.47 196.40 L168.04 196.57 L166.61 196.71 L165.18 196.82 L163.75 196.90 L162.32 196.96 L160.89 196.98 L159.47 196.98 L158.13 196.95 L156.91 196.90 L155.68 196.82 L154.45 196.72 L153.23 196.60 L152.00 196.45 L150.78 196.28 L149.55 196.09 L148.32 195.87 L147.10 195.62 L145.87 195.36 L144.64 195.06 L143.41 194.75 L142.18 194.40 L140.95 194.04 L139.72 193.64 L138.49 193.22 L137.26 192.78 L136.03 192.31 L134.79 191.81 L133.56 191.28 L132.33 190.73 L131.10 190.15 L129.88 189.55 L128.65 188.91 L127.43 188.25 L126.20 187.57 L124.98 186.85 L123.77 186.11 L122.55 185.35 L121.35 184.55 L120.14 183.73 L118.94 182.89 L117.75 182.02 L116.57 181.12 L115.39 180.20 L114.21 179.25 L113.05 178.28 L111.89 177.29 L110.75 176.28 L109.61 175.24 L108.48 174.18 L107.37 173.11 L106.26 172.01 L105.17 170.89 L104.09 169.76 L103.02 168.60 L101.97 167.44 L100.93 166.25 L99.90 165.05 L98.89 163.84 L97.90 162.61 L96.93 161.37 L95.97 160.12 L95.03 158.86 L94.11 157.58 L93.21 156.30 L92.34 155.01 L91.49 153.71 L90.66 152.41 L89.86 151.09 L89.08 149.77 L88.34 148.45 L87.63 147.11 L86.95 145.78 L86.30 144.44 L85.70 143.09 L85.14 141.74 L84.62 140.39 L84.14 139.04 L83.71 137.69 L83.34 136.33 L83.02 134.97 L82.75 133.61 L82.54 132.25 L82.38 130.89 L82.29 129.53 L82.26 128.17 L82.29 126.81 L82.37 125.47 L82.53 124.14 L82.74 122.80 L83.01 121.47 L83.34 120.15 L83.73 118.83 L84.17 117.51 L84.66 116.19 L85.20 114.88 L85.78 113.58 L86.41 112.29 L87.07 111.00 L87.78 109.71 L88.51 108.44 L89.28 107.17 L90.08 105.92 L90.90 104.67 L91.75 103.43 L92.63 102.20 L93.52 100.99 L94.44 99.78 L95.37 98.59 L96.32 97.41 L97.29 96.24 L98.27 95.08 L99.27 93.94 L100.28 92.81 L101.29 91.70 L102.33 90.60 L103.37 89.52 L104.42 88.45 L105.48 87.40 L106.54 86.36 L107.62 85.35 L108.70 84.35 L109.79 83.36 L110.88 82.40 L111.98 81.45 L113.08 80.53 L114.19 79.62 L115.31 78.73 L116.43 77.86 L117.55 77.01 L118.68 76.19 L119.81 75.38 L120.94 74.59 L122.08 73.83 L123.22 73.09 L124.36 72.37 L125.50 71.67 L126.65 71.00 L127.80 70.34 L128.95 69.71 L130.10 69.11 L131.26 68.53 L132.41 67.97 L133.57 67.43 L134.73 66.92 L135.88 66.44 L137.04 65.97 L138.21 65.54 L139.37 65.12 L140.53 64.74 L141.69 64.38 L142.86 64.04 L144.02 63.73 L145.18 63.44 L146.35 63.18 L147.51 62.95 L148.68 62.74 L149.84 62.55 L151.01 62.40 L152.17 62.26 L153.33 62.16 L154.50 62.08 L155.66 62.02 L156.82 61.99 L157.98 61.99 L159.20 62.02 L160.52 62.07 L161.84 62.14 L163.16 62.24 L164.47 62.37 L165.79 62.52 L167.10 62.70 L168.41 62.90 L169.72 63.13 L171.03 63.38 L172.33 63.66 L173.63 63.97 L174.93 64.30 L176.23 64.65 L177.52 65.03 L178.81 65.43 L180.10 65.86 L181.38 66.31 L182.66 66.78 L183.94 67.28 L185.21 67.80 L186.48 68.35 L187.74 68.91 L189.00 69.50 L190.26 70.12 L191.51 70.75 L192.76 71.41 L194.00 72.08 L195.23 72.78 L196.46 73.50 L197.68 74.25 L198.90 75.01 L200.11 75.79 L201.31 76.59 L202.51 77.41 L203.69 78.25 L204.87 79.11 L206.04 79.98 L207.20 80.88 L208.35 81.79 L209.49 82.72 L210.62 83.67 L211.74 84.63 L212.85 85.61 L213.94 86.60 L215.02 87.61 L216.09 88.63 L217.14 89.67 L218.17 90.73 L219.19 91.79 L220.19 92.87 L221.18 93.96 L222.14 95.07 L223.08 96.18 L224.00 97.31 L224.90 98.45 L225.77 99.60 L226.62 100.75 L227.44 101.92 L228.23 103.10 L228.99 104.28 L229.72 105.47 L230.42 106.68 L231.08 107.88 L231.70 109.10 L232.29 110.32 L232.84 111.54 L233.35 112.77 L233.81 114.01 L234.23 115.25 L234.61 116.49 L234.93 117.74 L235.21 118.98 L235.44 120.23 L235.62 121.49 L235.75 122.74 L235.83 123.99 L235.86 125.25 L235.84 126.50 L235.76 127.77 L235.64 129.04 L235.46 130.30 L235.23 131.57 L234.96 132.83 L234.64 134.09 L234.27 135.34 L233.85 136.59 L233.40 137.84 L232.90 139.08 L232.36 140.31 L231.78 141.53 L231.16 142.75 L230.51 143.97 L229.82 145.17 L229.10 146.37 L228.35 147.55 L227.57 148.73 L226.76 149.90 L225.93 151.05 L225.07 152.20 L224.19 153.34 L223.29 154.46 L222.36 155.57 L221.42 156.67 L220.45 157.76 L219.47 158.83 L218.47 159.89 L217.46 160.94 L216.43 161.97 L215.39 162.98 L214.34 163.98 L213.27 164.97 L212.19 165.93 L211.10 166.89 L210.00 167.82 L208.89 168.74 L207.77 169.64 L206.65 170.52 L205.51 171.38 L204.37 172.23 L203.22 173.06 L202.06 173.86 L200.90 174.65 L199.73 175.42 L198.55 176.17 L197.37 176.89 L196.19 177.60 L195.00 178.28 L193.81 178.95 L192.61 179.59 L191.41 180.21 L190.20 180.81 L189.00 181.39 L187.79 181.94 L186.57 182.47 L185.36 182.98 L184.14 183.47 L182.92 183.93 L181.70 184.37 L180.47 184.79 L179.25 185.18 L178.02 185.55 L176.79 185.90 L175.56 186.22 L174.33 186.52 L173.10 186.79 L171.87 187.04 L170.64 187.26 L169.41 187.46 L168.17 187.64 L166.94 187.79 L165.71 187.91 L164.48 188.02 L163.25 188.09 L162.02 188.15 L160.79 188.17 L159.56 188.18 L158.37 188.16 L157.28 188.11 L156.18 188.04 L155.09 187.95 L154.00 187.84 L152.91 187.70 L151.82 187.54 L150.73 187.36 L149.64 187.15 L148.56 186.92 L147.47 186.66 L146.39 186.39 L145.31 186.09 L144.23 185.77 L143.16 185.42 L142.08 185.05 L141.01 184.66 L139.94 184.25 L138.88 183.81 L137.81 183.35 L136.76 182.87 L135.70 182.36 L134.65 181.84 L133.60 181.29 L132.56 180.72 L131.52 180.12 L130.48 179.51 L129.46 178.87 L128.43 178.21 L127.42 177.54 L126.41 176.84 L125.40 176.12 L124.41 175.38 L123.42 174.62 L122.44 173.84 L121.47 173.04 L120.50 172.23 L119.55 171.39 L118.61 170.54 L117.68 169.67 L116.76 168.78 L115.85 167.87 L114.95 166.95 L114.06 166.01 L113.19 165.06 L112.33 164.09 L111.49 163.11 L110.66 162.12 L109.85 161.11 L109.05 160.08 L108.28 159.05 L107.51 158.00 L106.77 156.94 L106.05 155.87 L105.35 154.79 L104.66 153.70 L104.00 152.60 L103.37 151.50 L102.75 150.38 L102.16 149.25 L101.60 148.12 L101.06 146.98 L100.54 145.84 L100.06 144.69 L99.60 143.53 L99.17 142.37 L98.78 141.20 L98.41 140.03 L98.07 138.85 L97.77 137.67 L97.50 136.49 L97.26 135.31 L97.06 134.12 L96.89 132.93 L96.76 131.74 L96.66 130.55 L96.60 129.36 L96.57 128.17 L96.58 126.98 L96.63 125.81 L96.71 124.63 L96.83 123.46 L96.98 122.30 L97.17 121.13 L97.39 119.97 L97.65 118.81 L97.94 117.65 L98.27 116.50 L98.62 115.36 L99.01 114.22 L99.43 113.09 L99.87 111.96 L100.35 110.84 L100.85 109.73 L101.38 108.62 L101.94 107.52 L102.52 106.43 L103.12 105.35 L103.74 104.28 L104.39 103.22 L105.06 102.17 L105.75 101.13 L106.46 100.11 L107.18 99.09 L107.93 98.08 L108.69 97.09 L109.46 96.11 L110.25 95.14 L111.06 94.19 L111.88 93.25 L112.71 92.32 L113.55 91.41 L114.41 90.52 L115.28 89.64 L116.15 88.77 L117.04 87.92 L117.94 87.09 L118.85 86.27 L119.76 85.47 L120.69 84.69 L121.62 83.92 L122.56 83.18 L123.51 82.45 L124.46 81.73 L125.42 81.04 L126.38 80.37 L127.35 79.71 L128.33 79.08 L129.31 78.46 L130.30 77.86 L131.29 77.29 L132.28 76.73 L133.28 76.20 L134.29 75.68 L135.29 75.19 L136.30 74.72 L137.31 74.26 L138.33 73.83 L139.35 73.42 L140.37 73.04 L141.39 72.67 L142.41 72.33 L143.44 72.01 L144.47 71.71 L145.49 71.43 L146.52 71.18 L147.56 70.94 L148.59 70.73 L149.62 70.55 L150.66 70.38 L151.69 70.24 L152.72 70.12 L153.76 70.02 L154.79 69.95 L155.83 69.90 L156.86 69.87 L157.90 69.86 L158.95 69.88 L160.09 69.92 L161.23 69.98 L162.37 70.07 L163.51 70.18 L164.64 70.31 L165.77 70.46 L166.90 70.64 L168.03 70.83 L169.16 71.05 L170.28 71.29 L171.40 71.56 L172.52 71.84 L173.63 72.15 L174.74 72.48 L175.85 72.83 L176.95 73.20 L178.05 73.59 L179.14 74.01 L180.23 74.44 L181.31 74.90 L182.39 75.37 L183.47 75.87 L184.53 76.38 L185.60 76.92 L186.65 77.47 L187.70 78.04 L188.74 78.64 L189.78 79.25 L190.81 79.88 L191.83 80.52 L192.84 81.19 L193.84 81.87 L194.84 82.57 L195.82 83.29 L196.80 84.03 L197.76 84.78 L198.72 85.55 L199.66 86.33 L200.60 87.13 L201.52 87.94 L202.42 88.77 L203.32 89.61 L204.20 90.47 L205.07 91.34 L205.92 92.23 L206.76 93.12 L207.58 94.03 L208.38 94.96 L209.17 95.89 L209.94 96.84 L210.69 97.79 L211.42 98.76 L212.13 99.74 L212.82 100.73 L213.49 101.73 L214.14 102.73 L214.76 103.75 L215.36 104.77 L215.93 105.81 L216.48 106.84 L217.01 107.89 L217.50 108.94 L217.97 110.00 L218.41 111.07 L218.83 112.14 L219.21 113.22 L219.56 114.30 L219.88 115.38 L220.17 116.47 L220.43 117.56 L220.65 118.65 L220.85 119.75 L221.01 120.85 L221.13 121.95 L221.22 123.05 L221.28 124.15 L221.30 125.25 L221.29 126.35 L221.25 127.46 L221.17 128.57 L221.06 129.68 L220.92 130.79 L220.74 131.89 L220.53 132.99 L220.28 134.09 L220.01 135.18 L219.70 136.27 L219.37 137.36 L219.00 138.44 L218.60 139.51 L218.18 140.58 L217.72 141.65 L217.24 142.70 L216.74 143.75 L216.21 144.79 L215.65 145.82 L215.07 146.84 L214.46 147.86 L213.84 148.86 L213.19 149.86 L212.52 150.84 L211.83 151.82 L211.12 152.78 L210.39 153.74 L209.65 154.68 L208.88 155.61 L208.10 156.52 L207.31 157.43 L206.50 158.32 L205.67 159.20 L204.83 160.06 L203.98 160.91 L203.11 161.75 L202.24 162.57 L201.35 163.37 L200.45 164.16 L199.54 164.94 L198.62 165.70 L197.68 166.44 L196.74 167.16 L195.80 167.87 L194.84 168.57 L193.87 169.24 L192.90 169.90 L191.92 170.54 L190.93 171.16 L189.94 171.76 L188.94 172.35 L187.94 172.91 L186.93 173.46 L185.91 173.99 L184.89 174.49 L183.87 174.98 L182.84 175.45 L181.80 175.90 L180.77 176.33 L179.73 176.74 L178.68 177.13 L177.64 177.50 L176.59 177.84 L175.54 178.17 L174.48 178.48 L173.43 178.76 L172.37 179.02 L171.31 179.27 L170.25 179.49 L169.19 179.69 L168.13 179.87 L167.06 180.02 L166.00 180.16 L164.93 180.27 L163.87 180.37 L162.80 180.44 L161.74 180.49 L160.68 180.51 L159.61 180.52 L158.56 180.51 L157.59 180.47 L156.62 180.41 L155.65 180.33 L154.68 180.23 L153.71 180.11 L152.74 179.97 L151.78 179.81 L150.82 179.63 L149.86 179.42 L148.90 179.20 L147.94 178.95 L146.99 178.69 L146.04 178.40 L145.09 178.09 L144.15 177.77 L143.21 177.42 L142.27 177.05 L141.34 176.66 L140.41 176.26 L139.49 175.83 L138.57 175.39 L137.65 174.92 L136.74 174.44 L135.84 173.93 L134.94 173.41 L134.05 172.87 L133.16 172.32 L132.29 171.74 L131.41 171.15 L130.55 170.53 L129.69 169.91 L128.84 169.26 L128.00 168.60 L127.17 167.92 L126.35 167.22 L125.53 166.51 L124.73 165.79 L123.94 165.04 L123.16 164.29 L122.38 163.52 L121.62 162.73 L120.88 161.93 L120.14 161.12 L119.42 160.29 L118.71 159.45 L118.02 158.60 L117.34 157.74 L116.67 156.86 L116.02 155.98 L115.39 155.08 L114.77 154.17 L114.17 153.25 L113.59 152.32 L113.02 151.39 L112.48 150.44 L111.95 149.48 L111.44 148.52 L110.95 147.55 L110.49 146.57 L110.04 145.58 L109.62 144.59 L109.22 143.59 L108.84 142.59 L108.48 141.58 L108.15 140.57 L107.84 139.55 L107.56 138.52 L107.30 137.50 L107.06 136.47 L106.86 135.43 L106.67 134.40 L106.52 133.36 L106.38 132.32 L106.28 131.28 L106.20 130.24 L106.15 129.20 L106.13 128.16 L106.13 127.11 L106.16 126.08 L106.22 125.05 L106.30 124.02 L106.41 123.00 L106.54 121.97 L106.70 120.95 L106.89 119.93 L107.11 118.92 L107.34 117.91 L107.61 116.90 L107.90 115.90 L108.21 114.90 L108.54 113.91 L108.90 112.93 L109.28 111.95 L109.69 110.98 L110.11 110.01 L110.56 109.06 L111.02 108.11 L111.51 107.17 L112.01 106.23 L112.54 105.31 L113.08 104.40 L113.64 103.49 L114.22 102.60 L114.81 101.71 L115.42 100.84 L116.04 99.98 L116.68 99.13 L117.34 98.29 L118.00 97.46 L118.68 96.64 L119.38 95.84 L120.08 95.05 L120.80 94.28 L121.53 93.51 L122.27 92.77 L123.02 92.03 L123.78 91.31 L124.55 90.61 L125.33 89.92 L126.12 89.24 L126.92 88.58 L127.72 87.94 L128.54 87.31 L129.36 86.70 L130.19 86.11 L131.02 85.53 L131.86 84.97 L132.71 84.43 L133.56 83.90 L134.42 83.39 L135.28 82.90 L136.15 82.43 L137.02 81.97 L137.90 81.54 L138.78 81.12 L139.67 80.72 L140.55 80.34 L141.45 79.98 L142.34 79.63 L143.24 79.31 L144.14 79.00 L145.05 78.72 L145.95 78.45 L146.86 78.21 L147.77 77.98 L148.68 77.77 L149.59 77.59 L150.51 77.42 L151.42 77.27 L152.34 77.14 L153.26 77.03 L154.17 76.95 L155.09 76.88 L156.01 76.83 L156.92 76.80 L157.84 76.79 L158.76 76.81 L159.75 76.84 L160.74 76.89 L161.72 76.96 L162.71 77.05 L163.69 77.16 L164.67 77.30 L165.65 77.45 L166.63 77.62 L167.60 77.81 L168.57 78.02 L169.54 78.24 L170.51 78.49 L171.47 78.76 L172.43 79.04 L173.38 79.35 L174.33 79.67 L175.27 80.01 L176.21 80.37 L177.15 80.75 L178.08 81.15 L179.01 81.56 L179.93 81.99 L180.84 82.44 L181.75 82.91 L182.65 83.40 L183.54 83.90 L184.43 84.41 L185.30 84.95 L186.18 85.50 L187.04 86.06 L187.89 86.65 L188.74 87.24 L189.58 87.86 L190.40 88.49 L191.22 89.13 L192.03 89.79 L192.82 90.46 L193.61 91.14 L194.39 91.84 L195.15 92.55 L195.90 93.28 L196.64 94.02 L197.36 94.77 L198.07 95.53 L198.77 96.31 L199.45 97.09 L200.12 97.89 L200.77 98.70 L201.41 99.52 L202.03 100.35 L202.63 101.19 L203.22 102.03 L203.79 102.89 L204.34 103.76 L204.87 104.63 L205.39 105.52 L205.88 106.41 L206.35 107.30 L206.81 108.21 L207.24 109.12 L207.65 110.04 L208.04 110.96 L208.40 111.89 L208.75 112.83 L209.07 113.77 L209.37 114.71 L209.64 115.66 L209.89 116.61 L210.11 117.56 L210.31 118.52 L210.49 119.48 L210.64 120.44 L210.76 121.41 L210.86 122.37 L210.94 123.34 L210.98 124.31 L211.01 125.27 L211.00 126.24 L210.97 127.21 L210.92 128.18 L210.84 129.15 L210.73 130.12 L210.60 131.09 L210.45 132.06 L210.27 133.02 L210.06 133.98 L209.83 134.93 L209.58 135.88 L209.30 136.83 L209.00 137.77 L208.68 138.71 L208.33 139.64 L207.97 140.57 L207.58 141.48 L207.17 142.40 L206.74 143.30 L206.28 144.20 L205.81 145.09 L205.32 145.97 L204.82 146.84 L204.29 147.71 L203.74 148.56 L203.18 149.41 L202.60 150.25 L202.01 151.07 L201.40 151.89 L200.77 152.69 L200.13 153.49 L199.47 154.27 L198.80 155.04 L198.12 155.80 L197.43 156.54 L196.72 157.28 L196.00 158.00 L195.27 158.71 L194.53 159.40 L193.77 160.08 L193.01 160.75 L192.24 161.40 L191.45 162.04 L190.66 162.66 L189.86 163.27 L189.05 163.86 L188.23 164.44 L187.41 165.00 L186.58 165.55 L185.74 166.08 L184.89 166.60 L184.04 167.09 L183.18 167.58 L182.32 168.04 L181.45 168.49 L180.57 168.92 L179.69 169.33 L178.81 169.73 L177.92 170.11 L177.03 170.47 L176.13 170.81 L175.23 171.14 L174.33 171.44 L173.43 171.73 L172.52 172.00 L171.61 172.26 L170.69 172.49 L169.78 172.71 L168.86 172.90 L167.94 173.08 L167.02 173.24 L166.10 173.38 L165.18 173.50 L164.26 173.61 L163.33 173.69 L162.41 173.76 L161.48 173.80 L160.56 173.83 L159.64 173.84 L158.72 173.83 L157.85 173.80 L156.99 173.75 L156.13 173.69 L155.28 173.60 L154.42 173.50 L153.56 173.38 L152.71 173.23 L151.86 173.08 L151.01 172.90 L150.16 172.70 L149.32 172.49 L148.48 172.26 L147.64 172.01 L146.81 171.74 L145.98 171.45 L145.15 171.15 L144.33 170.83 L143.51 170.49 L142.69 170.14 L141.88 169.76 L141.08 169.37 L140.28 168.97 L139.48 168.55 L138.70 168.11 L137.91 167.65 L137.14 167.18 L136.37 166.69 L135.61 166.19 L134.85 165.67 L134.10 165.14 L133.36 164.59 L132.63 164.02 L131.91 163.45 L131.19 162.85 L130.48 162.25 L129.79 161.63 L129.10 160.99 L128.42 160.35 L127.75 159.69 L127.10 159.02 L126.45 158.33 L125.82 157.63 L125.19 156.92 L124.58 156.20 L123.99 155.47 L123.40 154.73 L122.83 153.98 L122.27 153.21 L121.73 152.44 L121.20 151.66 L120.68 150.87 L120.18 150.06 L119.70 149.25 L119.23 148.44 L118.77 147.61 L118.34 146.78 L117.92 145.93 L117.52 145.09 L117.13 144.23 L116.76 143.37 L116.42 142.50 L116.09 141.63 L115.78 140.75 L115.49 139.87 L115.21 138.98 L114.96 138.09 L114.73 137.20 L114.52 136.30 L114.33 135.40 L114.15 134.49 L114.00 133.59 L113.88 132.68 L113.77 131.77 L113.68 130.86 L113.62 129.95 L113.57 129.03 L113.55 128.12 L113.55 127.21 L113.57 126.30 L113.61 125.40 L113.67 124.49 L113.76 123.59 L113.86 122.69 L113.99 121.80 L114.13 120.90 L114.30 120.01 L114.49 119.12 L114.70 118.24 L114.92 117.36 L115.17 116.48 L115.44 115.61 L115.73 114.75 L116.03 113.89 L116.36 113.03 L116.70 112.19 L117.06 111.34 L117.43 110.51 L117.83 109.68 L118.24 108.86 L118.67 108.05 L119.11 107.25 L119.57 106.45 L120.04 105.66 L120.53 104.89 L121.03 104.12 L121.55 103.36 L122.08 102.61 L122.63 101.87 L123.18 101.14 L123.75 100.43 L124.34 99.72 L124.93 99.03 L125.53 98.34 L126.15 97.67 L126.78 97.01 L127.41 96.37 L128.06 95.73 L128.71 95.11 L129.38 94.51 L130.05 93.91 L130.74 93.33 L131.43 92.76 L132.13 92.21 L132.83 91.67 L133.55 91.15 L134.27 90.64 L134.99 90.14 L135.73 89.66 L136.47 89.20 L137.21 88.75 L137.96 88.32 L138.72 87.90 L139.48 87.50 L140.25 87.11 L141.02 86.74 L141.79 86.39 L142.57 86.05 L143.35 85.73 L144.14 85.43 L144.93 85.14 L145.72 84.87 L146.51 84.62 L147.31 84.38 L148.11 84.16 L148.91 83.96 L149.72 83.78 L150.52 83.61 L151.33 83.46 L152.14 83.33 L152.95 83.21 L153.76 83.11 L154.57 83.03 L155.38 82.97 L156.19 82.93 L157.00 82.90 L157.81 82.89 L158.62 82.90 L159.48 82.92 L160.33 82.97 L161.19 83.03 L162.05 83.10 L162.90 83.20 L163.75 83.31 L164.60 83.44 L165.45 83.59 L166.30 83.75 L167.14 83.93 L167.98 84.13 L168.82 84.34 L169.65 84.58 L170.48 84.82 L171.31 85.09 L172.13 85.37 L172.95 85.67 L173.76 85.98 L174.57 86.31 L175.37 86.66 L176.17 87.02 L176.96 87.39 L177.75 87.79 L178.53 88.19 L179.30 88.62 L180.07 89.05 L180.83 89.51 L181.58 89.97 L182.32 90.45 L183.06 90.95 L183.79 91.46 L184.51 91.98 L185.22 92.52 L185.93 93.06 L186.62 93.63 L187.31 94.20 L187.98 94.79 L188.64 95.39 L189.30 96.00 L189.94 96.62 L190.57 97.26 L191.19 97.91 L191.80 98.56 L192.40 99.23 L192.98 99.91 L193.55 100.60 L194.11 101.30 L194.65 102.01 L195.18 102.72 L195.69 103.45 L196.20 104.18 L196.68 104.93 L197.15 105.68 L197.61 106.44 L198.04 107.21 L198.47 107.98 L198.87 108.76 L199.26 109.55 L199.63 110.34 L199.98 111.14 L200.32 111.95 L200.64 112.76 L200.94 113.57 L201.22 114.39 L201.48 115.21 L201.72 116.04 L201.94 116.87 L202.15 117.71 L202.33 118.55 L202.49 119.39 L202.64 120.23 L202.76 121.07 L202.86 121.92 L202.95 122.77 L203.01 123.61 L203.05 124.46 L203.07 125.31 L203.07 126.16 L203.05 127.01 L203.01 127.86 L202.95 128.71 L202.87 129.56 L202.77 130.41 L202.65 131.26 L202.51 132.10 L202.35 132.94 L202.17 133.78 L201.97 134.61 L201.75 135.44 L201.51 136.27 L201.25 137.09 L200.98 137.91 L200.68 138.72 L200.37 139.52 L200.04 140.32 L199.70 141.12 L199.33 141.91 L198.95 142.69 L198.55 143.46 L198.14 144.23 L197.71 144.99 L197.27 145.74 L196.81 146.48 L196.34 147.21 L195.85 147.94 L195.35 148.65 L194.83 149.36 L194.30 150.06 L193.76 150.74 L193.20 151.42 L192.64 152.09 L192.06 152.74 L191.47 153.39 L190.87 154.02 L190.26 154.64 L189.63 155.25 L189.00 155.85 L188.36 156.44 L187.71 157.01 L187.05 157.57 L186.38 158.12 L185.70 158.66 L185.02 159.18 L184.32 159.69 L183.62 160.18 L182.91 160.66 L182.20 161.13 L181.47 161.58 L180.75 162.02 L180.01 162.45 L179.27 162.86 L178.53 163.25 L177.78 163.63 L177.02 164.00 L176.26 164.35 L175.50 164.68 L174.73 165.00 L173.95 165.30 L173.18 165.59 L172.40 165.86 L171.61 166.12 L170.83 166.36 L170.04 166.58 L169.25 166.79 L168.45 166.98 L167.66 167.15 L166.86 167.31 L166.06 167.45 L165.26 167.58 L164.46 167.69 L163.66 167.78 L162.86 167.86 L162.05 167.92 L161.25 167.96 L160.45 167.99 L159.64 168.00 L158.84 167.99 L158.07 167.97 L157.31 167.93 L156.55 167.88 L155.80 167.80 L155.04 167.72 L154.28 167.61 L153.53 167.49 L152.78 167.35 L152.03 167.20 L151.28 167.03 L150.54 166.85 L149.80 166.64 L149.06 166.43 L148.32 166.20 L147.59 165.95 L146.86 165.68 L146.14 165.40 L145.42 165.11 L144.71 164.80 L143.99 164.48 L143.29 164.14 L142.59 163.78 L141.89 163.41 L141.20 163.03 L140.52 162.63 L139.84 162.22 L139.17 161.80 L138.51 161.36 L137.85 160.91 L137.20 160.44 L136.55 159.96 L135.92 159.47 L135.29 158.97 L134.67 158.45 L134.06 157.92 L133.46 157.38 L132.86 156.83 L132.28 156.26 L131.70 155.69 L131.14 155.10 L130.58 154.50 L130.04 153.89 L129.50 153.27 L128.98 152.64 L128.47 152.00 L127.97 151.36 L127.48 150.70 L127.01 150.03 L126.54 149.35 L126.09 148.67 L125.66 147.98 L125.23 147.28 L124.82 146.57 L124.42 145.85 L124.04 145.13 L123.67 144.40 L123.32 143.67 L122.98 142.93 L122.65 142.18 L122.35 141.42 L122.05 140.67 L121.78 139.90 L121.51 139.13 L121.27 138.36 L121.04 137.59 L120.83 136.81 L120.63 136.02 L120.46 135.24 L120.29 134.45 L120.15 133.66 L120.02 132.86 L119.91 132.07 L119.82 131.27 L119.75 130.47 L119.69 129.67 L119.65 128.87 L119.63 128.07 L119.63 127.27 L119.64 126.47 L119.67 125.68 L119.72 124.89 L119.79 124.10 L119.87 123.31 L119.97 122.52 L120.09 121.73 L120.23 120.95 L120.38 120.17 L120.55 119.40 L120.74 118.62 L120.94 117.85 L121.16 117.09 L121.39 116.33 L121.65 115.57 L121.91 114.82 L122.20 114.08 L122.49 113.34 L122.81 112.61 L123.13 111.88 L123.48 111.16 L123.83 110.44 L124.20 109.74 L124.59 109.04 L124.98 108.35 L125.39 107.66 L125.82 106.99 L126.25 106.32 L126.70 105.66 L127.16 105.01 L127.63 104.37 L128.11 103.74 L128.61 103.12 L129.11 102.51 L129.63 101.91 L130.15 101.32 L130.69 100.74 L131.23 100.17 L131.79 99.61 L132.35 99.06 L132.92 98.53 L133.50 98.00 L134.09 97.49 L134.68 96.99 L135.29 96.50 L135.90 96.03 L136.52 95.57 L137.14 95.12 L137.77 94.68 L138.41 94.26 L139.05 93.85 L139.70 93.45 L140.35 93.07 L141.01 92.70 L141.68 92.35 L142.35 92.01 L143.02 91.68 L143.70 91.37 L144.38 91.07 L145.07 90.79 L145.76 90.52 L146.45 90.26 L147.14 90.02 L147.84 89.80 L148.54 89.59 L149.25 89.39 L149.95 89.21 L150.66 89.05 L151.37 88.90 L152.08 88.77 L152.79 88.65 L153.51 88.55 L154.22 88.46 L154.94 88.38 L155.65 88.33 L156.37 88.29 L157.08 88.26 L157.80 88.25 L158.52 88.25 L159.26 88.27 L160.00 88.31 L160.75 88.36 L161.50 88.42 L162.24 88.50 L162.98 88.60 L163.72 88.71 L164.46 88.84 L165.20 88.98 L165.93 89.14 L166.66 89.31 L167.39 89.49 L168.11 89.69 L168.84 89.91 L169.55 90.14 L170.27 90.38 L170.98 90.64 L171.68 90.92 L172.38 91.20 L173.08 91.50 L173.77 91.82 L174.45 92.15 L175.13 92.49 L175.81 92.85 L176.48 93.21 L177.14 93.60 L177.79 93.99 L178.44 94.40 L179.08 94.82 L179.72 95.25 L180.35 95.70 L180.97 96.15 L181.58 96.62 L182.18 97.10 L182.78 97.59 L183.36 98.10 L183.94 98.61 L184.51 99.13 L185.06 99.67 L185.61 100.22 L186.15 100.77 L186.68 101.34 L187.19 101.91 L187.70 102.50 L188.20 103.09 L188.68 103.69 L189.15 104.31 L189.61 104.93 L190.06 105.55 L190.49 106.19 L190.91 106.84 L191.32 107.49 L191.72 108.15 L192.10 108.81 L192.47 109.48 L192.83 110.16 L193.17 110.85 L193.49 111.54 L193.80 112.23 L194.10 112.93 L194.38 113.64 L194.65 114.35 L194.90 115.06 L195.13 115.78 L195.35 116.50 L195.55 117.23 L195.74 117.96 L195.91 118.69 L196.07 119.43 L196.20 120.16 L196.32 120.90 L196.43 121.64 L196.52 122.39 L196.59 123.13 L196.64 123.87 L196.68 124.62 L196.70 125.36 L196.70 126.11 L196.69 126.85 L196.66 127.60 L196.61 128.35 L196.55 129.09 L196.47 129.84 L196.37 130.58 L196.26 131.32 L196.13 132.05 L195.98 132.79 L195.82 133.52 L195.64 134.25 L195.45 134.97 L195.24 135.69 L195.01 136.41 L194.77 137.12 L194.51 137.83 L194.24 138.53 L193.96 139.23 L193.66 139.92 L193.34 140.60 L193.01 141.28 L192.67 141.95 L192.32 142.62 L191.95 143.28 L191.57 143.93 L191.17 144.57 L190.76 145.21 L190.34 145.84 L189.91 146.46 L189.47 147.07 L189.01 147.68 L188.55 148.27 L188.07 148.86 L187.58 149.43 L187.09 150.00 L186.58 150.55 L186.06 151.10 L185.53 151.64 L185.00 152.16 L184.45 152.68 L183.90 153.18 L183.33 153.68 L182.76 154.16 L182.19 154.63 L181.60 155.09 L181.01 155.54 L180.41 155.97 L179.80 156.40 L179.19 156.81 L178.57 157.21 L177.94 157.60 L177.31 157.97 L176.67 158.33 L176.03 158.68 L175.38 159.01 L174.73 159.33 L174.07 159.64 L173.41 159.94 L172.75 160.22 L172.08 160.49 L171.40 160.74 L170.73 160.98 L170.05 161.21 L169.37 161.42 L168.68 161.62 L167.99 161.80 L167.31 161.97 L166.61 162.13 L165.92 162.27 L165.23 162.40 L164.53 162.51 L163.83 162.61 L163.13 162.69 L162.43 162.76 L161.73 162.82 L161.03 162.86 L160.33 162.88 L159.63 162.89 L158.94 162.89 L158.25 162.87 L157.58 162.84 L156.91 162.80 L156.24 162.73 L155.58 162.66 L154.91 162.57 L154.25 162.47 L153.58 162.35 L152.92 162.22 L152.26 162.07 L151.61 161.91 L150.96 161.74 L150.31 161.55 L149.66 161.35 L149.01 161.13 L148.37 160.90 L147.74 160.66 L147.11 160.40 L146.48 160.13 L145.85 159.85 L145.23 159.56 L144.62 159.25 L144.01 158.93 L143.41 158.59 L142.81 158.25 L142.21 157.89 L141.63 157.52 L141.05 157.13 L140.47 156.74 L139.90 156.33 L139.34 155.92 L138.79 155.49 L138.24 155.05 L137.70 154.60 L137.17 154.13 L136.65 153.66 L136.13 153.18 L135.62 152.68 L135.13 152.18 L134.64 151.67 L134.16 151.15 L133.69 150.61 L133.22 150.07 L132.77 149.52 L132.33 148.96 L131.90 148.40 L131.48 147.82 L131.07 147.24 L130.67 146.65 L130.29 146.05 L129.91 145.44 L129.55 144.83 L129.19 144.21 L128.85 143.59 L128.53 142.95 L128.21 142.32 L127.91 141.67 L127.62 141.02 L127.34 140.37 L127.08 139.71 L126.83 139.05 L126.59 138.38 L126.37 137.71 L126.16 137.03 L125.96 136.35 L125.78 135.67 L125.61 134.98 L125.46 134.29 L125.32 133.60 L125.20 132.91 L125.09 132.21 L125.00 131.51 L124.92 130.82 L124.85 130.12 L124.80 129.42 L124.77 128.72 L124.75 128.01 L124.74 127.31 L124.75 126.61 L124.77 125.92 L124.81 125.22 L124.87 124.53 L124.94 123.83 L125.02 123.14 L125.12 122.45 L125.23 121.76 L125.36 121.08 L125.50 120.40 L125.65 119.72 L125.82 119.04 L126.00 118.37 L126.20 117.70 L126.41 117.04 L126.64 116.38 L126.87 115.73 L127.12 115.08 L127.39 114.43 L127.66 113.79 L127.95 113.16 L128.25 112.53 L128.56 111.91 L128.89 111.30 L129.23 110.69 L129.58 110.09 L129.93 109.49 L130.31 108.91 L130.69 108.33 L131.08 107.76 L131.48 107.19 L131.89 106.64 L132.32 106.09 L132.75 105.55 L133.19 105.02 L133.64 104.50 L134.10 103.99 L134.57 103.49 L135.05 103.00 L135.53 102.52 L136.03 102.05 L136.53 101.59 L137.04 101.14 L137.55 100.70 L138.07 100.27 L138.60 99.85 L139.14 99.44 L139.68 99.05 L140.23 98.66 L140.79 98.29 L141.35 97.93 L141.91 97.58 L142.48 97.24 L143.06 96.91 L143.64 96.60 L144.22 96.30 L144.81 96.01 L145.41 95.74 L146.00 95.47 L146.60 95.22 L147.21 94.98 L147.82 94.76 L148.43 94.55 L149.04 94.35 L149.66 94.16 L150.27 93.99 L150.90 93.83 L151.52 93.68 L152.14 93.55 L152.77 93.43 L153.40 93.32 L154.02 93.23 L154.65 93.15 L155.28 93.08 L155.91 93.03 L156.54 92.99 L157.18 92.97 L157.81 92.96 L158.44 92.96 L159.08 92.97 L159.73 93.00 L160.39 93.04 L161.04 93.10 L161.68 93.17 L162.33 93.25 L162.98 93.35 L163.62 93.45 L164.26 93.58 L164.90 93.71 L165.54 93.86 L166.17 94.02 L166.81 94.20 L167.43 94.38 L168.06 94.58 L168.68 94.79 L169.30 95.02 L169.91 95.26 L170.52 95.51 L171.13 95.77 L171.73 96.04 L172.32 96.33 L172.91 96.63 L173.50 96.94 L174.08 97.26 L174.65 97.59 L175.22 97.94 L175.78 98.29 L176.34 98.66 L176.89 99.04 L177.43 99.43 L177.96 99.83 L178.49 100.24 L179.01 100.66 L179.53 101.09 L180.03 101.53 L180.53 101.98 L181.02 102.44 L181.50 102.90 L181.97 103.38 L182.43 103.87 L182.88 104.36 L183.33 104.87 L183.76 105.38 L184.18 105.90 L184.60 106.43 L185.00 106.96 L185.39 107.51 L185.78 108.06 L186.15 108.61 L186.51 109.18 L186.86 109.75 L187.20 110.32 L187.52 110.91 L187.84 111.50 L188.14 112.09 L188.43 112.69 L188.71 113.30 L188.97 113.90 L189.22 114.52 L189.46 115.14 L189.69 115.76 L189.90 116.39 L190.10 117.02 L190.29 117.65 L190.46 118.29 L190.62 118.93 L190.77 119.57 L190.90 120.21 L191.02 120.86 L191.12 121.51 L191.21 122.16 L191.29 122.81 L191.35 123.46 L191.40 124.12 L191.43 124.77 L191.45 125.42 L191.46 126.08 L191.45 126.73 L191.42 127.38 L191.39 128.04 L191.34 128.69 L191.27 129.34 L191.19 129.99 L191.10 130.64 L190.99 131.29 L190.87 131.93 L190.74 132.58 L190.59 133.21 L190.43 133.85 L190.25 134.48 L190.07 135.11 L189.87 135.73 L189.65 136.35 L189.43 136.97 L189.19 137.58 L188.94 138.19 L188.67 138.79 L188.40 139.39 L188.11 139.98 L187.81 140.56 L187.50 141.14 L187.18 141.71 L186.84 142.28 L186.50 142.84 L186.14 143.39 L185.78 143.93 L185.40 144.47 L185.02 145.00 L184.62 145.52 L184.22 146.04 L183.80 146.55 L183.38 147.04 L182.95 147.53 L182.50 148.01 L182.05 148.49 L181.59 148.95 L181.13 149.40 L180.65 149.85 L180.17 150.28 L179.68 150.70 L179.19 151.12 L178.68 151.52 L178.17 151.92 L177.66 152.30 L177.13 152.67 L176.60 153.04 L176.07 153.39 L175.53 153.73 L174.98 154.06 L174.43 154.38 L173.88 154.68 L173.32 154.98 L172.75 155.26 L172.18 155.53 L171.61 155.80 L171.03 156.04 L170.45 156.28 L169.87 156.51 L169.28 156.72 L168.69 156.92 L168.10 157.11 L167.50 157.28 L166.90 157.45 L166.30 157.60 L165.70 157.74 L165.10 157.86 L164.49 157.97 L163.88 158.08 L163.28 158.16 L162.67 158.24 L162.06 158.30 L161.45 158.35 L160.83 158.39 L160.22 158.41 L159.61 158.43 L159.00 158.43 L158.40 158.41 L157.81 158.39 L157.22 158.35 L156.63 158.30 L156.04 158.23 L155.46 158.16 L154.87 158.07 L154.29 157.97 L153.70 157.85 L153.12 157.73 L152.55 157.59 L151.97 157.44 L151.40 157.27 L150.83 157.10 L150.26 156.91 L149.70 156.71 L149.14 156.50 L148.59 156.28 L148.03 156.04 L147.49 155.80 L146.94 155.54 L146.40 155.27 L145.87 154.99 L145.34 154.70 L144.81 154.40 L144.29 154.09 L143.78 153.77 L143.27 153.43 L142.77 153.09 L142.27 152.73 L141.78 152.37 L141.30 151.99 L140.82 151.61 L140.35 151.22 L139.89 150.81 L139.43 150.40 L138.98 149.98 L138.54 149.55 L138.10 149.11 L137.68 148.66 L137.26 148.20 L136.85 147.74 L136.45 147.26 L136.06 146.78 L135.68 146.29 L135.30 145.80 L134.94 145.30 L134.59 144.79 L134.24 144.27 L133.91 143.75 L133.58 143.22 L133.27 142.68 L132.96 142.14 L132.67 141.59 L132.38 141.04 L132.11 140.48 L131.85 139.91 L131.60 139.35 L131.36 138.77 L131.13 138.20 L130.92 137.62 L130.71 137.03 L130.52 136.44 L130.34 135.85 L130.17 135.25 L130.01 134.66 L129.87 134.05 L129.74 133.45 L129.62 132.84 L129.51 132.24 L129.42 131.63 L129.33 131.02 L129.26 130.41 L129.21 129.79 L129.16 129.18 L129.13 128.56 L129.11 127.95 L129.10 127.34 L129.11 126.72 L129.13 126.11 L129.16 125.50 L129.20 124.89 L129.26 124.28 L129.33 123.67 L129.41 123.07 L129.51 122.47 L129.61 121.86 L129.73 121.27 L129.86 120.67 L130.00 120.08 L130.16 119.49 L130.32 118.90 L130.50 118.32 L130.69 117.74 L130.89 117.16 L131.10 116.59 L131.33 116.02 L131.56 115.46 L131.81 114.91 L132.07 114.36 L132.33 113.81 L132.61 113.27 L132.90 112.73 L133.20 112.21 L133.50 111.68 L133.82 111.17 L134.15 110.66 L134.49 110.16 L134.83 109.66 L135.19 109.17 L135.55 108.69 L135.92 108.22 L136.30 107.75 L136.69 107.30 L137.09 106.85 L137.49 106.41 L137.91 105.97 L138.33 105.55 L138.75 105.13 L139.19 104.73 L139.63 104.33 L140.08 103.94 L140.53 103.57 L140.99 103.20 L141.46 102.84 L141.93 102.49 L142.41 102.15 L142.89 101.82 L143.38 101.50 L143.87 101.19 L144.37 100.90 L144.87 100.61 L145.38 100.33 L145.89 100.07 L146.41 99.81 L146.93 99.57 L147.45 99.33 L147.98 99.11 L148.51 98.90 L149.04 98.70 L149.58 98.51 L150.11 98.34 L150.66 98.17 L151.20 98.02 L151.74 97.88 L152.29 97.75 L152.84 97.63 L153.39 97.52 L153.94 97.43 L154.49 97.34 L155.05 97.27 L155.60 97.21 L156.16 97.16 L156.71 97.13 L157.27 97.10 L157.83 97.09 L158.38 97.09 L158.94 97.10 L159.51 97.12 L160.08 97.16 L160.65 97.21 L161.22 97.27 L161.78 97.34 L162.35 97.42 L162.91 97.51 L163.47 97.62 L164.03 97.73 L164.58 97.86 L165.14 98.00 L165.69 98.15 L166.24 98.31 L166.78 98.49 L167.32 98.67 L167.86 98.87 L168.40 99.08 L168.93 99.29 L169.46 99.52 L169.98 99.76 L170.50 100.01 L171.01 100.27 L171.52 100.54 L172.03 100.82 L172.53 101.11 L173.02 101.41 L173.51 101.72 L173.99 102.04 L174.47 102.38 L174.94 102.71 L175.40 103.06 L175.86 103.42 L176.31 103.79 L176.76 104.16 L177.19 104.55 L177.63 104.94 L178.05 105.34 L178.46 105.75 L178.87 106.17 L179.27 106.60 L179.66 107.03 L180.05 107.47 L180.42 107.92 L180.79 108.37 L181.14 108.84 L181.49 109.30 L181.83 109.78 L182.16 110.26 L182.48 110.75 L182.79 111.24 L183.09 111.74 L183.38 112.25 L183.66 112.76 L183.93 113.28 L184.19 113.80 L184.44 114.32 L184.68 114.85 L184.91 115.39 L185.12 115.93 L185.33 116.47 L185.53 117.01 L185.71 117.56 L185.88 118.12 L186.04 118.67 L186.19 119.23 L186.33 119.79 L186.45 120.35 L186.57 120.92 L186.67 121.49 L186.76 122.05 L186.84 122.62 L186.91 123.20 L186.96 123.77 L187.00 124.34 L187.03 124.91 L187.05 125.49 L187.06 126.06 L187.05 126.63 L187.04 127.21 L187.01 127.78 L186.97 128.36 L186.91 128.93 L186.85 129.50 L186.77 130.07 L186.68 130.63 L186.58 131.20 L186.47 131.76 L186.34 132.32 L186.21 132.88 L186.06 133.43 L185.91 133.99 L185.74 134.53 L185.56 135.08 L185.37 135.62 L185.16 136.15 L184.95 136.69 L184.73 137.22 L184.49 137.74 L184.25 138.26 L184.00 138.77 L183.73 139.28 L183.46 139.78 L183.17 140.28 L182.88 140.77 L182.58 141.25 L182.27 141.73 L181.95 142.21 L181.62 142.67 L181.28 143.13 L180.93 143.58 L180.58 144.03 L180.21 144.47 L179.84 144.90 L179.46 145.32 L179.08 145.73 L178.68 146.14 L178.28 146.54 L177.87 146.93 L177.46 147.31 L177.04 147.69 L176.61 148.05 L176.17 148.41 L175.73 148.75 L175.29 149.09 L174.84 149.42 L174.38 149.74 L173.91 150.05 L173.45 150.35 L172.97 150.64 L172.50 150.92 L172.01 151.19 L171.53 151.45 L171.04 151.70 L170.54 151.94 L170.05 152.17 L169.54 152.39 L169.04 152.60 L168.53 152.80 L168.02 152.99 L167.50 153.17 L166.99 153.33 L166.47 153.49 L165.95 153.63 L165.42 153.77 L164.90 153.89 L164.37 154.00 L163.84 154.10 L163.31 154.19 L162.78 154.27 L162.25 154.34 L161.72 154.40 L161.18 154.44 L160.65 154.48 L160.12 154.50 L159.58 154.51 L159.05 154.52 L158.52 154.51 L158.00 154.48 L157.48 154.45 L156.96 154.41 L156.44 154.35 L155.93 154.29 L155.41 154.21 L154.90 154.13 L154.39 154.03 L153.88 153.92 L153.37 153.80 L152.86 153.67 L152.36 153.53 L151.86 153.38 L151.36 153.21 L150.86 153.04 L150.37 152.86 L149.88 152.66 L149.40 152.46 L148.92 152.25 L148.44 152.02 L147.97 151.79 L147.50 151.55 L147.03 151.29 L146.57 151.03 L146.12 150.76 L145.67 150.47 L145.22 150.18 L144.78 149.88 L144.34 149.57 L143.92 149.26 L143.49 148.93 L143.07 148.59 L142.66 148.25 L142.26 147.90 L141.86 147.54 L141.47 147.17 L141.08 146.79 L140.70 146.41 L140.33 146.01 L139.97 145.62 L139.61 145.21 L139.26 144.80 L138.92 144.37 L138.59 143.95 L138.26 143.51 L137.94 143.07 L137.64 142.63 L137.34 142.18 L137.04 141.72 L136.76 141.25 L136.49 140.78 L136.22 140.31 L135.97 139.83 L135.72 139.35 L135.48 138.86 L135.26 138.36 L135.04 137.87 L134.83 137.37 L134.63 136.86 L134.45 136.35 L134.27 135.84 L134.10 135.32 L133.95 134.80 L133.80 134.28 L133.66 133.76 L133.54 133.23 L133.42 132.70 L133.32 132.17 L133.22 131.64 L133.14 131.11 L133.07 130.57 L133.01 130.03 L132.95 129.50 L132.91 128.96 L132.89 128.42 L132.87 127.88 L132.86 127.34 L132.86 126.80 L132.88 126.27 L132.90 125.73 L132.94 125.20 L132.99 124.66 L133.04 124.13 L133.11 123.60 L133.19 123.07 L133.28 122.54 L133.38 122.01 L133.49 121.49 L133.61 120.97 L133.74 120.45 L133.89 119.94 L134.04 119.43 L134.20 118.92 L134.37 118.41 L134.55 117.91 L134.74 117.41 L134.94 116.92 L135.16 116.43 L135.38 115.94 L135.60 115.46 L135.84 114.99 L136.09 114.52 L136.35 114.06 L136.61 113.60 L136.88 113.14 L137.17 112.69 L137.46 112.25 L137.76 111.82 L138.06 111.39 L138.38 110.97 L138.70 110.55 L139.03 110.14 L139.36 109.74 L139.71 109.34 L140.06 108.95 L140.42 108.57 L140.78 108.20 L141.15 107.83 L141.53 107.48 L141.91 107.13 L142.30 106.79 L142.70 106.45 L143.10 106.13 L143.50 105.81 L143.91 105.50 L144.33 105.21 L144.75 104.92 L145.18 104.63 L145.61 104.36 L146.05 104.10 L146.49 103.85 L146.93 103.60 L147.38 103.37 L147.83 103.14 L148.28 102.93 L148.74 102.72 L149.20 102.52 L149.67 102.34 L150.13 102.16 L150.60 101.99 L151.08 101.84 L151.55 101.69 L152.03 101.55 L152.51 101.43 L152.99 101.31 L153.47 101.21 L153.95 101.11 L154.44 101.03 L154.92 100.95 L155.41 100.89 L155.90 100.83 L156.39 100.79 L156.87 100.76 L157.36 100.73 L157.85 100.72 L158.34 100.72 L158.83 100.73 L159.33 100.75 L159.83 100.77 L160.33 100.81 L160.82 100.86 L161.32 100.92 L161.81 100.99 L162.30 101.08 L162.79 101.17 L163.28 101.27 L163.77 101.38 L164.25 101.50 L164.73 101.63 L165.21 101.77 L165.69 101.92 L166.16 102.08 L166.63 102.25 L167.10 102.43 L167.56 102.62 L168.02 102.82 L168.48 103.03 L168.93 103.25 L169.38 103.47 L169.83 103.71 L170.27 103.95 L170.70 104.21 L171.13 104.47 L171.56 104.74 L171.98 105.02 L172.39 105.31 L172.80 105.61 L173.21 105.91 L173.61 106.22 L174.00 106.55 L174.39 106.87 L174.77 107.21 L175.14 107.55 L175.51 107.90 L175.87 108.26 L176.22 108.63 L176.57 109.00 L176.91 109.38 L177.24 109.77 L177.57 110.16 L177.88 110.56 L178.19 110.96 L178.50 111.37 L178.79 111.79 L179.08 112.21 L179.35 112.64 L179.62 113.07 L179.88 113.51 L180.13 113.95 L180.38 114.40 L180.61 114.85 L180.84 115.31 L181.05 115.77 L181.26 116.23 L181.46 116.70 L181.64 117.17 L181.82 117.65 L181.99 118.12 L182.15 118.61 L182.30 119.09 L182.44 119.58 L182.57 120.07 L182.69 120.56 L182.80 121.05 L182.90 121.55 L182.99 122.05 L183.07 122.54 L183.13 123.04 L183.19 123.55 L183.24 124.05 L183.28 124.55 L183.31 125.05 L183.33 125.56 L183.33 126.06 L183.33 126.56 L183.32 127.07 L183.29 127.57 L183.26 128.07 L183.21 128.57 L183.16 129.07 L183.10 129.57 L183.02 130.07 L182.94 130.57 L182.84 131.06 L182.74 131.55 L182.62 132.04 L182.50 132.53 L182.37 133.01 L182.22 133.49 L182.07 133.97 L181.91 134.44 L181.74 134.92 L181.55 135.38 L181.36 135.85 L181.17 136.31 L180.96 136.76 L180.74 137.21 L180.51 137.66 L180.28 138.10 L180.04 138.54 L179.79 138.97 L179.53 139.39 L179.26 139.82 L178.98 140.23 L178.70 140.64 L178.41 141.04 L178.11 141.44 L177.81 141.83 L177.49 142.22 L177.17 142.60 L176.85 142.97 L176.51 143.33 L176.17 143.69 L175.83 144.04 L175.47 144.38 L175.12 144.72 L174.75 145.05 L174.38 145.37 L174.00 145.68 L173.62 145.99 L173.24 146.29 L172.84 146.58 L172.45 146.86 L172.05 147.13 L171.64 147.39 L171.23 147.65 L170.81 147.90 L170.40 148.14 L169.97 148.37 L169.55 148.59 L169.12 148.80 L168.68 149.00 L168.24 149.20 L167.80 149.38 L167.36 149.56 L166.92 149.72 L166.47 149.88 L166.02 150.03 L165.56 150.17 L165.11 150.30 L164.65 150.41 L164.19 150.52 L163.73 150.62 L163.27 150.71 L162.81 150.80 L162.34 150.87 L161.88 150.93 L161.41 150.98 L160.95 151.02 L160.48 151.05 L160.01 151.07 L159.55 151.09 L159.08 151.09 L158.61 151.08 L158.16 151.07 L157.70 151.04 L157.24 151.00 L156.79 150.96 L156.33 150.90 L155.88 150.84 L155.43 150.76 L154.98 150.68 L154.53 150.58 L154.08 150.48 L153.64 150.37 L153.20 150.24 L152.76 150.11 L152.32 149.97 L151.88 149.82 L151.45 149.66 L151.02 149.49 L150.59 149.32 L150.17 149.13 L149.75 148.94 L149.34 148.73 L148.92 148.52 L148.52 148.30 L148.11 148.07 L147.71 147.83 L147.32 147.59 L146.93 147.33 L146.54 147.07 L146.16 146.80 L145.78 146.52 L145.41 146.24 L145.05 145.94 L144.68 145.64 L144.33 145.34 L143.98 145.02 L143.64 144.70 L143.30 144.37 L142.97 144.03 L142.64 143.69 L142.33 143.34 L142.01 142.99 L141.71 142.62 L141.41 142.26 L141.12 141.88 L140.84 141.50 L140.56 141.12 L140.29 140.73 L140.03 140.33 L139.77 139.93 L139.53 139.53 L139.29 139.12 L139.06 138.70 L138.83 138.28 L138.62 137.86 L138.41 137.43 L138.21 137.00 L138.03 136.56 L137.84 136.12 L137.67 135.68 L137.51 135.23 L137.35 134.78 L137.21 134.33 L137.07 133.88 L136.94 133.42 L136.82 132.96 L136.71 132.50 L136.61 132.04 L136.52 131.57 L136.44 131.11 L136.36 130.64 L136.30 130.17 L136.24 129.70 L136.20 129.23 L136.16 128.76 L136.14 128.28 L136.12 127.81 L136.11 127.34 L136.11 126.87 L136.12 126.40 L136.14 125.93 L136.17 125.46 L136.21 124.99 L136.26 124.52 L136.32 124.05 L136.39 123.59 L136.46 123.12 L136.55 122.66 L136.64 122.20 L136.74 121.75 L136.86 121.29 L136.98 120.84 L137.11 120.39 L137.25 119.94 L137.39 119.50 L137.55 119.06 L137.71 118.62 L137.89 118.19 L138.07 117.76 L138.26 117.33 L138.45 116.91 L138.66 116.49 L138.87 116.08 L139.09 115.67 L139.32 115.27 L139.56 114.87 L139.80 114.47 L140.05 114.09 L140.31 113.70 L140.58 113.33 L140.85 112.95 L141.13 112.59 L141.41 112.23 L141.71 111.87 L142.00 111.53 L142.31 111.18 L142.62 110.85 L142.94 110.52 L143.26 110.20 L143.59 109.88 L143.92 109.58 L144.26 109.28 L144.60 108.98 L144.95 108.70 L145.31 108.42 L145.67 108.15 L146.03 107.88 L146.40 107.63 L146.77 107.38 L147.15 107.14 L147.53 106.91 L147.91 106.68 L148.30 106.47 L148.69 106.26 L149.09 106.06 L149.49 105.87 L149.89 105.69 L150.29 105.51 L150.70 105.35 L151.11 105.19 L151.52 105.05 L151.93 104.91 L152.35 104.78 L152.77 104.66 L153.19 104.54 L153.61 104.44 L154.03 104.35 L154.46 104.26 L154.89 104.19 L155.31 104.12 L155.74 104.06 L156.17 104.01 L156.60 103.97 L157.03 103.94 L157.46 103.92 L157.89 103.91 L158.32 103.90 L158.75 103.91 L159.18 103.93 L159.62 103.95 L160.05 103.98 L160.49 104.02 L160.92 104.08 L161.35 104.14 L161.78 104.21 L162.21 104.28 L162.64 104.37 L163.06 104.47 L163.49 104.57 L163.91 104.69 L164.33 104.81 L164.75 104.94 L165.16 105.08 L165.57 105.23 L165.98 105.38 L166.39 105.55 L166.79 105.72 L167.19 105.90 L167.58 106.09 L167.98 106.29 L168.36 106.50 L168.75 106.71 L169.13 106.93 L169.50 107.16 L169.88 107.40 L170.24 107.64 L170.61 107.89 L170.96 108.15 L171.32 108.42 L171.66 108.69 L172.01 108.97 L172.34 109.26 L172.68 109.55 L173.00 109.85 L173.32 110.16 L173.64 110.47 L173.95 110.79 L174.25 111.12 L174.54 111.45 L174.83 111.79 L175.12 112.13 L175.39 112.48 L175.66 112.83 L175.93 113.19 L176.18 113.56 L176.43 113.93 L176.67 114.30 L176.90 114.68 L177.13 115.06 L177.35 115.45 L177.56 115.84 L177.77 116.24 L177.96 116.64 L178.15 117.04 L178.33 117.45 L178.50 117.86 L178.66 118.27 L178.82 118.69 L178.97 119.11 L179.11 119.53 L179.24 119.96 L179.36 120.38 L179.47 120.81 L179.57 121.24 L179.67 121.68 L179.76 122.11 L179.84 122.55 L179.91 122.98 L179.97 123.42 L180.02 123.86 L180.06 124.30 L180.10 124.74 L180.12 125.18 L180.14 125.63 L180.15 126.07 L180.15 126.51 L180.14 126.95 L180.12 127.39 L180.09 127.83 L180.05 128.27 L180.01 128.71 L179.95 129.15 L179.89 129.59 L179.82 130.02 L179.74 130.45 L179.65 130.89 L179.55 131.31 L179.45 131.74 L179.33 132.17 L179.21 132.59 L179.08 133.01 L178.94 133.42 L178.79 133.84 L178.64 134.25 L178.48 134.66 L178.31 135.06 L178.13 135.46 L177.94 135.86 L177.75 136.25 L177.55 136.64 L177.34 137.02 L177.12 137.40 L176.90 137.77 L176.67 138.14 L176.43 138.51 L176.19 138.87 L175.93 139.22 L175.68 139.57 L175.41 139.91 L175.14 140.25 L174.87 140.59 L174.58 140.91 L174.30 141.23 L174.00 141.55 L173.70 141.86 L173.40 142.16 L173.08 142.46 L172.77 142.74 L172.45 143.03 L172.12 143.30 L171.79 143.57 L171.45 143.83 L171.11 144.09 L170.77 144.34 L170.42 144.58 L170.07 144.81 L169.71 145.04 L169.35 145.25 L168.98 145.46 L168.61 145.67 L168.24 145.86 L167.87 146.05 L167.49 146.23 L167.11 146.40 L166.72 146.56 L166.34 146.72 L165.95 146.87 L165.56 147.01 L165.16 147.14 L164.77 147.26 L164.37 147.37 L163.97 147.48 L163.57 147.58 L163.17 147.67 L162.76 147.75 L162.36 147.82 L161.95 147.88 L161.55 147.94 L161.14 147.98 L160.73 148.02 L160.32 148.05 L159.91 148.07 L159.51 148.08 L159.10 148.09 L158.69 148.08 L158.29 148.07 L157.89 148.05 L157.48 148.02 L157.08 147.98 L156.68 147.93 L156.29 147.87 L155.89 147.81 L155.49 147.74 L155.10 147.66 L154.71 147.57 L154.31 147.47 L153.93 147.36 L153.54 147.25 L153.15 147.13 L152.77 147.00 L152.39 146.86 L152.01 146.71 L151.64 146.56 L151.27 146.40 L150.90 146.23 L150.53 146.05 L150.17 145.86 L149.81 145.67 L149.46 145.47 L149.11 145.26 L148.76 145.05 L148.42 144.83 L148.08 144.60 L147.75 144.36 L147.42 144.12 L147.09 143.87 L146.77 143.62 L146.45 143.35 L146.14 143.09 L145.84 142.81 L145.54 142.53 L145.24 142.24 L144.95 141.95 L144.67 141.65 L144.39 141.34 L144.11 141.03 L143.85 140.72 L143.59 140.39 L143.33 140.07 L143.08 139.74 L142.84 139.40 L142.60 139.06 L142.37 138.71 L142.15 138.36 L141.94 138.00 L141.73 137.65 L141.53 137.28 L141.33 136.91 L141.14 136.54 L140.96 136.17 L140.79 135.79 L140.62 135.41 L140.46 135.02 L140.31 134.64 L140.17 134.25 L140.03 133.85 L139.91 133.46 L139.78 133.06 L139.67 132.66 L139.57 132.26 L139.47 131.85 L139.38 131.45 L139.30 131.04 L139.23 130.63 L139.16 130.22 L139.11 129.81 L139.06 129.40 L139.02 128.98 L138.99 128.57 L138.96 128.15 L138.94 127.74 L138.94 127.33 L138.94 126.91 L138.94 126.50 L138.96 126.09 L138.99 125.67 L139.02 125.26 L139.06 124.85 L139.11 124.44 L139.16 124.03 L139.23 123.63 L139.30 123.22 L139.38 122.82 L139.47 122.42 L139.57 122.02 L139.67 121.62 L139.78 121.23 L139.90 120.83 L140.03 120.44 L140.16 120.06 L140.30 119.67 L140.45 119.29 L140.61 118.91 L140.77 118.54 L140.94 118.17 L141.12 117.80 L141.30 117.44 L141.50 117.08 L141.69 116.73 L141.90 116.37 L142.11 116.03 L142.33 115.69 L142.55 115.35 L142.78 115.02 L143.02 114.69 L143.26 114.37 L143.51 114.05 L143.76 113.74 L144.02 113.43 L144.29 113.13 L144.56 112.84 L144.83 112.55 L145.11 112.27 L145.40 111.99 L145.69 111.72 L145.99 111.45 L146.29 111.20 L146.59 110.94 L146.90 110.70 L147.21 110.46 L147.53 110.23 L147.85 110.00 L148.18 109.78 L148.51 109.57 L148.84 109.37 L149.18 109.17 L149.52 108.98 L149.86 108.80 L150.20 108.62 L150.55 108.45 L150.91 108.29 L151.26 108.14 L151.62 107.99 L151.98 107.85 L152.34 107.72 L152.70 107.60 L153.06 107.48 L153.43 107.38 L153.80 107.28 L154.17 107.19 L154.54 107.10 L154.91 107.03 L155.29 106.96 L155.66 106.90 L156.04 106.85 L156.42 106.80 L156.79 106.77 L157.17 106.74 L157.55 106.72 L157.93 106.70 L158.30 106.70 L158.68 106.70 L159.06 106.72 L159.44 106.74 L159.82 106.76 L160.20 106.80 L160.58 106.84 L160.96 106.90 L161.34 106.95 L161.71 107.02 L162.09 107.10 L162.46 107.18 L162.83 107.27 L163.20 107.37 L163.57 107.48 L163.93 107.59 L164.30 107.71 L164.66 107.84 L165.01 107.98 L165.37 108.12 L165.72 108.27 L166.07 108.43 L166.42 108.59 L166.76 108.77 L167.10 108.94 L167.44 109.13 L167.77 109.32 L168.10 109.52 L168.42 109.73 L168.74 109.94 L169.06 110.16 L169.37 110.39 L169.68 110.62 L169.99 110.86 L170.29 111.11 L170.58 111.36 L170.87 111.61 L171.16 111.88 L171.44 112.15 L171.71 112.42 L171.98 112.70 L172.24 112.98 L172.50 113.27 L172.76 113.57 L173.00 113.87 L173.24 114.18 L173.48 114.49 L173.71 114.80 L173.93 115.12 L174.15 115.44 L174.36 115.77 L174.56 116.10 L174.76 116.44 L174.95 116.78 L175.14 117.12 L175.32 117.47 L175.49 117.82 L175.65 118.17 L175.81 118.53 L175.96 118.89 L176.10 119.25 L176.24 119.61 L176.36 119.98 L176.49 120.35 L176.60 120.72 L176.71 121.10 L176.81 121.47 L176.90 121.85 L176.98 122.23 L177.06 122.61 L177.13 123.00 L177.19 123.38 L177.24 123.76 L177.29 124.15 L177.33 124.53 L177.36 124.92 L177.38 125.31 L177.40 125.70 L177.41 126.08 L177.41 126.47 L177.40 126.86 L177.38 127.25 L177.36 127.63 L177.33 128.02 L177.29 128.40 L177.25 128.79 L177.19 129.17 L177.13 129.55 L177.07 129.93 L176.99 130.31 L176.91 130.69 L176.82 131.06 L176.72 131.43 L176.61 131.81 L176.50 132.17 L176.38 132.54 L176.26 132.90 L176.12 133.26 L175.98 133.62 L175.84 133.97 L175.68 134.33 L175.52 134.67 L175.36 135.02 L175.18 135.36 L175.00 135.70 L174.81 136.03 L174.62 136.36 L174.42 136.68 L174.22 137.00 L174.01 137.32 L173.79 137.63 L173.57 137.94 L173.34 138.24 L173.10 138.54 L172.86 138.83 L172.62 139.12 L172.37 139.40 L172.11 139.68 L171.85 139.95 L171.59 140.22 L171.32 140.48 L171.04 140.73 L170.76 140.98 L170.48 141.22 L170.19 141.46 L169.90 141.69 L169.60 141.91 L169.30 142.13 L169.00 142.34 L168.69 142.55 L168.38 142.75 L168.06 142.94 L167.75 143.13 L167.43 143.31 L167.10 143.48 L166.77 143.64 L166.44 143.80 L166.11 143.95 L165.78 144.10 L165.44 144.24 L165.10 144.37 L164.76 144.49 L164.41 144.61 L164.07 144.71 L163.72 144.82 L163.37 144.91 L163.02 145.00 L162.67 145.07 L162.31 145.15 L161.96 145.21 L161.61 145.27 L161.25 145.32 L160.89 145.36 L160.54 145.39 L160.18 145.42 L159.82 145.44 L159.46 145.45 L159.10 145.46 L158.75 145.45 L158.39 145.44 L158.04 145.42 L157.69 145.40 L157.34 145.37 L156.98 145.33 L156.63 145.28 L156.29 145.22 L155.94 145.16 L155.59 145.09 L155.25 145.01 L154.90 144.93 L154.56 144.84 L154.22 144.74 L153.88 144.63 L153.55 144.52 L153.21 144.40 L152.88 144.27 L152.55 144.14 L152.23 144.00 L151.90 143.85 L151.58 143.69 L151.26 143.53 L150.95 143.37 L150.64 143.19 L150.33 143.01 L150.02 142.82 L149.72 142.63 L149.43 142.43 L149.13 142.22 L148.84 142.01 L148.56 141.80 L148.28 141.57 L148.00 141.34 L147.73 141.11 L147.46 140.87 L147.19 140.62 L146.93 140.37 L146.68 140.11 L146.43 139.85 L146.19 139.58 L145.95 139.31 L145.71 139.04 L145.48 138.75 L145.26 138.47 L145.04 138.18 L144.83 137.88 L144.62 137.58 L144.42 137.28 L144.23 136.97 L144.04 136.66 L143.85 136.35 L143.68 136.03 L143.51 135.71 L143.34 135.38 L143.18 135.06 L143.03 134.73 L142.89 134.39 L142.75 134.05 L142.61 133.71 L142.49 133.37 L142.37 133.03 L142.26 132.68 L142.15 132.33 L142.05 131.98 L141.96 131.63 L141.87 131.27 L141.80 130.92 L141.72 130.56 L141.66 130.20 L141.60 129.84 L141.55 129.48 L141.51 129.12 L141.47 128.76 L141.44 128.40 L141.42 128.03 L141.41 127.67 L141.40 127.31 L141.40 126.94 L141.40 126.58 L141.42 126.22 L141.44 125.86 L141.46 125.50 L141.50 125.14 L141.54 124.78 L141.59 124.42 L141.64 124.06 L141.70 123.71 L141.77 123.35 L141.85 123.00 L141.93 122.65 L142.02 122.30 L142.12 121.95 L142.22 121.61 L142.33 121.27 L142.44 120.93 L142.57 120.59 L142.70 120.25 L142.83 119.92 L142.97 119.59 L143.12 119.27 L143.27 118.94 L143.43 118.63 L143.60 118.31 L143.77 118.00 L143.95 117.69 L144.13 117.39 L144.32 117.09 L144.51 116.79 L144.71 116.50 L144.92 116.21 L145.13 115.93 L145.35 115.65 L145.57 115.37 L145.79 115.10 L146.02 114.84 L146.26 114.58 L146.50 114.33 L146.74 114.08 L146.99 113.83 L147.25 113.59 L147.51 113.36 L147.77 113.13 L148.03 112.91 L148.30 112.70 L148.58 112.48 L148.86 112.28 L149.14 112.08 L149.42 111.89 L149.71 111.70 L150.00 111.52 L150.29 111.35 L150.59 111.18 L150.89 111.02 L151.19 110.86 L151.50 110.71 L151.81 110.57 L152.12 110.44 L152.43 110.31 L152.74 110.18 L153.06 110.07 L153.38 109.96 L153.70 109.86 L154.02 109.76 L154.35 109.67 L154.67 109.59 L155.00 109.52 L155.32 109.45 L155.65 109.39 L155.98 109.34 L156.31 109.29 L156.64 109.25 L156.97 109.22 L157.30 109.19 L157.63 109.17 L157.97 109.16 L158.30 109.15 L158.63 109.16 L158.96 109.17 L159.30 109.18 L159.63 109.21 L159.96 109.24 L160.30 109.27 L160.63 109.32 L160.96 109.37 L161.29 109.43 L161.62 109.49 L161.94 109.56 L162.27 109.64 L162.59 109.73 L162.91 109.82 L163.23 109.92 L163.55 110.02 L163.87 110.13 L164.18 110.25 L164.49 110.38 L164.80 110.51 L165.10 110.65 L165.41 110.79 L165.71 110.94 L166.01 111.10 L166.30 111.26 L166.59 111.43 L166.88 111.60 L167.16 111.78 L167.45 111.97 L167.72 112.16 L168.00 112.36 L168.27 112.56 L168.53 112.77 L168.80 112.99 L169.05 113.20 L169.31 113.43 L169.56 113.66 L169.80 113.89 L170.04 114.13 L170.28 114.38 L170.51 114.63 L170.74 114.88 L170.96 115.14 L171.17 115.40 L171.38 115.67 L171.59 115.94 L171.79 116.22 L171.99 116.50 L172.18 116.78 L172.36 117.07 L172.54 117.36 L172.71 117.65 L172.88 117.95 L173.04 118.25 L173.20 118.55 L173.35 118.86 L173.49 119.17 L173.63 119.48 L173.76 119.80 L173.88 120.11 L174.00 120.43 L174.12 120.75 L174.22 121.08 L174.32 121.41 L174.42 121.73 L174.50 122.06 L174.58 122.39 L174.66 122.73 L174.73 123.06 L174.79 123.40 L174.84 123.73 L174.89 124.07 L174.93 124.41 L174.97 124.75 L174.99 125.09 L175.01 125.43 L175.03 125.77 L175.04 126.10 L175.04 126.44 L175.03 126.78 L175.02 127.12 L175.00 127.46 L174.98 127.80 L174.95 128.14 L174.91 128.48 L174.86 128.81 L174.81 129.15 L174.75 129.48 L174.69 129.81 L174.62 130.14 L174.54 130.47 L174.46 130.80 L174.37 131.13 L174.27 131.45 L174.17 131.77 L174.06 132.09 L173.94 132.41 L173.82 132.72 L173.70 133.03 L173.56 133.34 L173.42 133.64 L173.28 133.95 L173.13 134.25 L172.97 134.54 L172.81 134.84 L172.65 135.12 L172.47 135.41 L172.29 135.69 L172.11 135.97 L171.92 136.24 L171.73 136.51 L171.53 136.78 L171.33 137.04 L171.12 137.30 L170.91 137.55 L170.69 137.80 L170.47 138.04 L170.24 138.28 L170.01 138.52 L169.78 138.75 L169.54 138.97 L169.29 139.19 L169.05 139.40 L168.80 139.61 L168.54 139.81 L168.28 140.01 L168.02 140.20 L167.76 140.39 L167.49 140.57 L167.22 140.75 L166.94 140.92 L166.66 141.08 L166.38 141.24 L166.10 141.39 L165.81 141.54 L165.53 141.68 L165.24 141.81 L164.94 141.94 L164.65 142.06 L164.35 142.18 L164.05 142.28 L163.75 142.39 L163.45 142.48 L163.14 142.57 L162.84 142.66 L162.53 142.73 L162.22 142.80 L161.92 142.87 L161.61 142.93 L161.29 142.98 L160.98 143.02 L160.67 143.06 L160.36 143.09 L160.04 143.12 L159.73 143.13 L159.42 143.14 L159.10 143.15 L158.79 143.15 L158.48 143.14 L158.17 143.13 L157.86 143.10 L157.55 143.08 L157.24 143.04 L156.94 143.00 L156.63 142.95 L156.32 142.90 L156.02 142.84 L155.72 142.77 L155.41 142.70 L155.11 142.62 L154.81 142.53 L154.52 142.44 L154.22 142.34 L153.93 142.24 L153.64 142.13 L153.35 142.01 L153.06 141.89 L152.78 141.76 L152.50 141.63 L152.22 141.49 L151.94 141.34 L151.67 141.19 L151.40 141.03 L151.13 140.87 L150.86 140.70 L150.60 140.52 L150.35 140.34 L150.09 140.16 L149.84 139.97 L149.59 139.77 L149.35 139.57 L149.11 139.37 L148.87 139.16 L148.64 138.94 L148.42 138.72 L148.19 138.50 L147.97 138.27 L147.76 138.04 L147.55 137.80 L147.34 137.56 L147.14 137.31 L146.95 137.06 L146.75 136.81 L146.57 136.55 L146.39 136.29 L146.21 136.02 L146.04 135.75 L145.87 135.48 L145.71 135.21 L145.56 134.93 L145.41 134.65 L145.26 134.36 L145.12 134.07 L144.99 133.78 L144.86 133.49 L144.74 133.20 L144.62 132.90 L144.51 132.60 L144.41 132.30 L144.31 131.99 L144.21 131.69 L144.13 131.38 L144.05 131.07 L143.97 130.76 L143.90 130.45 L143.84 130.14 L143.78 129.82 L143.73 129.51 L143.69 129.19 L143.65 128.87 L143.61 128.56 L143.59 128.24 L143.57 127.92 L143.55 127.60 L143.54 127.28 L143.54 126.96 L143.55 126.65 L143.56 126.33 L143.57 126.01 L143.60 125.69 L143.63 125.38 L143.66 125.06 L143.70 124.75 L143.75 124.43 L143.80 124.12 L143.86 123.81 L143.93 123.50 L144.00 123.19 L144.07 122.89 L144.16 122.58 L144.25 122.28 L144.34 121.98 L144.44 121.68 L144.55 121.38 L144.66 121.09 L144.77 120.80 L144.90 120.51 L145.03 120.22 L145.16 119.94 L145.30 119.66 L145.44 119.38 L145.59 119.11 L145.74 118.84 L145.90 118.57 L146.07 118.31 L146.24 118.05 L146.41 117.79 L146.59 117.54 L146.77 117.29 L146.96 117.04 L147.15 116.80 L147.35 116.57 L147.55 116.33 L147.76 116.10 L147.97 115.88 L148.18 115.66 L148.40 115.45 L148.62 115.24 L148.84 115.03 L149.07 114.83 L149.31 114.63 L149.54 114.44 L149.78 114.26 L150.02 114.08 L150.27 113.90 L150.52 113.73 L150.77 113.57 L151.02 113.41 L151.28 113.26 L151.54 113.11 L151.80 112.96 L152.07 112.83 L152.34 112.70 L152.61 112.57 L152.88 112.45 L153.15 112.34 L153.43 112.23 L153.71 112.13 L153.99 112.03 L154.27 111.94 L154.55 111.85 L154.83 111.78 L155.12 111.70 L155.40 111.64 L155.69 111.58 L155.98 111.52 L156.27 111.47 L156.56 111.43 L156.85 111.40 L157.14 111.37 L157.43 111.34 L157.72 111.32 L158.01 111.31 L158.30 111.31 L158.59 111.31 L158.88 111.32 L159.18 111.33 L159.47 111.35 L159.76 111.37 L160.05 111.41 L160.34 111.44 L160.63 111.49 L160.92 111.54 L161.21 111.59 L161.49 111.66 L161.78 111.72 L162.06 111.80 L162.34 111.88 L162.63 111.96 L162.90 112.05 L163.18 112.15 L163.46 112.25 L163.73 112.36 L164.00 112.48 L164.27 112.60 L164.53 112.72 L164.80 112.85 L165.06 112.99 L165.32 113.13 L165.57 113.28 L165.82 113.43 L166.07 113.59 L166.32 113.75 L166.56 113.92 L166.80 114.09 L167.04 114.27 L167.27 114.45 L167.50 114.64 L167.73 114.83 L167.95 115.03 L168.17 115.23 L168.38 115.43 L168.59 115.64 L168.80 115.86 L169.00 116.07 L169.20 116.30 L169.40 116.52 L169.58 116.75 L169.77 116.99 L169.95 117.22 L170.13 117.46 L170.30 117.71 L170.46 117.96 L170.63 118.21 L170.78 118.46 L170.93 118.72 L171.08 118.98 L171.22 119.24 L171.36 119.51 L171.49 119.78 L171.62 120.05 L171.74 120.32 L171.85 120.60 L171.96 120.88 L172.07 121.16 L172.17 121.44 L172.26 121.72 L172.35 122.01 L172.43 122.30 L172.51 122.59 L172.58 122.88 L172.64 123.17 L172.70 123.46 L172.76 123.75 L172.81 124.05 L172.85 124.35 L172.89 124.64 L172.92 124.94 L172.94 125.24 L172.96 125.53 L172.98 125.83 L172.98 126.13 L172.99 126.43 L172.98 126.73 L172.97 127.02 L172.96 127.32 L172.94 127.62 L172.91 127.92 L172.88 128.21 L172.84 128.51 L172.79 128.80 L172.74 129.09 L172.69 129.38 L172.63 129.67 L172.56 129.96 L172.49 130.25 L172.41 130.54 L172.33 130.82 L172.24 131.10 L172.15 131.38 L172.05 131.66 L171.94 131.94 L171.83 132.21 L171.72 132.48 L171.60 132.75 L171.47 133.01 L171.34 133.28 L171.21 133.54 L171.07 133.79 L170.92 134.05 L170.77 134.30 L170.62 134.55 L170.46 134.79 L170.30 135.03 L170.13 135.27 L169.96 135.50 L169.78 135.73 L169.60 135.96 L169.41 136.18 L169.22 136.40 L169.03 136.62 L168.83 136.83 L168.63 137.03 L168.43 137.23 L168.22 137.43 L168.01 137.62 L167.79 137.81 L167.57 138.00 L167.35 138.17 L167.13 138.35 L166.90 138.52 L166.67 138.68 L166.43 138.84 L166.20 139.00 L165.96 139.15 L165.71 139.29 L165.47 139.43 L165.22 139.56 L164.97 139.69 L164.72 139.82 L164.47 139.94 L164.21 140.05 L163.95 140.16 L163.69 140.26 L163.43 140.35 L163.17 140.44 L162.90 140.53 L162.64 140.61 L162.37 140.68 L162.10 140.75 L161.83 140.82 L161.56 140.87 L161.29 140.92 L161.02 140.97 L160.74 141.01 L160.47 141.04 L160.20 141.07 L159.92 141.09 L159.65 141.11 L159.37 141.12 L159.10 141.13 L158.82 141.13 L158.55 141.12 L158.28 141.11 L158.01 141.09 L157.73 141.07 L157.46 141.04 L157.19 141.00 L156.92 140.96 L156.66 140.92 L156.39 140.86 L156.12 140.81 L155.86 140.74 L155.59 140.67 L155.33 140.60 L155.07 140.52 L154.81 140.43 L154.55 140.34 L154.30 140.25 L154.04 140.15 L153.79 140.04 L153.54 139.93 L153.29 139.81 L153.05 139.69 L152.81 139.56 L152.57 139.43 L152.33 139.29 L152.09 139.15 L151.86 139.00 L151.63 138.85 L151.41 138.69 L151.18 138.53 L150.96 138.37 L150.74 138.19 L150.53 138.02 L150.32 137.84 L150.11 137.66 L149.91 137.47 L149.71 137.28 L149.51 137.08 L149.32 136.88 L149.13 136.68 L148.95 136.47 L148.77 136.26 L148.59 136.04 L148.42 135.82 L148.25 135.60 L148.09 135.38 L147.93 135.15 L147.77 134.91 L147.62 134.68 L147.48 134.44 L147.34 134.20 L147.20 133.96 L147.07 133.71 L146.94 133.46 L146.82 133.21 L146.70 132.95 L146.59 132.70 L146.48 132.44 L146.38 132.18 L146.28 131.92 L146.19 131.65 L146.10 131.39 L146.02 131.12 L145.94 130.85 L145.87 130.58 L145.80 130.31 L145.74 130.03 L145.68 129.76 L145.63 129.48 L145.59 129.21 L145.55 128.93 L145.51 128.65 L145.48 128.37 L145.46 128.09 L145.44 127.81 L145.43 127.54 L145.42 127.26 L145.42 126.98 L145.42 126.70 L145.43 126.42 L145.44 126.14 L145.46 125.86 L145.49 125.58 L145.52 125.31 L145.55 125.03 L145.59 124.76 L145.64 124.48 L145.69 124.21 L145.74 123.94 L145.81 123.67 L145.87 123.40 L145.94 123.13 L146.02 122.87 L146.10 122.60 L146.19 122.34 L146.28 122.08 L146.38 121.82 L146.48 121.56 L146.58 121.31 L146.70 121.06 L146.81 120.81 L146.93 120.56 L147.06 120.32 L147.19 120.08 L147.32 119.84 L147.46 119.61 L147.60 119.37 L147.75 119.15 L147.90 118.92 L148.06 118.70 L148.22 118.48 L148.38 118.26 L148.55 118.05 L148.72 117.84 L148.89 117.64 L149.07 117.44 L149.26 117.24 L149.44 117.05 L149.63 116.86 L149.83 116.67 L150.02 116.49 L150.22 116.31 L150.43 116.14 L150.63 115.97 L150.84 115.81 L151.05 115.65 L151.27 115.50 L151.49 115.35 L151.71 115.20 L151.93 115.06 L152.15 114.93 L152.38 114.80 L152.61 114.67 L152.84 114.55 L153.08 114.43 L153.31 114.32 L153.55 114.22 L153.79 114.11 L154.03 114.02 L154.28 113.93 L154.52 113.84 L154.77 113.76 L155.02 113.69 L155.26 113.62 L155.51 113.55 L155.77 113.49 L156.02 113.44 L156.27 113.39 L156.52 113.35 L156.78 113.31 L157.03 113.28 L157.29 113.25 L157.54 113.23 L157.80 113.21 L158.05 113.20 L158.31 113.20 L158.56 113.20 L158.82 113.20 L159.08 113.21 L159.33 113.23 L159.59 113.25 L159.84 113.28 L160.10 113.31 L160.35 113.35 L160.61 113.39 L160.86 113.44 L161.11 113.49 L161.36 113.55 L161.61 113.62 L161.85 113.69 L162.10 113.76 L162.34 113.84 L162.59 113.92 L162.83 114.01 L163.07 114.11 L163.31 114.21 L163.54 114.31 L163.77 114.42 L164.00 114.53 L164.23 114.65 L164.46 114.78 L164.68 114.91 L164.91 115.04 L165.12 115.18 L165.34 115.32 L165.55 115.46 L165.76 115.61 L165.97 115.77 L166.18 115.93 L166.38 116.09 L166.58 116.26 L166.77 116.43 L166.96 116.61 L167.15 116.79 L167.34 116.97 L167.52 117.16 L167.69 117.35 L167.87 117.54 L168.04 117.74 L168.20 117.94 L168.37 118.14 L168.53 118.35 L168.68 118.56 L168.83 118.78 L168.98 118.99 L169.12 119.21 L169.25 119.44 L169.39 119.66 L169.52 119.89 L169.64 120.12 L169.76 120.35 L169.88 120.59 L169.99 120.83 L170.09 121.07 L170.19 121.31 L170.29 121.55 L170.38 121.80 L170.47 122.05 L170.55 122.29 L170.63 122.54 L170.70 122.80 L170.77 123.05 L170.83 123.30 L170.89 123.56 L170.95 123.82 L170.99 124.08 L171.04 124.33 L171.07 124.59 L171.11 124.85 L171.14 125.11 L171.16 125.37 L171.18 125.64 L171.19 125.90 L171.20 126.16 L171.20 126.42 L171.20 126.68 L171.19 126.94 L171.18 127.20 L171.16 127.46 L171.14 127.72 L171.11 127.98 L171.08 128.24 L171.04 128.50 L171.00 128.76 L170.95 129.01 L170.90 129.27 L170.84 129.52 L170.78 129.77 L170.71 130.03 L170.64 130.27 L170.56 130.52 L170.48 130.77 L170.40 131.01 L170.31 131.25 L170.21 131.49 L170.11 131.73 L170.01 131.97 L169.90 132.20 L169.79 132.43 L169.67 132.66 L169.55 132.89 L169.42 133.11 L169.29 133.33 L169.16 133.55 L169.02 133.76 L168.88 133.98 L168.73 134.18 L168.58 134.39 L168.43 134.59 L168.27 134.79 L168.11 134.99 L167.94 135.18 L167.77 135.37 L167.60 135.55 L167.43 135.73 L167.25 135.91 L167.07 136.08 L166.88 136.25 L166.69 136.42 L166.50 136.58 L166.31 136.74 L166.11 136.89 L165.91 137.04 L165.71 137.19 L165.51 137.33 L165.30 137.46 L165.09 137.60 L164.88 137.72 L164.66 137.85 L164.45 137.96 L164.23 138.08 L164.01 138.19 L163.79 138.29 L163.56 138.39 L163.34 138.49 L163.11 138.58 L162.88 138.66 L162.65 138.74 L162.42 138.82 L162.19 138.89 L161.95 138.96 L161.72 139.02 L161.48 139.07 L161.24 139.12 L161.01 139.17 L160.77 139.21 L160.53 139.25 L160.29 139.28 L160.05 139.30 L159.81 139.32 L159.57 139.34 L159.33 139.35 L159.09 139.35 L158.85 139.35 L158.61 139.35 L158.37 139.34 L158.13 139.32 L157.89 139.30 L157.65 139.28 L157.42 139.25 L157.18 139.22 L156.94 139.18 L156.71 139.13 L156.47 139.08 L156.24 139.03 L156.01 138.97 L155.78 138.90 L155.55 138.83 L155.32 138.76 L155.10 138.68 L154.87 138.60 L154.65 138.51 L154.43 138.42 L154.21 138.32 L153.99 138.22 L153.78 138.11 L153.56 138.00 L153.35 137.88 L153.14 137.76 L152.94 137.64 L152.73 137.51 L152.53 137.38 L152.33 137.24 L152.13 137.10 L151.94 136.95 L151.75 136.81 L151.56 136.65 L151.38 136.50 L151.20 136.34 L151.02 136.17 L150.84 136.00 L150.67 135.83 L150.50 135.66 L150.33 135.48 L150.17 135.30 L150.01 135.11 L149.86 134.92 L149.71 134.73 L149.56 134.54 L149.42 134.34 L149.28 134.14 L149.14 133.94 L149.01 133.73 L148.88 133.52 L148.76 133.31 L148.63 133.10 L148.52 132.88 L148.41 132.66 L148.30 132.44 L148.20 132.22 L148.10 132.00 L148.00 131.77 L147.91 131.54 L147.83 131.31 L147.74 131.08 L147.67 130.85 L147.59 130.61 L147.53 130.38 L147.46 130.14 L147.40 129.90 L147.35 129.66 L147.30 129.42 L147.25 129.18 L147.21 128.94 L147.18 128.69 L147.15 128.45 L147.12 128.21 L147.10 127.96 L147.08 127.72 L147.07 127.47 L147.06 127.23 L147.06 126.98 L147.06 126.74 L147.07 126.49 L147.08 126.25 L147.09 126.00 L147.12 125.76 L147.14 125.52 L147.17 125.28 L147.20 125.03 L147.24 124.79 L147.29 124.55 L147.34 124.31 L147.39 124.08 L147.45 123.84 L147.51 123.61 L147.57 123.37 L147.64 123.14 L147.72 122.91 L147.80 122.68 L147.88 122.46 L147.97 122.23 L148.06 122.01 L148.16 121.79 L148.26 121.57 L148.37 121.35 L148.47 121.14 L148.59 120.93 L148.70 120.72 L148.82 120.51 L148.95 120.31 L149.08 120.10 L149.21 119.91 L149.34 119.71 L149.48 119.52 L149.63 119.33 L149.77 119.14 L149.92 118.96 L150.08 118.78 L150.23 118.60 L150.39 118.43 L150.55 118.26 L150.72 118.09 L150.89 117.93 L151.06 117.77 L151.24 117.61 L151.41 117.46 L151.59 117.31 L151.78 117.17 L151.96 117.03 L152.15 116.89 L152.34 116.76 L152.53 116.63 L152.73 116.51 L152.93 116.39 L153.12 116.28 L153.33 116.16 L153.53 116.06 L153.73 115.95 L153.94 115.86 L154.15 115.76 L154.36 115.67 L154.57 115.59 L154.79 115.51 L155.00 115.43 L155.22 115.36 L155.43 115.30 L155.65 115.23 L155.87 115.18 L156.09 115.12 L156.31 115.08 L156.53 115.03 L156.75 114.99 L156.98 114.96 L157.20 114.93 L157.42 114.91 L157.65 114.89 L157.87 114.87 L158.10 114.86 L158.32 114.86 L158.55 114.85 L158.77 114.86 L158.99 114.87 L159.22 114.88 L159.44 114.90 L159.67 114.92 L159.89 114.95 L160.11 114.98 L160.34 115.02 L160.56 115.06 L160.78 115.11 L161.00 115.16 L161.21 115.21 L161.43 115.27 L161.65 115.34 L161.86 115.41 L162.07 115.48 L162.29 115.56 L162.49 115.64 L162.70 115.73 L162.91 115.82 L163.11 115.91 L163.32 116.01 L163.52 116.12 L163.72 116.22 L163.91 116.34 L164.11 116.45 L164.30 116.57 L164.49 116.69 L164.68 116.82 L164.86 116.95 L165.04 117.09 L165.22 117.23 L165.40 117.37 L165.57 117.52 L165.74 117.67 L165.91 117.82 L166.08 117.98 L166.24 118.14 L166.40 118.30 L166.55 118.47 L166.71 118.64 L166.86 118.81 L167.00 118.99 L167.15 119.17 L167.28 119.35 L167.42 119.53 L167.55 119.72 L167.68 119.91 L167.80 120.10 L167.93 120.30 L168.04 120.49 L168.16 120.69 L168.26 120.90 L168.37 121.10 L168.47 121.31 L168.57 121.51 L168.66 121.72 L168.75 121.94 L168.84 122.15 L168.92 122.37 L169.00 122.58 L169.07 122.80 L169.14 123.02 L169.20 123.24 L169.26 123.46 L169.32 123.69 L169.37 123.91 L169.41 124.14 L169.46 124.36 L169.50 124.59 L169.53 124.82 L169.56 125.04 L169.58 125.27 L169.60 125.50 L169.62 125.73 L169.63 125.96 L169.64 126.19 L169.64 126.42 L169.64 126.65 L169.64 126.88 L169.63 127.11 L169.61 127.33 L169.59 127.56 L169.57 127.79 L169.54 128.02 L169.51 128.24 L169.47 128.47 L169.43 128.69 L169.39 128.92 L169.34 129.14 L169.28 129.36 L169.23 129.58 L169.16 129.80 L169.10 130.02 L169.03 130.23 L168.95 130.45 L168.88 130.66 L168.79 130.87 L168.71 131.08 L168.62 131.29 L168.52 131.49 L168.42 131.70 L168.32 131.90 L168.22 132.10 L168.11 132.29 L167.99 132.49 L167.88 132.68 L167.76 132.87 L167.63 133.05 L167.51 133.24 L167.38 133.42 L167.24 133.59 L167.10 133.77 L166.96 133.94 L166.82 134.11 L166.67 134.28 L166.52 134.44 L166.37 134.60 L166.22 134.75 L166.06 134.91 L165.90 135.06 L165.73 135.20 L165.56 135.34 L165.40 135.48 L165.22 135.62 L165.05 135.75 L164.87 135.88 L164.69 136.00 L164.51 136.12 L164.33 136.24 L164.14 136.35 L163.96 136.46 L163.77 136.56 L163.58 136.66 L163.38 136.76 L163.19 136.85 L162.99 136.94 L162.80 137.03 L162.60 137.11 L162.40 137.18 L162.20 137.25 L161.99 137.32 L161.79 137.38 L161.58 137.44 L161.38 137.49 L161.17 137.54 L160.96 137.59 L160.76 137.63 L160.55 137.67 L160.34 137.70 L160.13 137.73 L159.92 137.75 L159.71 137.77 L159.50 137.78 L159.28 137.79 L159.07 137.80 L158.86 137.80 L158.65 137.80 L158.44 137.79 L158.23 137.78 L158.02 137.76 L157.81 137.74 L157.61 137.71 L157.40 137.68 L157.19 137.65 L156.98 137.61 L156.78 137.57 L156.57 137.52 L156.37 137.47 L156.17 137.41 L155.97 137.35 L155.77 137.29 L155.57 137.22 L155.37 137.15 L155.18 137.07 L154.98 136.99 L154.79 136.90 L154.60 136.82 L154.41 136.72 L154.22 136.63 L154.04 136.52 L153.85 136.42 L153.67 136.31 L153.49 136.20 L153.31 136.08 L153.14 135.96 L152.97 135.84 L152.80 135.72 L152.63 135.59 L152.46 135.45 L152.30 135.31 L152.14 135.17 L151.99 135.03 L151.83 134.88 L151.68 134.73 L151.53 134.58 L151.39 134.43 L151.24 134.27 L151.10 134.10 L150.97 133.94 L150.83 133.77 L150.70 133.60 L150.58 133.43 L150.45 133.25 L150.33 133.08 L150.22 132.90 L150.11 132.71 L150.00 132.53 L149.89 132.34 L149.79 132.15 L149.69 131.96 L149.59 131.77 L149.50 131.57 L149.42 131.38 L149.33 131.18 L149.25 130.98 L149.18 130.78 L149.11 130.57 L149.04 130.37 L148.97 130.16 L148.91 129.96 L148.86 129.75 L148.80 129.54 L148.76 129.33 L148.71 129.12 L148.67 128.91 L148.64 128.70 L148.60 128.48 L148.58 128.27 L148.55 128.06 L148.53 127.84 L148.52 127.63 L148.51 127.41 L148.50 127.20 L148.50 126.98 L148.50 126.77 L148.50 126.55 L148.51 126.34 L148.52 126.12 L148.54 125.91 L148.56 125.70 L148.59 125.48 L148.62 125.27 L148.65 125.06 L148.69 124.85 L148.73 124.64 L148.78 124.43 L148.83 124.23 L148.88 124.02 L148.94 123.81 L149.00 123.61 L149.06 123.41 L149.13 123.21 L149.20 123.01 L149.28 122.81 L149.36 122.61 L149.44 122.42 L149.53 122.23 L149.62 122.04 L149.72 121.85 L149.82 121.66 L149.92 121.48 L150.02 121.30 L150.13 121.12 L150.24 120.94 L150.36 120.77 L150.48 120.60 L150.60 120.43 L150.72 120.26 L150.85 120.10 L150.98 119.93 L151.11 119.78 L151.25 119.62 L151.39 119.47 L151.53 119.32 L151.68 119.17 L151.82 119.03 L151.98 118.89 L152.13 118.75 L152.28 118.62 L152.44 118.49 L152.60 118.36 L152.76 118.24 L152.93 118.12 L153.09 118.00 L153.26 117.89 L153.43 117.78 L153.61 117.67 L153.78 117.57 L153.96 117.47 L154.13 117.38 L154.31 117.29 L154.50 117.20 L154.68 117.12 L154.86 117.04 L155.05 116.96 L155.23 116.89 L155.42 116.83 L155.61 116.76 L155.80 116.70 L155.99 116.65 L156.19 116.60 L156.38 116.55 L156.57 116.51 L156.77 116.47" fill="none" stroke="#d7ead9" stroke-opacity="0.62" stroke-width="0.7"/>
<g fill="#000"><circle cx="80.76" cy="89.58" r="2.05"/><circle cx="85.24" cy="85.74" r="2.05"/><circle cx="89.54" cy="81.71" r="2.05"/><circle cx="93.68" cy="77.51" r="2.05"/><circle cx="97.95" cy="73.44" r="2.05"/><circle cx="102.76" cy="70.04" r="2.05"/><circle cx="108.04" cy="67.41" r="2.05"/><circle cx="113.43" cy="65.01" r="2.05"/><circle cx="118.91" cy="62.83" r="2.05"/><circle cx="124.28" cy="60.39" r="2.05"/><circle cx="129.65" cy="57.94" r="2.05"/><circle cx="135.18" cy="55.90" r="2.05"/><circle cx="140.83" cy="54.19" r="2.05"/><circle cx="146.63" cy="53.12" r="2.05"/><circle cx="152.51" cy="52.66" r="2.05"/><circle cx="158.41" cy="52.59" r="2.05"/><circle cx="164.31" cy="52.63" r="2.05"/><circle cx="170.20" cy="52.92" r="2.05"/><circle cx="176.07" cy="53.44" r="2.05"/><circle cx="181.82" cy="54.76" r="2.05"/></g>
<g fill="#000"><circle cx="78.00" cy="162.40" r="2.05"/><circle cx="82.32" cy="166.42" r="2.05"/><circle cx="86.62" cy="170.46" r="2.05"/><circle cx="90.90" cy="174.52" r="2.05"/><circle cx="95.11" cy="178.65" r="2.05"/><circle cx="99.34" cy="182.76" r="2.05"/><circle cx="103.86" cy="186.55" r="2.05"/><circle cx="108.46" cy="190.25" r="2.05"/><circle cx="113.34" cy="193.55" r="2.05"/><circle cx="118.35" cy="196.64" r="2.05"/><circle cx="123.54" cy="199.40" r="2.05"/><circle cx="129.03" cy="201.56" r="2.05"/><circle cx="134.66" cy="203.31" r="2.05"/><circle cx="140.41" cy="204.64" r="2.05"/><circle cx="146.21" cy="205.68" r="2.05"/><circle cx="152.08" cy="206.35" r="2.05"/><circle cx="157.95" cy="206.84" r="2.05"/><circle cx="163.84" cy="207.18" r="2.05"/><circle cx="169.74" cy="207.16" r="2.05"/><circle cx="175.62" cy="206.72" r="2.05"/><circle cx="181.43" cy="205.66" r="2.05"/><circle cx="187.10" cy="204.06" r="2.05"/><circle cx="192.67" cy="202.10" r="2.05"/><circle cx="198.16" cy="199.95" r="2.05"/><circle cx="203.59" cy="197.65" r="2.05"/><circle cx="208.93" cy="195.13" r="2.05"/><circle cx="214.20" cy="192.48" r="2.05"/></g>
<g fill="#000"><circle cx="126.01" cy="219.59" r="2.05"/><circle cx="131.63" cy="221.40" r="2.05"/><circle cx="137.38" cy="222.70" r="2.05"/><circle cx="143.19" cy="223.70" r="2.05"/><circle cx="149.04" cy="224.50" r="2.05"/><circle cx="154.92" cy="224.94" r="2.05"/><circle cx="160.81" cy="225.19" r="2.05"/><circle cx="166.71" cy="225.34" r="2.05"/><circle cx="172.61" cy="225.22" r="2.05"/><circle cx="178.50" cy="224.85" r="2.05"/><circle cx="184.35" cy="224.08" r="2.05"/><circle cx="190.16" cy="223.05" r="2.05"/></g>
<g stroke="#1a1718" stroke-width="1.35" fill="#1a1718">
<line x1="78" y1="162.4" x2="113.9" y2="147.8"/>
<circle cx="113.9" cy="147.8" r="2.6" stroke="none"/>
<circle cx="78.3" cy="162.4" r="1.8" stroke="none"/>
<path d="M89.6 159.9 L94.0 155.3 L95.0 160.2Z" stroke="none"/>
<line x1="194.5" y1="166.5" x2="219" y2="191"/>
<circle cx="194.5" cy="166.5" r="2.6" stroke="none"/>
<path d="M212.2 184.2 L206.6 182.6 L210.6 178.6Z" stroke="none"/>
</g>
<path d="M75.6 82.0 L67.3 83.0 L70.6 85.6 L71.6 89.8Z" fill="#231f20"/>
<path d="M60.6 84.9 L65.6 81.6 L66.6 79.0 L62.6 80.6 L59.8 82.8Z" fill="#000"/>
<circle cx="184.8" cy="56.1" r="4.8" fill="#ed1c24"/>
<circle cx="124.6" cy="199.8" r="4.6" fill="#ed1c24"/>
<circle cx="122.3" cy="219.0" r="4.6" fill="#ed1c24"/>
<circle cx="158.7" cy="126.7" r="3.7" fill="#2e3192"/>
</g>
<path d="M34.00 50.00 L34.50 49.99 L35.00 49.98 L35.50 49.97 L36.00 49.96 L36.50 49.96 L37.00 49.95 L37.50 49.94 L38.00 49.94 L38.50 49.93 L39.00 49.92 L39.50 49.91 L40.00 49.89 L40.50 49.87 L41.00 49.85 L41.50 49.83 L42.00 49.80 L42.50 49.77 L43.00 49.74 L43.50 49.71 L44.00 49.68 L44.50 49.65 L45.00 49.62 L45.50 49.59 L46.00 49.55 L46.50 49.50 L47.00 49.45 L47.50 49.39 L48.00 49.33 L48.50 49.26 L49.00 49.18 L49.50 49.09 L50.00 49.00 L50.50 48.90 L51.00 48.80 L51.50 48.69 L52.00 48.58 L52.50 48.46 L53.00 48.34 L53.50 48.22 L54.00 48.09 L54.50 47.96 L55.00 47.83 L55.50 47.69 L56.00 47.55 L56.50 47.41 L57.00 47.26 L57.50 47.11 L58.00 46.96 L58.50 46.80 L59.00 46.64 L59.50 46.47 L60.00 46.30 L60.50 46.13 L61.00 45.95 L61.50 45.76 L62.00 45.57 L62.50 45.38 L63.00 45.19 L63.50 44.99 L64.00 44.79 L64.50 44.58 L65.00 44.38 L65.50 44.17 L66.00 43.96 L66.50 43.75 L67.00 43.53 L67.50 43.32 L68.00 43.10 L68.50 42.89 L69.00 42.67 L69.50 42.45 L70.00 42.23 L70.50 42.02 L71.00 41.80 L71.50 41.58 L72.00 41.36 L72.50 41.14 L73.00 40.91 L73.50 40.69 L74.00 40.46 L74.50 40.23 L75.00 40.00 L75.50 39.76 L76.00 39.53 L76.50 39.29 L77.00 39.06 L77.50 38.83 L78.00 38.59 L78.50 38.36 L79.00 38.12 L79.50 37.89 L80.00 37.66 L80.50 37.43 L81.00 37.20 L81.50 36.97 L82.00 36.74 L82.50 36.51 L83.00 36.28 L83.50 36.05 L84.00 35.82 L84.50 35.59 L85.00 35.36 L85.50 35.13 L86.00 34.90 L86.50 34.68 L87.00 34.45 L87.50 34.22 L88.00 34.00 L88.50 33.78 L89.00 33.56 L89.50 33.34 L90.00 33.12 L90.50 32.91 L91.00 32.70 L91.50 32.49 L92.00 32.29 L92.50 32.09 L93.00 31.90 L93.50 31.70 L94.00 31.51 L94.50 31.33 L95.00 31.14 L95.50 30.96 L96.00 30.77 L96.50 30.59 L97.00 30.41 L97.50 30.23 L98.00 30.04 L98.50 29.86 L99.00 29.67 L99.50 29.49 L100.00 29.30 L100.50 29.11 L101.00 28.92 L101.50 28.72 L102.00 28.53 L102.50 28.34 L103.00 28.14 L103.50 27.95 L104.00 27.75 L104.50 27.56 L105.00 27.36 L105.50 27.17 L106.00 26.98 L106.50 26.79 L107.00 26.60 L107.50 26.41 L108.00 26.22 L108.50 26.04 L109.00 25.86 L109.50 25.68 L110.00 25.50 L110.50 25.33 L111.00 25.15 L111.50 24.98 L112.00 24.81 L112.50 24.64 L113.00 24.47 L113.50 24.30 L114.00 24.13 L114.50 23.97 L115.00 23.81 L115.50 23.65 L116.00 23.49 L116.50 23.33 L117.00 23.18 L117.50 23.02 L118.00 22.87 L118.50 22.73 L119.00 22.58 L119.50 22.44 L120.00 22.30 L120.50 22.16 L121.00 22.03 L121.50 21.90 L122.00 21.77 L122.50 21.64 L123.00 21.52 L123.50 21.39 L124.00 21.27 L124.50 21.15 L125.00 21.04 L125.50 20.92 L126.00 20.81 L126.50 20.70 L127.00 20.60 L127.50 20.49 L128.00 20.39 L128.50 20.29 L129.00 20.19 L129.50 20.09 L130.00 20.00 L130.50 19.91 L131.00 19.82 L131.50 19.73 L132.00 19.65 L132.50 19.57 L133.00 19.49 L133.50 19.41 L134.00 19.34 L134.50 19.26 L135.00 19.19 L135.50 19.13 L136.00 19.06 L136.50 19.00 L137.00 18.93 L137.50 18.87 L138.00 18.81 L138.50 18.76 L139.00 18.70 L139.50 18.65 L140.00 18.60 L140.50 18.55 L141.00 18.50 L141.50 18.46 L142.00 18.42 L142.50 18.38 L143.00 18.34 L143.50 18.31 L144.00 18.27 L144.50 18.24 L145.00 18.21 L145.50 18.18 L146.00 18.16 L146.50 18.13 L147.00 18.11 L147.50 18.09 L148.00 18.07 L148.50 18.05 L149.00 18.03 L149.50 18.02 L150.00 18.00 L150.50 17.99 L151.00 17.97 L151.50 17.96 L152.00 17.95 L152.50 17.95 L153.00 17.94 L153.50 17.94 L154.00 17.93 L154.50 17.93 L155.00 17.93 L155.50 17.93 L156.00 17.94 L156.50 17.94 L157.00 17.94 L157.50 17.95 L158.00 17.96 L158.50 17.97 L159.00 17.98 L159.50 17.99 L160.00 18.00 L160.50 18.01 L161.00 18.03 L161.50 18.04 L162.00 18.06 L162.50 18.08 L163.00 18.09 L163.50 18.11 L164.00 18.14 L164.50 18.16 L165.00 18.18 L165.50 18.21 L166.00 18.23 L166.50 18.26 L167.00 18.29 L167.50 18.32 L168.00 18.35 L168.50 18.39 L169.00 18.42 L169.50 18.46 L170.00 18.50 L170.50 18.54 L171.00 18.58 L171.50 18.62 L172.00 18.67 L172.50 18.71 L173.00 18.76 L173.50 18.81 L174.00 18.86 L174.50 18.91 L175.00 18.96 L175.50 19.02 L176.00 19.07 L176.50 19.13 L177.00 19.19 L177.50 19.25 L178.00 19.32 L178.50 19.39 L179.00 19.45 L179.50 19.53 L180.00 19.60 L180.50 19.68 L181.00 19.75 L181.50 19.83 L182.00 19.91 L182.50 19.99 L183.00 20.08 L183.50 20.16 L184.00 20.25 L184.50 20.34 L185.00 20.43 L185.50 20.53 L186.00 20.62 L186.50 20.72 L187.00 20.82 L187.50 20.93 L188.00 21.04 L188.50 21.15 L189.00 21.26 L189.50 21.38 L190.00 21.50 L190.50 21.62 L191.00 21.75 L191.50 21.88 L192.00 22.02 L192.50 22.15 L193.00 22.29 L193.50 22.44 L194.00 22.58 L194.50 22.73 L195.00 22.88 L195.50 23.03 L196.00 23.19 L196.50 23.35 L197.00 23.51 L197.50 23.67 L198.00 23.83 L198.50 24.00 L199.00 24.16 L199.50 24.33 L200.00 24.50 L200.50 24.67 L201.00 24.84 L201.50 25.02 L202.00 25.19 L202.50 25.37 L203.00 25.55 L203.50 25.73 L204.00 25.91 L204.50 26.09 L205.00 26.28 L205.50 26.46 L206.00 26.65 L206.50 26.84 L207.00 27.03 L207.50 27.22 L208.00 27.41 L208.50 27.61 L209.00 27.80 L209.50 28.00 L210.00 28.20 L210.50 28.40 L211.00 28.60 L211.50 28.80 L212.00 29.01 L212.50 29.22 L213.00 29.43 L213.50 29.64 L214.00 29.85 L214.50 30.07 L215.00 30.29 L215.50 30.51 L216.00 30.73 L216.50 30.95 L217.00 31.18 L217.50 31.40 L218.00 31.63 L218.50 31.85 L219.00 32.08 L219.50 32.31 L220.00 32.54 L220.50 32.77 L221.00 33.00 L221.50 33.23 L222.00 33.47 L222.50 33.70 L223.00 33.94 L223.50 34.18 L224.00 34.42 L224.50 34.67 L225.00 34.91 L225.50 35.16 L226.00 35.40 L226.50 35.64 L227.00 35.89 L227.50 36.13 L228.00 36.38 L228.50 36.62 L229.00 36.86 L229.50 37.10 L230.00 37.33 L230.50 37.57 L231.00 37.80 L231.50 38.03 L232.00 38.26 L232.50 38.49 L233.00 38.71 L233.50 38.94 L234.00 39.17 L234.50 39.39 L235.00 39.62 L235.50 39.84 L236.00 40.06 L236.50 40.28 L237.00 40.50 L237.50 40.72 L238.00 40.93 L238.50 41.15 L239.00 41.36 L239.50 41.58 L240.00 41.79 L240.50 41.99 L241.00 42.20 L241.50 42.40 L242.00 42.61 L242.50 42.81 L243.00 43.01 L243.50 43.22 L244.00 43.41 L244.50 43.61 L245.00 43.81 L245.50 44.00 L246.00 44.19 L246.50 44.38 L247.00 44.56 L247.50 44.74 L248.00 44.92 L248.50 45.10 L249.00 45.27 L249.50 45.44 L250.00 45.60 L250.50 45.76 L251.00 45.92 L251.50 46.08 L252.00 46.23 L252.50 46.39 L253.00 46.54 L253.50 46.69 L254.00 46.83 L254.50 46.98 L255.00 47.12 L255.50 47.26 L256.00 47.40 L256.50 47.53 L257.00 47.67 L257.50 47.80 L258.00 47.92 L258.50 48.05 L259.00 48.17 L259.50 48.29 L260.00 48.40 L260.50 48.51 L261.00 48.61 L261.50 48.71 L262.00 48.81 L262.50 48.90 L263.00 48.98 L263.50 49.06 L264.00 49.13 L264.50 49.20 L265.00 49.27 L265.50 49.33 L266.00 49.39 L266.50 49.45 L267.00 49.50 L267.50 49.55 L268.00 49.60 L268.50 49.65 L269.00 49.69 L269.50 49.72 L270.00 49.75 L270.50 49.78 L271.00 49.81 L271.50 49.83 L272.00 49.85 L272.50 49.86 L273.00 49.88 L273.50 49.90 L274.00 49.91 L274.50 49.93 L275.00 49.95 L275.50 49.97 L276.00 49.99" fill="none" stroke="#ed1c24" stroke-width="1.6" clip-path="url(#ca)"/>
<g stroke="#231f20" fill="none">
<line x1="32.1" y1="5.2" x2="278.0" y2="5.2" stroke-width="2.6"/>
<line x1="33.1" y1="4" x2="33.1" y2="250.5" stroke-width="2.0"/>
<line x1="277.0" y1="4" x2="277.0" y2="250.5" stroke-width="2.0"/>
<line x1="32.1" y1="249.4" x2="278.0" y2="249.4" stroke-width="2.2"/>
</g>
<text x="41.2" y="26.0" font-family="Liberation Sans, sans-serif" font-size="23" fill="#231f20" stroke="#231f20" stroke-width="0.45">(a)</text>
<text transform="translate(245.2,37.0) skewX(-5)" font-family="Liberation Serif, serif" font-style="italic" font-size="27.5" fill="#ed1c24" stroke="#ed1c24" stroke-width="0.5">L</text>
<text x="192.2" y="52.2" font-family="Liberation Serif, serif" font-style="italic" font-size="22.8" fill="#ed1c24" stroke="#ed1c24" stroke-width="0.4">M</text>
<text x="209.3" y="57.7" font-family="Liberation Serif, serif" font-size="12" fill="#ed1c24" stroke="#ed1c24" stroke-width="0.3">1</text>
<text x="163.0" y="150.0" font-family="Liberation Serif, serif" font-style="italic" font-size="25" fill="#2e3192">O</text>
<text x="130.05" y="192.50" font-family="Liberation Serif, serif" font-style="italic" font-size="24" fill="#ed1c24">M</text>
<text x="129.35" y="192.35" font-family="Liberation Serif, serif" font-style="italic" font-size="24" fill="#ffffff">M</text>
<text x="148.25" y="197.10" font-family="Liberation Serif, serif" font-size="11.5" fill="#ed1c24">2</text>
<text x="147.70" y="197.00" font-family="Liberation Serif, serif" font-size="11.5" fill="#ffffff">2</text>
<text x="94.85" y="238.70" font-family="Liberation Serif, serif" font-style="italic" font-size="24" fill="#ed1c24">M</text>
<text x="94.15" y="238.55" font-family="Liberation Serif, serif" font-style="italic" font-size="24" fill="#ffffff">M</text>
<text x="112.55" y="243.10" font-family="Liberation Serif, serif" font-size="11.5" fill="#ed1c24">3</text>
<text x="112.00" y="243.00" font-family="Liberation Serif, serif" font-size="11.5" fill="#ffffff">3</text>
<text transform="translate(12.0,124.2) rotate(-90) scale(1.02,1.1)" text-anchor="middle" font-family="Liberation Sans, sans-serif" font-size="21" fill="#231f20" stroke="#231f20" stroke-width="0.35">ω</text>
<text transform="translate(155.9,293.2) scale(0.94,1)" text-anchor="middle" font-family="Liberation Sans, sans-serif" font-size="24" fill="#231f20" stroke="#231f20" stroke-width="0.3">θ</text>
<g stroke-linecap="butt">
<line x1="357.5" y1="35.0" x2="539.5" y2="22.9" stroke="#808285" stroke-width="1.6"/>
<line x1="357.5" y1="65.5" x2="539.5" y2="88.2" stroke="#ee1c25" stroke-width="2.0"/>
<line x1="357.5" y1="61.8" x2="539.5" y2="107.3" stroke="#0000ff" stroke-width="2.0"/>
</g>
<rect x="356.30" y="5.10" width="184.10" height="112.20" fill="none" stroke="#231f20" stroke-width="2.4"/>
<g stroke="#231f20" stroke-width="1.2">
<line x1="357" y1="59.8" x2="362.5" y2="59.8"/>
<line x1="419.3" y1="117" x2="419.3" y2="114.2"/>
<line x1="480.5" y1="117" x2="480.5" y2="114.2"/>
</g>
<text x="360.8" y="26.7" font-family="Liberation Sans, sans-serif" font-size="23" fill="#231f20" stroke="#231f20" stroke-width="0.45">(b)</text>
<text x="424.0" y="22.9" font-family="Liberation Sans, sans-serif" font-size="19.5" fill="#231f20" stroke="#231f20" stroke-width="0.55">σ</text>
<text x="436.8" y="27.0" font-family="Liberation Serif, serif" font-size="12" fill="#231f20" stroke="#231f20" stroke-width="0.35">3</text>
<text x="491.0" y="76.3" font-family="Liberation Sans, sans-serif" font-size="19.5" fill="#231f20" stroke="#231f20" stroke-width="0.55">σ</text>
<text x="503.8" y="80.4" font-family="Liberation Serif, serif" font-size="12" fill="#231f20" stroke="#231f20" stroke-width="0.35">1</text>
<text x="455.0" y="103.7" font-family="Liberation Sans, sans-serif" font-size="19.5" fill="#231f20" stroke="#231f20" stroke-width="0.55">σ</text>
<text x="467.8" y="107.8" font-family="Liberation Serif, serif" font-size="12" fill="#231f20" stroke="#231f20" stroke-width="0.35">2</text>
<text transform="translate(333.9,116.2) rotate(-90)" font-family="Liberation Sans, sans-serif" font-size="17" textLength="107" lengthAdjust="spacingAndGlyphs" fill="#231f20" stroke="#231f20" stroke-width="0.5">local thresholds</text>
<defs><clipPath id="cc"><rect x="357.9" y="140.2" width="181.2" height="108"/></clipPath></defs>
<g clip-path="url(#cc)">
<path d="M357.00 157.60 L357.82 158.40 L358.62 159.20 L359.42 160.01 L360.24 160.81 L361.09 161.61 L362.00 162.40 L362.82 163.10 L363.68 163.83 L364.57 164.56 L365.48 165.28 L366.40 165.95 L367.35 166.57 L368.30 167.10 L369.16 167.49 L369.88 167.74 L370.59 167.91 L371.38 168.07 L372.38 168.29 L373.68 168.65 L375.40 169.20 L376.08 169.44 L376.82 169.70 L377.62 169.97 L378.46 170.27 L379.34 170.58 L380.26 170.91 L381.21 171.25 L382.20 171.60 L383.21 171.97 L384.25 172.34 L385.30 172.72 L386.36 173.11 L387.43 173.50 L388.51 173.89 L389.58 174.29 L390.66 174.68 L391.72 175.08 L392.77 175.46 L393.80 175.85 L394.81 176.23 L395.80 176.60 L396.77 176.97 L397.75 177.35 L398.73 177.74 L399.71 178.13 L400.69 178.53 L401.68 178.94 L402.66 179.34 L403.64 179.75 L404.63 180.15 L405.61 180.56 L406.59 180.96 L407.57 181.36 L408.55 181.76 L409.52 182.15 L410.49 182.53 L411.45 182.90 L412.41 183.27 L413.37 183.62 L414.32 183.96 L415.26 184.29 L416.20 184.60 L417.21 184.93 L418.19 185.23 L419.13 185.52 L420.05 185.79 L420.96 186.05 L421.85 186.30 L422.73 186.53 L423.61 186.76 L424.50 186.99 L425.40 187.21 L426.32 187.43 L427.26 187.65 L428.23 187.88 L429.24 188.10 L430.28 188.34 L431.38 188.59 L432.52 188.84 L433.73 189.11 L435.00 189.40 L435.81 189.58 L436.63 189.76 L437.47 189.95 L438.33 190.14 L439.20 190.32 L440.08 190.51 L440.98 190.70 L441.89 190.90 L442.81 191.09 L443.75 191.29 L444.70 191.48 L445.66 191.68 L446.64 191.88 L447.63 192.09 L448.62 192.29 L449.63 192.50 L450.65 192.70 L451.68 192.91 L452.72 193.13 L453.76 193.34 L454.82 193.55 L455.89 193.77 L456.96 193.99 L458.04 194.21 L459.13 194.43 L460.22 194.65 L461.33 194.88 L462.44 195.11 L463.55 195.34 L464.67 195.57 L465.80 195.80 L466.68 195.98 L467.58 196.17 L468.48 196.36 L469.40 196.56 L470.33 196.76 L471.26 196.96 L472.21 197.17 L473.17 197.38 L474.13 197.59 L475.11 197.80 L476.09 198.02 L477.07 198.24 L478.07 198.46 L479.07 198.68 L480.07 198.90 L481.08 199.12 L482.09 199.34 L483.10 199.56 L484.12 199.78 L485.14 200.01 L486.16 200.23 L487.18 200.45 L488.20 200.66 L489.22 200.88 L490.24 201.10 L491.26 201.31 L492.27 201.52 L493.28 201.73 L494.29 201.93 L495.30 202.13 L496.30 202.33 L497.29 202.52 L498.28 202.71 L499.27 202.90 L500.24 203.08 L501.21 203.25 L502.17 203.42 L503.12 203.59 L504.07 203.75 L505.00 203.90 L506.06 204.07 L507.11 204.23 L508.15 204.38 L509.19 204.53 L510.22 204.68 L511.25 204.82 L512.27 204.95 L513.29 205.08 L514.30 205.20 L515.31 205.32 L516.31 205.44 L517.31 205.55 L518.31 205.66 L519.30 205.76 L520.29 205.87 L521.28 205.97 L522.27 206.06 L523.25 206.16 L524.24 206.26 L525.22 206.35 L526.20 206.44 L527.18 206.53 L528.16 206.63 L529.14 206.72 L530.12 206.81 L531.10 206.90 L532.08 206.99 L533.07 207.09 L534.05 207.18 L535.04 207.28 L536.02 207.38 L537.01 207.48 L538.01 207.58 L539.00 207.69 L540.00 207.80 L540.00 216.00 L539.00 215.84 L538.01 215.68 L537.01 215.52 L536.02 215.37 L535.04 215.21 L534.05 215.05 L533.07 214.90 L532.08 214.74 L531.10 214.59 L530.12 214.43 L529.14 214.28 L528.16 214.12 L527.18 213.97 L526.20 213.81 L525.22 213.66 L524.24 213.50 L523.25 213.35 L522.27 213.19 L521.28 213.03 L520.29 212.88 L519.30 212.72 L518.31 212.56 L517.31 212.40 L516.31 212.24 L515.31 212.08 L514.30 211.92 L513.29 211.75 L512.27 211.59 L511.25 211.42 L510.22 211.26 L509.19 211.09 L508.15 210.92 L507.11 210.75 L506.06 210.57 L505.00 210.40 L504.04 210.24 L503.08 210.08 L502.10 209.92 L501.11 209.76 L500.12 209.60 L499.12 209.44 L498.11 209.27 L497.09 209.11 L496.07 208.94 L495.04 208.77 L494.01 208.61 L492.97 208.44 L491.93 208.27 L490.89 208.10 L489.85 207.93 L488.80 207.76 L487.75 207.59 L486.71 207.42 L485.66 207.24 L484.61 207.07 L483.57 206.90 L482.53 206.72 L481.49 206.55 L480.46 206.37 L479.43 206.19 L478.40 206.02 L477.38 205.84 L476.37 205.66 L475.36 205.49 L474.36 205.31 L473.37 205.13 L472.38 204.95 L471.41 204.77 L470.45 204.60 L469.49 204.42 L468.55 204.24 L467.62 204.06 L466.70 203.88 L465.80 203.70 L464.67 203.47 L463.55 203.24 L462.44 202.99 L461.33 202.75 L460.22 202.50 L459.13 202.24 L458.04 201.98 L456.96 201.72 L455.89 201.46 L454.82 201.19 L453.76 200.93 L452.72 200.66 L451.68 200.40 L450.65 200.13 L449.63 199.87 L448.62 199.61 L447.63 199.35 L446.64 199.10 L445.66 198.85 L444.70 198.60 L443.75 198.36 L442.81 198.13 L441.89 197.90 L440.98 197.68 L440.08 197.47 L439.20 197.27 L438.33 197.07 L437.47 196.89 L436.63 196.71 L435.81 196.55 L435.00 196.40 L433.65 196.17 L432.34 195.98 L431.08 195.82 L429.87 195.70 L428.70 195.60 L427.56 195.52 L426.47 195.46 L425.40 195.41 L424.37 195.37 L423.38 195.33 L422.40 195.30 L421.46 195.26 L420.54 195.21 L419.64 195.15 L418.75 195.07 L417.89 194.98 L417.04 194.85 L416.20 194.70 L414.98 194.42 L413.83 194.10 L412.74 193.74 L411.71 193.35 L410.73 192.95 L409.80 192.53 L408.91 192.11 L408.07 191.70 L407.26 191.31 L406.48 190.94 L405.73 190.60 L405.00 190.30 L403.70 189.78 L402.61 189.31 L401.68 188.91 L400.81 188.57 L399.94 188.30 L399.00 188.10 L397.99 188.05 L396.96 188.18 L395.94 188.38 L394.93 188.53 L393.94 188.54 L393.00 188.30 L392.30 187.86 L391.72 187.27 L391.19 186.55 L390.62 185.75 L389.95 184.92 L389.10 184.09 L388.00 183.30 L387.30 182.90 L386.54 182.52 L385.73 182.14 L384.87 181.76 L383.97 181.38 L383.03 181.00 L382.04 180.60 L381.01 180.19 L379.95 179.77 L378.86 179.32 L377.73 178.84 L376.58 178.34 L375.40 177.80 L374.61 177.43 L373.79 177.04 L372.95 176.64 L372.09 176.22 L371.21 175.80 L370.31 175.36 L369.39 174.91 L368.46 174.45 L367.51 173.99 L366.56 173.52 L365.60 173.04 L364.64 172.57 L363.67 172.09 L362.70 171.61 L361.74 171.13 L360.77 170.66 L359.82 170.18 L358.87 169.72 L357.93 169.25 L357.00 168.80Z" fill="#bfc1ea"/>
<path d="M357.00 163.80 L357.87 164.34 L358.74 164.89 L359.61 165.44 L360.48 165.99 L361.34 166.55 L362.20 167.11 L363.06 167.67 L363.92 168.24 L364.78 168.80 L365.64 169.35 L366.51 169.91 L367.37 170.46 L368.24 171.01 L369.12 171.55 L370.00 172.08 L370.88 172.61 L371.77 173.13 L372.67 173.64 L373.57 174.14 L374.48 174.62 L375.40 175.10 L376.29 175.54 L377.18 175.98 L378.08 176.41 L378.99 176.84 L379.90 177.25 L380.82 177.66 L381.74 178.07 L382.67 178.47 L383.60 178.86 L384.54 179.25 L385.47 179.63 L386.41 180.01 L387.36 180.38 L388.30 180.74 L389.24 181.10 L390.18 181.46 L391.12 181.81 L392.06 182.16 L393.00 182.50 L393.94 182.84 L394.87 183.17 L395.80 183.50 L396.77 183.84 L397.75 184.17 L398.73 184.50 L399.71 184.82 L400.69 185.13 L401.68 185.44 L402.66 185.74 L403.64 186.04 L404.63 186.33 L405.61 186.62 L406.59 186.90 L407.57 187.18 L408.55 187.45 L409.52 187.72 L410.49 187.99 L411.45 188.25 L412.41 188.50 L413.37 188.76 L414.32 189.01 L415.26 189.26 L416.20 189.50 L417.24 189.77 L418.29 190.03 L419.35 190.29 L420.41 190.54 L421.48 190.80 L422.54 191.04 L423.60 191.28 L424.66 191.52 L425.71 191.75 L426.74 191.97 L427.76 192.19 L428.76 192.41 L429.74 192.61 L430.69 192.81 L431.62 193.00 L432.52 193.19 L433.38 193.37 L434.21 193.54 L435.00 193.70 L436.34 193.97 L437.46 194.18 L438.42 194.34 L439.28 194.48 L440.10 194.60 L440.92 194.72 L441.81 194.86 L442.81 195.02 L443.99 195.23 L445.40 195.50 L446.19 195.66 L447.04 195.82 L447.92 196.00 L448.84 196.19 L449.80 196.39 L450.78 196.59 L451.80 196.81 L452.84 197.02 L453.90 197.25 L454.97 197.47 L456.06 197.70 L457.16 197.93 L458.26 198.16 L459.37 198.39 L460.47 198.62 L461.56 198.84 L462.64 199.07 L463.71 199.28 L464.77 199.50 L465.80 199.70 L466.82 199.90 L467.85 200.10 L468.88 200.30 L469.91 200.50 L470.94 200.69 L471.97 200.89 L473.00 201.08 L474.04 201.28 L475.07 201.47 L476.10 201.66 L477.13 201.85 L478.16 202.04 L479.18 202.23 L480.20 202.42 L481.21 202.61 L482.22 202.80 L483.23 202.99 L484.22 203.17 L485.22 203.36 L486.20 203.55 L487.22 203.74 L488.23 203.93 L489.23 204.12 L490.22 204.31 L491.20 204.50 L492.17 204.69 L493.14 204.88 L494.11 205.06 L495.07 205.25 L496.03 205.43 L497.00 205.62 L497.97 205.81 L498.94 205.99 L499.92 206.18 L500.91 206.37 L501.91 206.56 L502.93 206.76 L503.96 206.95 L505.00 207.15 L505.97 207.33 L506.96 207.52 L507.97 207.71 L509.00 207.90 L510.04 208.09 L511.10 208.29 L512.16 208.49 L513.23 208.68 L514.31 208.88 L515.38 209.08 L516.45 209.28 L517.51 209.47 L518.56 209.67 L519.59 209.86 L520.61 210.05 L521.61 210.24 L522.59 210.42 L523.54 210.60 L524.46 210.78 L525.35 210.95 L526.20 211.12 L527.41 211.36 L528.56 211.59 L529.65 211.81 L530.68 212.02 L531.67 212.23 L532.63 212.43 L533.56 212.63 L534.47 212.82 L535.37 213.01 L536.27 213.21 L537.18 213.40 L538.09 213.60 L539.03 213.80 L540.00 214.00" fill="none" stroke="#0a0aff" stroke-width="1.45"/>
<path d="M357.00 176.30 L357.92 176.77 L358.83 177.25 L359.74 177.73 L360.65 178.22 L361.55 178.70 L362.46 179.19 L363.36 179.68 L364.26 180.17 L365.17 180.66 L366.07 181.14 L366.98 181.63 L367.90 182.11 L368.81 182.58 L369.73 183.05 L370.66 183.51 L371.59 183.97 L372.53 184.41 L373.48 184.85 L374.43 185.28 L375.40 185.70 L376.33 186.09 L377.26 186.47 L378.21 186.84 L379.16 187.21 L380.12 187.57 L381.08 187.92 L382.05 188.27 L383.03 188.61 L384.00 188.95 L384.98 189.28 L385.97 189.61 L386.95 189.94 L387.94 190.26 L388.93 190.59 L389.91 190.90 L390.90 191.22 L391.88 191.54 L392.87 191.85 L393.85 192.17 L394.83 192.48 L395.80 192.80 L396.77 193.12 L397.75 193.44 L398.73 193.75 L399.71 194.07 L400.69 194.39 L401.68 194.71 L402.66 195.02 L403.64 195.34 L404.63 195.65 L405.61 195.95 L406.59 196.26 L407.57 196.56 L408.55 196.85 L409.52 197.14 L410.49 197.43 L411.45 197.71 L412.41 197.98 L413.37 198.25 L414.32 198.51 L415.26 198.76 L416.20 199.00 L417.21 199.25 L418.19 199.48 L419.13 199.69 L420.05 199.89 L420.96 200.07 L421.85 200.24 L422.73 200.40 L423.61 200.56 L424.50 200.72 L425.40 200.88 L426.32 201.04 L427.26 201.21 L428.23 201.39 L429.24 201.58 L430.28 201.78 L431.38 202.00 L432.52 202.24 L433.73 202.51 L435.00 202.80 L435.81 202.99 L436.63 203.20 L437.47 203.41 L438.33 203.63 L439.20 203.86 L440.08 204.10 L440.98 204.34 L441.89 204.59 L442.81 204.85 L443.75 205.11 L444.70 205.38 L445.66 205.65 L446.64 205.92 L447.63 206.20 L448.62 206.47 L449.63 206.75 L450.65 207.03 L451.68 207.31 L452.72 207.59 L453.76 207.86 L454.82 208.14 L455.89 208.41 L456.96 208.67 L458.04 208.94 L459.13 209.19 L460.22 209.45 L461.33 209.69 L462.44 209.93 L463.55 210.16 L464.67 210.39 L465.80 210.60 L466.70 210.77 L467.62 210.93 L468.55 211.10 L469.49 211.26 L470.45 211.42 L471.41 211.58 L472.38 211.74 L473.37 211.90 L474.36 212.05 L475.36 212.21 L476.37 212.36 L477.38 212.51 L478.40 212.66 L479.43 212.81 L480.46 212.95 L481.49 213.10 L482.53 213.24 L483.57 213.38 L484.61 213.52 L485.66 213.66 L486.71 213.79 L487.75 213.92 L488.80 214.05 L489.85 214.18 L490.89 214.31 L491.93 214.43 L492.97 214.55 L494.01 214.67 L495.04 214.79 L496.07 214.90 L497.09 215.01 L498.11 215.12 L499.12 215.22 L500.12 215.33 L501.11 215.43 L502.10 215.53 L503.08 215.62 L504.04 215.71 L505.00 215.80 L506.06 215.89 L507.11 215.98 L508.15 216.07 L509.19 216.14 L510.22 216.22 L511.25 216.29 L512.27 216.35 L513.29 216.41 L514.30 216.47 L515.31 216.52 L516.31 216.57 L517.31 216.62 L518.31 216.66 L519.30 216.70 L520.29 216.74 L521.28 216.77 L522.27 216.81 L523.25 216.84 L524.24 216.87 L525.22 216.90 L526.20 216.93 L527.18 216.96 L528.16 216.99 L529.14 217.02 L530.12 217.05 L531.10 217.08 L532.08 217.11 L533.07 217.14 L534.05 217.17 L535.04 217.20 L536.02 217.24 L537.01 217.27 L538.01 217.31 L539.00 217.36 L540.00 217.40 L540.00 224.20 L539.00 224.15 L538.01 224.10 L537.01 224.06 L536.02 224.01 L535.04 223.97 L534.05 223.93 L533.07 223.89 L532.08 223.86 L531.10 223.82 L530.12 223.78 L529.14 223.75 L528.16 223.71 L527.18 223.67 L526.20 223.64 L525.22 223.60 L524.24 223.56 L523.25 223.53 L522.27 223.49 L521.28 223.45 L520.29 223.40 L519.30 223.36 L518.31 223.31 L517.31 223.26 L516.31 223.21 L515.31 223.15 L514.30 223.10 L513.29 223.04 L512.27 222.97 L511.25 222.90 L510.22 222.83 L509.19 222.75 L508.15 222.67 L507.11 222.59 L506.06 222.50 L505.00 222.40 L504.04 222.31 L503.08 222.22 L502.10 222.12 L501.11 222.02 L500.12 221.92 L499.12 221.82 L498.11 221.72 L497.09 221.61 L496.07 221.50 L495.04 221.38 L494.01 221.27 L492.97 221.15 L491.93 221.03 L490.89 220.91 L489.85 220.79 L488.80 220.66 L487.75 220.53 L486.71 220.40 L485.66 220.27 L484.61 220.14 L483.57 220.00 L482.53 219.87 L481.49 219.73 L480.46 219.59 L479.43 219.44 L478.40 219.30 L477.38 219.15 L476.37 219.01 L475.36 218.86 L474.36 218.71 L473.37 218.56 L472.38 218.40 L471.41 218.25 L470.45 218.09 L469.49 217.94 L468.55 217.78 L467.62 217.62 L466.70 217.46 L465.80 217.30 L464.67 217.09 L463.55 216.88 L462.44 216.66 L461.33 216.43 L460.22 216.20 L459.13 215.96 L458.04 215.72 L456.96 215.47 L455.89 215.22 L454.82 214.97 L453.76 214.71 L452.72 214.46 L451.68 214.20 L450.65 213.94 L449.63 213.67 L448.62 213.41 L447.63 213.15 L446.64 212.89 L445.66 212.63 L444.70 212.37 L443.75 212.12 L442.81 211.87 L441.89 211.62 L440.98 211.37 L440.08 211.13 L439.20 210.89 L438.33 210.66 L437.47 210.44 L436.63 210.22 L435.81 210.01 L435.00 209.80 L433.72 209.47 L432.48 209.15 L431.28 208.83 L430.12 208.52 L429.00 208.21 L427.92 207.91 L426.87 207.62 L425.85 207.33 L424.86 207.05 L423.90 206.78 L422.96 206.52 L422.05 206.27 L421.17 206.03 L420.30 205.79 L419.45 205.57 L418.62 205.36 L417.80 205.16 L416.99 204.97 L416.20 204.80 L414.88 204.53 L413.63 204.30 L412.46 204.11 L411.35 203.95 L410.30 203.82 L409.31 203.71 L408.37 203.63 L407.47 203.55 L406.62 203.50 L405.79 203.45 L405.00 203.40 L403.70 203.36 L402.61 203.41 L401.68 203.50 L400.81 203.61 L399.94 203.72 L399.00 203.80 L397.99 203.90 L396.96 204.06 L395.94 204.22 L394.93 204.30 L393.94 204.25 L393.00 204.00 L392.20 203.50 L391.54 202.78 L390.91 201.93 L390.19 201.02 L389.26 200.12 L388.00 199.30 L387.30 198.96 L386.54 198.64 L385.73 198.34 L384.87 198.04 L383.97 197.74 L383.03 197.44 L382.04 197.14 L381.01 196.83 L379.95 196.51 L378.86 196.17 L377.73 195.81 L376.58 195.42 L375.40 195.00 L374.57 194.70 L373.71 194.38 L372.82 194.05 L371.91 193.70 L370.97 193.35 L370.02 192.99 L369.05 192.62 L368.06 192.24 L367.06 191.86 L366.06 191.48 L365.05 191.09 L364.03 190.69 L363.01 190.30 L361.99 189.91 L360.98 189.52 L359.97 189.13 L358.97 188.75 L357.98 188.37 L357.00 188.00Z" fill="#dfe1e3"/>
<path d="M357.00 183.40 L357.97 183.80 L358.93 184.20 L359.88 184.60 L360.84 185.00 L361.79 185.41 L362.74 185.82 L363.69 186.22 L364.64 186.63 L365.60 187.04 L366.55 187.44 L367.51 187.84 L368.47 188.24 L369.44 188.64 L370.42 189.03 L371.40 189.41 L372.38 189.79 L373.38 190.17 L374.38 190.54 L375.40 190.90 L376.33 191.22 L377.26 191.54 L378.21 191.85 L379.16 192.16 L380.12 192.47 L381.08 192.77 L382.05 193.07 L383.03 193.37 L384.00 193.66 L384.98 193.96 L385.97 194.24 L386.95 194.53 L387.94 194.81 L388.93 195.09 L389.91 195.37 L390.90 195.65 L391.88 195.92 L392.87 196.19 L393.85 196.46 L394.83 196.73 L395.80 197.00 L396.77 197.26 L397.75 197.53 L398.73 197.79 L399.71 198.04 L400.69 198.29 L401.68 198.54 L402.66 198.79 L403.64 199.04 L404.63 199.28 L405.61 199.52 L406.59 199.76 L407.57 200.00 L408.55 200.24 L409.52 200.47 L410.49 200.71 L411.45 200.94 L412.41 201.17 L413.37 201.41 L414.32 201.64 L415.26 201.87 L416.20 202.10 L417.24 202.36 L418.29 202.61 L419.35 202.87 L420.41 203.13 L421.48 203.39 L422.54 203.64 L423.60 203.90 L424.66 204.15 L425.71 204.41 L426.74 204.66 L427.76 204.90 L428.76 205.14 L429.74 205.38 L430.69 205.62 L431.62 205.85 L432.52 206.07 L433.38 206.29 L434.21 206.50 L435.00 206.70 L436.34 207.06 L437.46 207.38 L438.42 207.66 L439.28 207.93 L440.10 208.19 L440.92 208.45 L441.81 208.73 L442.81 209.02 L443.99 209.34 L445.40 209.70 L446.19 209.90 L447.04 210.11 L447.92 210.33 L448.84 210.56 L449.80 210.80 L450.78 211.04 L451.80 211.29 L452.84 211.54 L453.90 211.80 L454.97 212.05 L456.06 212.31 L457.16 212.56 L458.26 212.82 L459.37 213.07 L460.47 213.31 L461.56 213.55 L462.64 213.77 L463.71 213.99 L464.77 214.20 L465.80 214.40 L466.82 214.59 L467.85 214.77 L468.88 214.94 L469.91 215.11 L470.94 215.28 L471.97 215.44 L473.00 215.59 L474.04 215.74 L475.07 215.89 L476.10 216.03 L477.13 216.17 L478.16 216.30 L479.18 216.44 L480.20 216.57 L481.21 216.70 L482.22 216.83 L483.23 216.96 L484.22 217.09 L485.22 217.22 L486.20 217.35 L487.26 217.48 L488.27 217.62 L489.24 217.74 L490.17 217.87 L491.09 217.98 L491.99 218.10 L492.88 218.21 L493.78 218.32 L494.69 218.43 L495.62 218.54 L496.59 218.65 L497.59 218.77 L498.65 218.88 L499.76 219.00 L500.95 219.13 L502.21 219.26 L503.56 219.40 L505.00 219.55 L505.78 219.63 L506.59 219.71 L507.42 219.79 L508.27 219.87 L509.15 219.96 L510.05 220.05 L510.96 220.13 L511.90 220.22 L512.85 220.31 L513.82 220.40 L514.80 220.49 L515.80 220.59 L516.81 220.68 L517.83 220.77 L518.87 220.87 L519.91 220.97 L520.96 221.06 L522.02 221.16 L523.08 221.25 L524.15 221.35 L525.22 221.45 L526.30 221.55 L527.37 221.65 L528.45 221.74 L529.53 221.84 L530.60 221.94 L531.67 222.04 L532.74 222.13 L533.80 222.23 L534.86 222.33 L535.91 222.42 L536.95 222.52 L537.98 222.61 L538.99 222.71 L540.00 222.80" fill="none" stroke="#1c191a" stroke-width="1.90"/>
<path d="M357.00 199.00 L357.97 199.32 L358.93 199.64 L359.88 199.96 L360.84 200.28 L361.79 200.61 L362.74 200.93 L363.69 201.25 L364.64 201.57 L365.60 201.89 L366.55 202.21 L367.51 202.53 L368.47 202.85 L369.44 203.17 L370.42 203.49 L371.40 203.82 L372.38 204.14 L373.38 204.46 L374.38 204.78 L375.40 205.10 L376.33 205.39 L377.26 205.69 L378.21 205.99 L379.16 206.29 L380.12 206.60 L381.08 206.90 L382.05 207.21 L383.03 207.51 L384.00 207.82 L384.98 208.12 L385.97 208.43 L386.95 208.73 L387.94 209.02 L388.93 209.31 L389.91 209.60 L390.90 209.89 L391.88 210.16 L392.87 210.43 L393.85 210.70 L394.83 210.95 L395.80 211.20 L396.82 211.45 L397.85 211.70 L398.88 211.94 L399.91 212.17 L400.94 212.40 L401.97 212.62 L403.00 212.84 L404.04 213.05 L405.07 213.26 L406.10 213.46 L407.13 213.66 L408.16 213.86 L409.18 214.05 L410.20 214.24 L411.21 214.42 L412.22 214.60 L413.23 214.78 L414.22 214.96 L415.22 215.13 L416.20 215.30 L417.27 215.48 L418.29 215.66 L419.29 215.83 L420.25 215.99 L421.20 216.15 L422.14 216.30 L423.07 216.45 L424.01 216.59 L424.95 216.73 L425.91 216.87 L426.89 217.01 L427.90 217.14 L428.95 217.28 L430.05 217.42 L431.19 217.56 L432.39 217.70 L433.66 217.85 L435.00 218.00 L435.84 218.09 L436.69 218.18 L437.56 218.28 L438.44 218.37 L439.34 218.46 L440.26 218.56 L441.19 218.65 L442.13 218.74 L443.09 218.84 L444.07 218.93 L445.05 219.03 L446.05 219.12 L447.06 219.22 L448.09 219.31 L449.12 219.41 L450.17 219.50 L451.23 219.60 L452.30 219.69 L453.38 219.78 L454.47 219.88 L455.56 219.97 L456.67 220.07 L457.79 220.16 L458.91 220.25 L460.04 220.34 L461.18 220.44 L462.33 220.53 L463.48 220.62 L464.64 220.71 L465.80 220.80 L466.70 220.87 L467.62 220.94 L468.55 221.01 L469.49 221.08 L470.45 221.15 L471.41 221.22 L472.38 221.29 L473.37 221.36 L474.36 221.43 L475.36 221.51 L476.37 221.58 L477.38 221.65 L478.40 221.72 L479.43 221.79 L480.46 221.86 L481.49 221.93 L482.53 222.00 L483.57 222.07 L484.61 222.14 L485.66 222.21 L486.71 222.28 L487.75 222.35 L488.80 222.41 L489.85 222.48 L490.89 222.55 L491.93 222.61 L492.97 222.68 L494.01 222.75 L495.04 222.81 L496.07 222.87 L497.09 222.93 L498.11 223.00 L499.12 223.06 L500.12 223.12 L501.11 223.18 L502.10 223.23 L503.08 223.29 L504.04 223.35 L505.00 223.40 L506.06 223.46 L507.11 223.52 L508.15 223.57 L509.19 223.63 L510.22 223.68 L511.25 223.73 L512.27 223.78 L513.29 223.83 L514.30 223.88 L515.31 223.93 L516.31 223.98 L517.31 224.02 L518.31 224.07 L519.30 224.11 L520.29 224.16 L521.28 224.20 L522.27 224.24 L523.25 224.28 L524.24 224.33 L525.22 224.37 L526.20 224.41 L527.18 224.45 L528.16 224.49 L529.14 224.53 L530.12 224.57 L531.10 224.61 L532.08 224.65 L533.07 224.70 L534.05 224.74 L535.04 224.78 L536.02 224.82 L537.01 224.87 L538.01 224.91 L539.00 224.95 L540.00 225.00 L540.00 231.40 L539.00 231.36 L538.01 231.33 L537.01 231.29 L536.02 231.26 L535.04 231.23 L534.05 231.19 L533.07 231.16 L532.08 231.13 L531.10 231.09 L530.12 231.06 L529.14 231.03 L528.16 230.99 L527.18 230.96 L526.20 230.93 L525.22 230.90 L524.24 230.86 L523.25 230.83 L522.27 230.80 L521.28 230.76 L520.29 230.73 L519.30 230.69 L518.31 230.66 L517.31 230.62 L516.31 230.59 L515.31 230.55 L514.30 230.51 L513.29 230.48 L512.27 230.44 L511.25 230.40 L510.22 230.36 L509.19 230.32 L508.15 230.28 L507.11 230.24 L506.06 230.19 L505.00 230.15 L504.04 230.11 L503.08 230.07 L502.10 230.03 L501.11 229.99 L500.12 229.95 L499.12 229.91 L498.11 229.87 L497.09 229.83 L496.07 229.79 L495.04 229.75 L494.01 229.71 L492.97 229.67 L491.93 229.63 L490.89 229.59 L489.85 229.54 L488.80 229.50 L487.75 229.46 L486.71 229.41 L485.66 229.37 L484.61 229.32 L483.57 229.28 L482.53 229.23 L481.49 229.19 L480.46 229.14 L479.43 229.09 L478.40 229.04 L477.38 228.99 L476.37 228.94 L475.36 228.88 L474.36 228.83 L473.37 228.78 L472.38 228.72 L471.41 228.66 L470.45 228.61 L469.49 228.55 L468.55 228.49 L467.62 228.43 L466.70 228.36 L465.80 228.30 L464.64 228.21 L463.48 228.12 L462.33 228.03 L461.18 227.93 L460.04 227.83 L458.91 227.73 L457.79 227.62 L456.67 227.51 L455.56 227.40 L454.47 227.29 L453.38 227.18 L452.30 227.06 L451.23 226.95 L450.17 226.83 L449.12 226.72 L448.09 226.60 L447.06 226.48 L446.05 226.37 L445.05 226.25 L444.07 226.14 L443.09 226.02 L442.13 225.91 L441.19 225.80 L440.26 225.69 L439.34 225.59 L438.44 225.48 L437.56 225.38 L436.69 225.28 L435.84 225.19 L435.00 225.10 L433.65 224.95 L432.34 224.81 L431.07 224.67 L429.85 224.53 L428.67 224.39 L427.53 224.26 L426.42 224.12 L425.35 224.00 L424.31 223.88 L423.31 223.76 L422.33 223.64 L421.39 223.53 L420.46 223.43 L419.57 223.33 L418.70 223.24 L417.85 223.15 L417.01 223.07 L416.20 223.00 L414.80 222.90 L413.51 222.83 L412.31 222.80 L411.20 222.78 L410.17 222.78 L409.22 222.78 L408.33 222.77 L407.51 222.74 L406.73 222.69 L406.00 222.60 L404.62 222.25 L403.75 221.79 L403.01 221.29 L402.00 220.80 L401.11 220.49 L400.16 220.19 L399.14 219.88 L398.07 219.57 L396.95 219.24 L395.80 218.90 L394.89 218.62 L393.92 218.30 L392.91 217.97 L391.89 217.63 L390.86 217.31 L389.86 217.02 L388.90 216.78 L388.00 216.60 L386.90 216.48 L385.87 216.46 L384.89 216.51 L383.93 216.57 L382.98 216.62 L382.00 216.60 L381.00 216.56 L380.00 216.55 L379.00 216.52 L378.00 216.41 L377.00 216.19 L376.00 215.80 L375.20 215.30 L374.49 214.65 L373.80 213.91 L373.06 213.10 L372.22 212.28 L371.22 211.49 L370.00 210.76 L369.23 210.40 L368.39 210.04 L367.48 209.69 L366.52 209.34 L365.51 209.00 L364.47 208.66 L363.40 208.33 L362.32 207.99 L361.23 207.65 L360.14 207.32 L359.07 206.98 L358.02 206.64 L357.00 206.30Z" fill="#f9c3c3"/>
<path d="M357.00 202.20 L357.92 202.61 L358.83 203.03 L359.74 203.45 L360.65 203.88 L361.55 204.31 L362.46 204.74 L363.36 205.17 L364.26 205.60 L365.17 206.03 L366.07 206.46 L366.98 206.88 L367.90 207.30 L368.81 207.71 L369.73 208.12 L370.66 208.53 L371.59 208.92 L372.53 209.31 L373.48 209.68 L374.43 210.05 L375.40 210.40 L376.33 210.73 L377.26 211.05 L378.21 211.36 L379.16 211.67 L380.12 211.96 L381.08 212.26 L382.05 212.54 L383.03 212.83 L384.00 213.10 L384.98 213.37 L385.97 213.64 L386.95 213.90 L387.94 214.16 L388.93 214.41 L389.91 214.66 L390.90 214.91 L391.88 215.15 L392.87 215.39 L393.85 215.63 L394.83 215.87 L395.80 216.10 L396.82 216.34 L397.85 216.58 L398.88 216.82 L399.91 217.05 L400.94 217.27 L401.97 217.50 L403.00 217.72 L404.04 217.93 L405.07 218.14 L406.10 218.35 L407.13 218.55 L408.16 218.75 L409.18 218.95 L410.20 219.14 L411.21 219.32 L412.22 219.51 L413.23 219.69 L414.22 219.86 L415.22 220.03 L416.20 220.20 L417.30 220.38 L418.41 220.56 L419.52 220.73 L420.65 220.89 L421.77 221.05 L422.90 221.21 L424.02 221.36 L425.13 221.51 L426.22 221.65 L427.31 221.79 L428.37 221.92 L429.41 222.04 L430.43 222.17 L431.42 222.28 L432.37 222.39 L433.29 222.50 L434.17 222.60 L435.00 222.70 L436.34 222.85 L437.46 222.97 L438.42 223.07 L439.28 223.14 L440.10 223.21 L440.92 223.27 L441.81 223.33 L442.81 223.40 L443.99 223.49 L445.40 223.60 L446.19 223.66 L447.04 223.73 L447.92 223.81 L448.84 223.88 L449.80 223.96 L450.78 224.04 L451.80 224.12 L452.84 224.21 L453.90 224.29 L454.97 224.38 L456.06 224.47 L457.16 224.56 L458.26 224.64 L459.37 224.73 L460.47 224.81 L461.56 224.89 L462.64 224.97 L463.71 225.05 L464.77 225.13 L465.80 225.20 L466.82 225.27 L467.85 225.34 L468.88 225.41 L469.91 225.47 L470.94 225.54 L471.97 225.60 L473.00 225.67 L474.04 225.73 L475.07 225.79 L476.10 225.85 L477.13 225.91 L478.16 225.97 L479.18 226.03 L480.20 226.08 L481.21 226.14 L482.22 226.19 L483.23 226.25 L484.22 226.30 L485.22 226.35 L486.20 226.40 L487.26 226.45 L488.27 226.50 L489.24 226.55 L490.17 226.60 L491.09 226.64 L491.99 226.68 L492.88 226.72 L493.78 226.76 L494.69 226.80 L495.62 226.84 L496.59 226.88 L497.59 226.92 L498.65 226.96 L499.76 227.00 L500.95 227.05 L502.21 227.10 L503.56 227.15 L505.00 227.20 L505.78 227.23 L506.59 227.26 L507.42 227.29 L508.27 227.32 L509.15 227.35 L510.05 227.38 L510.96 227.41 L511.90 227.45 L512.85 227.48 L513.82 227.51 L514.80 227.55 L515.80 227.58 L516.81 227.62 L517.83 227.65 L518.87 227.69 L519.91 227.72 L520.96 227.76 L522.02 227.79 L523.08 227.83 L524.15 227.86 L525.22 227.90 L526.30 227.94 L527.37 227.97 L528.45 228.01 L529.53 228.05 L530.60 228.08 L531.67 228.12 L532.74 228.15 L533.80 228.19 L534.86 228.23 L535.91 228.26 L536.95 228.30 L537.98 228.33 L538.99 228.37 L540.00 228.40" fill="none" stroke="#ff0000" stroke-width="1.70"/>
</g>
<line x1="432.4" y1="164.6" x2="408.3" y2="197.6" stroke="#231f20" stroke-width="1.1"/>
<rect x="356.30" y="138.90" width="184.10" height="110.50" fill="none" stroke="#231f20" stroke-width="2.4"/>
<g stroke="#231f20" stroke-width="1.2">
<line x1="357" y1="198.2" x2="362.5" y2="198.2"/>
<line x1="419.5" y1="249" x2="419.5" y2="246.3"/>
<line x1="481.5" y1="249" x2="481.5" y2="246.3"/>
</g>
<text x="361.3" y="159.3" font-family="Liberation Sans, sans-serif" font-size="23" fill="#231f20" stroke="#231f20" stroke-width="0.45">(c)</text>
<text x="434.3" y="163.4" font-family="Liberation Serif, serif" font-style="italic" font-size="24.5" fill="#231f20" stroke="#231f20" stroke-width="0.45">S</text>
<text x="445.7" y="166.6" font-family="Liberation Serif, serif" font-size="10.0" font-style="italic" fill="#231f20" stroke="#231f20" stroke-width="0.4">B</text>
<text x="480.6" y="196.0" font-family="Liberation Serif, serif" font-style="italic" font-size="24.5" fill="#231f20" stroke="#231f20" stroke-width="0.45">S</text>
<text x="491.2" y="199.2" font-family="Liberation Serif, serif" font-size="10.5" font-style="italic" fill="#231f20" stroke="#231f20" stroke-width="0.4">E2</text>
<text x="431.4" y="243.6" font-family="Liberation Serif, serif" font-style="italic" font-size="24.5" fill="#231f20" stroke="#231f20" stroke-width="0.45">S</text>
<text x="442.0" y="248.6" font-family="Liberation Serif, serif" font-size="10.5" font-style="italic" fill="#231f20" stroke="#231f20" stroke-width="0.4">E1</text>
<text x="442.0" y="291.3" font-family="Liberation Serif, serif" font-style="italic" font-size="23" fill="#231f20" stroke="#231f20" stroke-width="0.4">P</text>
<text transform="translate(325.7,245.2) rotate(-90)" font-family="Liberation Sans, sans-serif" font-size="17" textLength="94.6" lengthAdjust="spacingAndGlyphs" fill="#231f20" stroke="#231f20" stroke-width="0.5">basin stability</text>
</svg></body></html>
